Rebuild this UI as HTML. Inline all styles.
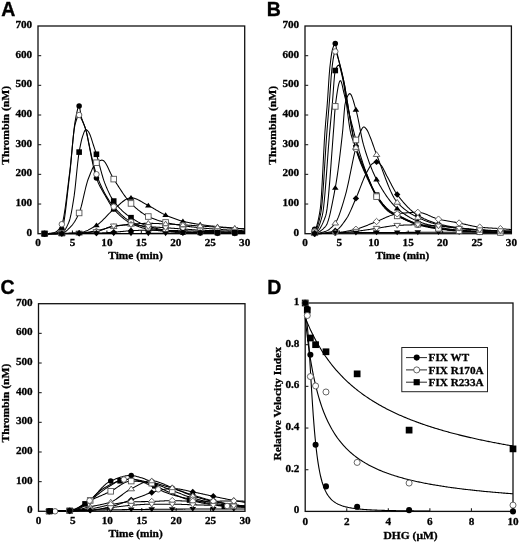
<!DOCTYPE html><html><head><meta charset="utf-8"><style>html,body{margin:0;padding:0;background:#fff;}svg{display:block;filter:blur(0.3px);}</style></head><body><svg width="520" height="542" viewBox="0 0 520 542">
<rect width="520" height="542" fill="#fff"/>
<rect x="38.0" y="26.0" width="206.7" height="207.7" fill="none" stroke="#111" stroke-width="1.3"/>
<text x="32.2" y="235.7" text-anchor="end" font-size="11.2" font-family="'Liberation Serif', serif" font-weight="bold" stroke="#000" stroke-width="0.3">0</text>
<line x1="38.0" y1="204.03" x2="41.2" y2="204.03" stroke="#222" stroke-width="1.1"/>
<text x="32.2" y="206.03" text-anchor="end" font-size="11.2" font-family="'Liberation Serif', serif" font-weight="bold" stroke="#000" stroke-width="0.3">100</text>
<line x1="38.0" y1="174.36" x2="41.2" y2="174.36" stroke="#222" stroke-width="1.1"/>
<text x="32.2" y="176.36" text-anchor="end" font-size="11.2" font-family="'Liberation Serif', serif" font-weight="bold" stroke="#000" stroke-width="0.3">200</text>
<line x1="38.0" y1="144.69" x2="41.2" y2="144.69" stroke="#222" stroke-width="1.1"/>
<text x="32.2" y="146.69" text-anchor="end" font-size="11.2" font-family="'Liberation Serif', serif" font-weight="bold" stroke="#000" stroke-width="0.3">300</text>
<line x1="38.0" y1="115.01" x2="41.2" y2="115.01" stroke="#222" stroke-width="1.1"/>
<text x="32.2" y="117.01" text-anchor="end" font-size="11.2" font-family="'Liberation Serif', serif" font-weight="bold" stroke="#000" stroke-width="0.3">400</text>
<line x1="38.0" y1="85.34" x2="41.2" y2="85.34" stroke="#222" stroke-width="1.1"/>
<text x="32.2" y="87.34" text-anchor="end" font-size="11.2" font-family="'Liberation Serif', serif" font-weight="bold" stroke="#000" stroke-width="0.3">500</text>
<line x1="38.0" y1="55.67" x2="41.2" y2="55.67" stroke="#222" stroke-width="1.1"/>
<text x="32.2" y="57.67" text-anchor="end" font-size="11.2" font-family="'Liberation Serif', serif" font-weight="bold" stroke="#000" stroke-width="0.3">600</text>
<text x="32.2" y="28" text-anchor="end" font-size="11.2" font-family="'Liberation Serif', serif" font-weight="bold" stroke="#000" stroke-width="0.3">700</text>
<text x="38" y="245.8" text-anchor="middle" font-size="11.2" font-family="'Liberation Serif', serif" font-weight="bold" stroke="#000" stroke-width="0.3">0</text>
<line x1="72.45" y1="233.7" x2="72.45" y2="230.5" stroke="#222" stroke-width="1.1"/>
<text x="72.45" y="245.8" text-anchor="middle" font-size="11.2" font-family="'Liberation Serif', serif" font-weight="bold" stroke="#000" stroke-width="0.3">5</text>
<line x1="106.9" y1="233.7" x2="106.9" y2="230.5" stroke="#222" stroke-width="1.1"/>
<text x="106.9" y="245.8" text-anchor="middle" font-size="11.2" font-family="'Liberation Serif', serif" font-weight="bold" stroke="#000" stroke-width="0.3">10</text>
<line x1="141.35" y1="233.7" x2="141.35" y2="230.5" stroke="#222" stroke-width="1.1"/>
<text x="141.35" y="245.8" text-anchor="middle" font-size="11.2" font-family="'Liberation Serif', serif" font-weight="bold" stroke="#000" stroke-width="0.3">15</text>
<line x1="175.8" y1="233.7" x2="175.8" y2="230.5" stroke="#222" stroke-width="1.1"/>
<text x="175.8" y="245.8" text-anchor="middle" font-size="11.2" font-family="'Liberation Serif', serif" font-weight="bold" stroke="#000" stroke-width="0.3">20</text>
<line x1="210.25" y1="233.7" x2="210.25" y2="230.5" stroke="#222" stroke-width="1.1"/>
<text x="210.25" y="245.8" text-anchor="middle" font-size="11.2" font-family="'Liberation Serif', serif" font-weight="bold" stroke="#000" stroke-width="0.3">25</text>
<text x="244.7" y="245.8" text-anchor="middle" font-size="11.2" font-family="'Liberation Serif', serif" font-weight="bold" stroke="#000" stroke-width="0.3">30</text>
<text x="135.5" y="258.9" text-anchor="middle" font-size="11.2" textLength="54.5" lengthAdjust="spacingAndGlyphs" font-family="'Liberation Serif', serif" font-weight="bold" stroke="#000" stroke-width="0.3">Time (min)</text>
<text transform="translate(9 125.3) rotate(-90)" text-anchor="middle" font-size="11.3" textLength="78.8" lengthAdjust="spacingAndGlyphs" font-family="'Liberation Serif', serif" font-weight="bold" stroke="#000" stroke-width="0.3">Thrombin (nM)</text>
<text x="1.2" y="15.6" font-size="19.5" font-family="'Liberation Sans', sans-serif" font-weight="bold" stroke="#000" stroke-width="0.35">A</text>
<rect x="305.0" y="26.0" width="206.4" height="207.7" fill="none" stroke="#111" stroke-width="1.3"/>
<text x="299.2" y="235.7" text-anchor="end" font-size="11.2" font-family="'Liberation Serif', serif" font-weight="bold" stroke="#000" stroke-width="0.3">0</text>
<line x1="305.0" y1="204.03" x2="308.2" y2="204.03" stroke="#222" stroke-width="1.1"/>
<text x="299.2" y="206.03" text-anchor="end" font-size="11.2" font-family="'Liberation Serif', serif" font-weight="bold" stroke="#000" stroke-width="0.3">100</text>
<line x1="305.0" y1="174.36" x2="308.2" y2="174.36" stroke="#222" stroke-width="1.1"/>
<text x="299.2" y="176.36" text-anchor="end" font-size="11.2" font-family="'Liberation Serif', serif" font-weight="bold" stroke="#000" stroke-width="0.3">200</text>
<line x1="305.0" y1="144.69" x2="308.2" y2="144.69" stroke="#222" stroke-width="1.1"/>
<text x="299.2" y="146.69" text-anchor="end" font-size="11.2" font-family="'Liberation Serif', serif" font-weight="bold" stroke="#000" stroke-width="0.3">300</text>
<line x1="305.0" y1="115.01" x2="308.2" y2="115.01" stroke="#222" stroke-width="1.1"/>
<text x="299.2" y="117.01" text-anchor="end" font-size="11.2" font-family="'Liberation Serif', serif" font-weight="bold" stroke="#000" stroke-width="0.3">400</text>
<line x1="305.0" y1="85.34" x2="308.2" y2="85.34" stroke="#222" stroke-width="1.1"/>
<text x="299.2" y="87.34" text-anchor="end" font-size="11.2" font-family="'Liberation Serif', serif" font-weight="bold" stroke="#000" stroke-width="0.3">500</text>
<line x1="305.0" y1="55.67" x2="308.2" y2="55.67" stroke="#222" stroke-width="1.1"/>
<text x="299.2" y="57.67" text-anchor="end" font-size="11.2" font-family="'Liberation Serif', serif" font-weight="bold" stroke="#000" stroke-width="0.3">600</text>
<text x="299.2" y="28" text-anchor="end" font-size="11.2" font-family="'Liberation Serif', serif" font-weight="bold" stroke="#000" stroke-width="0.3">700</text>
<text x="305" y="245.8" text-anchor="middle" font-size="11.2" font-family="'Liberation Serif', serif" font-weight="bold" stroke="#000" stroke-width="0.3">0</text>
<line x1="339.4" y1="233.7" x2="339.4" y2="230.5" stroke="#222" stroke-width="1.1"/>
<text x="339.4" y="245.8" text-anchor="middle" font-size="11.2" font-family="'Liberation Serif', serif" font-weight="bold" stroke="#000" stroke-width="0.3">5</text>
<line x1="373.8" y1="233.7" x2="373.8" y2="230.5" stroke="#222" stroke-width="1.1"/>
<text x="373.8" y="245.8" text-anchor="middle" font-size="11.2" font-family="'Liberation Serif', serif" font-weight="bold" stroke="#000" stroke-width="0.3">10</text>
<line x1="408.2" y1="233.7" x2="408.2" y2="230.5" stroke="#222" stroke-width="1.1"/>
<text x="408.2" y="245.8" text-anchor="middle" font-size="11.2" font-family="'Liberation Serif', serif" font-weight="bold" stroke="#000" stroke-width="0.3">15</text>
<line x1="442.6" y1="233.7" x2="442.6" y2="230.5" stroke="#222" stroke-width="1.1"/>
<text x="442.6" y="245.8" text-anchor="middle" font-size="11.2" font-family="'Liberation Serif', serif" font-weight="bold" stroke="#000" stroke-width="0.3">20</text>
<line x1="477" y1="233.7" x2="477" y2="230.5" stroke="#222" stroke-width="1.1"/>
<text x="477" y="245.8" text-anchor="middle" font-size="11.2" font-family="'Liberation Serif', serif" font-weight="bold" stroke="#000" stroke-width="0.3">25</text>
<text x="511.4" y="245.8" text-anchor="middle" font-size="11.2" font-family="'Liberation Serif', serif" font-weight="bold" stroke="#000" stroke-width="0.3">30</text>
<text x="402.3" y="259.2" text-anchor="middle" font-size="11.2" textLength="53.8" lengthAdjust="spacingAndGlyphs" font-family="'Liberation Serif', serif" font-weight="bold" stroke="#000" stroke-width="0.3">Time (min)</text>
<text transform="translate(275.8 125.3) rotate(-90)" text-anchor="middle" font-size="11.3" textLength="78.8" lengthAdjust="spacingAndGlyphs" font-family="'Liberation Serif', serif" font-weight="bold" stroke="#000" stroke-width="0.3">Thrombin (nM)</text>
<text x="266.8" y="15.8" font-size="19.5" font-family="'Liberation Sans', sans-serif" font-weight="bold" stroke="#000" stroke-width="0.35">B</text>
<rect x="38.5" y="303.7" width="206.5" height="207.6" fill="none" stroke="#111" stroke-width="1.3"/>
<text x="32.7" y="513.3" text-anchor="end" font-size="11.2" font-family="'Liberation Serif', serif" font-weight="bold" stroke="#000" stroke-width="0.3">0</text>
<line x1="38.5" y1="481.64" x2="41.7" y2="481.64" stroke="#222" stroke-width="1.1"/>
<text x="32.7" y="483.64" text-anchor="end" font-size="11.2" font-family="'Liberation Serif', serif" font-weight="bold" stroke="#000" stroke-width="0.3">100</text>
<line x1="38.5" y1="451.99" x2="41.7" y2="451.99" stroke="#222" stroke-width="1.1"/>
<text x="32.7" y="453.99" text-anchor="end" font-size="11.2" font-family="'Liberation Serif', serif" font-weight="bold" stroke="#000" stroke-width="0.3">200</text>
<line x1="38.5" y1="422.33" x2="41.7" y2="422.33" stroke="#222" stroke-width="1.1"/>
<text x="32.7" y="424.33" text-anchor="end" font-size="11.2" font-family="'Liberation Serif', serif" font-weight="bold" stroke="#000" stroke-width="0.3">300</text>
<line x1="38.5" y1="392.67" x2="41.7" y2="392.67" stroke="#222" stroke-width="1.1"/>
<text x="32.7" y="394.67" text-anchor="end" font-size="11.2" font-family="'Liberation Serif', serif" font-weight="bold" stroke="#000" stroke-width="0.3">400</text>
<line x1="38.5" y1="363.01" x2="41.7" y2="363.01" stroke="#222" stroke-width="1.1"/>
<text x="32.7" y="365.01" text-anchor="end" font-size="11.2" font-family="'Liberation Serif', serif" font-weight="bold" stroke="#000" stroke-width="0.3">500</text>
<line x1="38.5" y1="333.36" x2="41.7" y2="333.36" stroke="#222" stroke-width="1.1"/>
<text x="32.7" y="335.36" text-anchor="end" font-size="11.2" font-family="'Liberation Serif', serif" font-weight="bold" stroke="#000" stroke-width="0.3">600</text>
<text x="32.7" y="305.7" text-anchor="end" font-size="11.2" font-family="'Liberation Serif', serif" font-weight="bold" stroke="#000" stroke-width="0.3">700</text>
<text x="38.5" y="524.2" text-anchor="middle" font-size="11.2" font-family="'Liberation Serif', serif" font-weight="bold" stroke="#000" stroke-width="0.3">0</text>
<line x1="72.92" y1="511.3" x2="72.92" y2="508.1" stroke="#222" stroke-width="1.1"/>
<text x="72.92" y="524.2" text-anchor="middle" font-size="11.2" font-family="'Liberation Serif', serif" font-weight="bold" stroke="#000" stroke-width="0.3">5</text>
<line x1="107.33" y1="511.3" x2="107.33" y2="508.1" stroke="#222" stroke-width="1.1"/>
<text x="107.33" y="524.2" text-anchor="middle" font-size="11.2" font-family="'Liberation Serif', serif" font-weight="bold" stroke="#000" stroke-width="0.3">10</text>
<line x1="141.75" y1="511.3" x2="141.75" y2="508.1" stroke="#222" stroke-width="1.1"/>
<text x="141.75" y="524.2" text-anchor="middle" font-size="11.2" font-family="'Liberation Serif', serif" font-weight="bold" stroke="#000" stroke-width="0.3">15</text>
<line x1="176.17" y1="511.3" x2="176.17" y2="508.1" stroke="#222" stroke-width="1.1"/>
<text x="176.17" y="524.2" text-anchor="middle" font-size="11.2" font-family="'Liberation Serif', serif" font-weight="bold" stroke="#000" stroke-width="0.3">20</text>
<line x1="210.58" y1="511.3" x2="210.58" y2="508.1" stroke="#222" stroke-width="1.1"/>
<text x="210.58" y="524.2" text-anchor="middle" font-size="11.2" font-family="'Liberation Serif', serif" font-weight="bold" stroke="#000" stroke-width="0.3">25</text>
<text x="245" y="524.2" text-anchor="middle" font-size="11.2" font-family="'Liberation Serif', serif" font-weight="bold" stroke="#000" stroke-width="0.3">30</text>
<text x="135.6" y="536.6" text-anchor="middle" font-size="11.2" textLength="54.2" lengthAdjust="spacingAndGlyphs" font-family="'Liberation Serif', serif" font-weight="bold" stroke="#000" stroke-width="0.3">Time (min)</text>
<text transform="translate(9 403.1) rotate(-90)" text-anchor="middle" font-size="11.3" textLength="78.8" lengthAdjust="spacingAndGlyphs" font-family="'Liberation Serif', serif" font-weight="bold" stroke="#000" stroke-width="0.3">Thrombin (nM)</text>
<text x="0.5" y="293.9" font-size="19.5" font-family="'Liberation Sans', sans-serif" font-weight="bold" stroke="#000" stroke-width="0.35">C</text>
<rect x="305.2" y="303.0" width="207.8" height="208.4" fill="none" stroke="#111" stroke-width="1.3"/>
<text x="299.4" y="513.4" text-anchor="end" font-size="11.2" font-family="'Liberation Serif', serif" font-weight="bold" stroke="#000" stroke-width="0.3">0</text>
<line x1="305.2" y1="469.72" x2="308.4" y2="469.72" stroke="#222" stroke-width="1.1"/>
<text x="299.4" y="471.72" text-anchor="end" font-size="11.2" font-family="'Liberation Serif', serif" font-weight="bold" stroke="#000" stroke-width="0.3">0.2</text>
<line x1="305.2" y1="428.04" x2="308.4" y2="428.04" stroke="#222" stroke-width="1.1"/>
<text x="299.4" y="430.04" text-anchor="end" font-size="11.2" font-family="'Liberation Serif', serif" font-weight="bold" stroke="#000" stroke-width="0.3">0.4</text>
<line x1="305.2" y1="386.36" x2="308.4" y2="386.36" stroke="#222" stroke-width="1.1"/>
<text x="299.4" y="388.36" text-anchor="end" font-size="11.2" font-family="'Liberation Serif', serif" font-weight="bold" stroke="#000" stroke-width="0.3">0.6</text>
<line x1="305.2" y1="344.68" x2="308.4" y2="344.68" stroke="#222" stroke-width="1.1"/>
<text x="299.4" y="346.68" text-anchor="end" font-size="11.2" font-family="'Liberation Serif', serif" font-weight="bold" stroke="#000" stroke-width="0.3">0.8</text>
<text x="299.4" y="305" text-anchor="end" font-size="11.2" font-family="'Liberation Serif', serif" font-weight="bold" stroke="#000" stroke-width="0.3">1</text>
<text x="305.2" y="525.2" text-anchor="middle" font-size="11.2" font-family="'Liberation Serif', serif" font-weight="bold" stroke="#000" stroke-width="0.3">0</text>
<line x1="346.76" y1="511.4" x2="346.76" y2="508.2" stroke="#222" stroke-width="1.1"/>
<text x="346.76" y="525.2" text-anchor="middle" font-size="11.2" font-family="'Liberation Serif', serif" font-weight="bold" stroke="#000" stroke-width="0.3">2</text>
<line x1="388.32" y1="511.4" x2="388.32" y2="508.2" stroke="#222" stroke-width="1.1"/>
<text x="388.32" y="525.2" text-anchor="middle" font-size="11.2" font-family="'Liberation Serif', serif" font-weight="bold" stroke="#000" stroke-width="0.3">4</text>
<line x1="429.88" y1="511.4" x2="429.88" y2="508.2" stroke="#222" stroke-width="1.1"/>
<text x="429.88" y="525.2" text-anchor="middle" font-size="11.2" font-family="'Liberation Serif', serif" font-weight="bold" stroke="#000" stroke-width="0.3">6</text>
<line x1="471.44" y1="511.4" x2="471.44" y2="508.2" stroke="#222" stroke-width="1.1"/>
<text x="471.44" y="525.2" text-anchor="middle" font-size="11.2" font-family="'Liberation Serif', serif" font-weight="bold" stroke="#000" stroke-width="0.3">8</text>
<text x="513" y="525.2" text-anchor="middle" font-size="11.2" font-family="'Liberation Serif', serif" font-weight="bold" stroke="#000" stroke-width="0.3">10</text>
<text x="410.6" y="538.5" text-anchor="middle" font-size="11.2" textLength="54.2" lengthAdjust="spacingAndGlyphs" font-family="'Liberation Serif', serif" font-weight="bold" stroke="#000" stroke-width="0.3">DHG (μM)</text>
<text transform="translate(281 403.8) rotate(-90)" text-anchor="middle" font-size="11.3" textLength="113.6" lengthAdjust="spacingAndGlyphs" font-family="'Liberation Serif', serif" font-weight="bold" stroke="#000" stroke-width="0.3">Relative Velocity Index</text>
<text x="267.2" y="293.6" font-size="19.5" font-family="'Liberation Sans', sans-serif" font-weight="bold" stroke="#000" stroke-width="0.35">D</text>
<path d="M44.55 233.7L45.24 233.7L45.93 233.69L46.62 233.68L47.31 233.66L48 233.64L48.69 233.61L49.38 233.58L50.07 233.54L50.76 233.5L51.45 233.45L52.14 233.4L52.83 233.34L53.52 233.28L54.21 233.21L54.9 233.14L55.59 233.06L56.28 232.91L56.97 232.7L57.66 232.41L58.35 232.06L59.04 231.64L59.73 231.16L60.42 230.6L61.11 229.98L61.8 229.29L62.49 228.01L63.18 225.57L63.87 222.13L64.56 217.83L65.25 212.84L65.94 207.31L66.63 201.39L67.32 195.23L68.01 188.99L68.7 182.82L69.39 176.88L70.08 170.95L70.77 164.11L71.46 156.63L72.15 148.88L72.84 141.24L73.53 134.07L74.22 127.75L74.91 122.65L75.6 118.82L76.29 115.15L76.98 111.76L77.67 108.93L78.36 106.95L79.05 106.12L79.75 107.82L80.44 112.13L81.13 116.19L81.82 118.65L82.51 120.69L83.2 122.49L83.89 124.21L84.58 126L85.27 128L85.96 130.37L86.65 133.23L87.34 136.45L88.03 139.88L88.72 143.36L89.41 146.8L90.1 150.43L90.79 154.09L91.48 157.61L92.17 160.85L92.86 164.06L93.55 167.21L94.24 170.25L94.93 173.07L95.62 175.61L96.31 177.78L97 179.65L97.69 181.39L98.38 183.01L99.07 184.53L99.76 185.96L100.45 187.32L101.14 188.61L101.83 189.85L102.52 191.05L103.21 192.22L103.9 193.38L104.59 194.55L105.28 195.72L105.97 196.92L106.66 198.13L107.35 199.34L108.04 200.55L108.73 201.74L109.42 202.9L110.11 204.03L110.8 205.12L111.49 206.16L112.18 207.14L112.87 208.06L113.56 208.89L114.25 209.67L114.94 210.43L115.63 211.17L116.33 211.9L117.02 212.61L117.71 213.3L118.4 213.98L119.09 214.65L119.78 215.29L120.47 215.93L121.16 216.54L121.85 217.14L122.54 217.71L123.23 218.28L123.92 218.82L124.61 219.35L125.3 219.85L125.99 220.34L126.68 220.81L127.37 221.26L128.06 221.69L128.75 222.1L129.44 222.5L130.13 222.87L130.82 223.22L131.51 223.55L132.2 223.88L132.89 224.2L133.58 224.51L134.27 224.82L134.96 225.12L135.65 225.41L136.34 225.7L137.03 225.97L137.72 226.24L138.41 226.5L139.1 226.76L139.79 227L140.48 227.24L141.17 227.46L141.86 227.68L142.55 227.89L143.24 228.09L143.93 228.28L144.62 228.46L145.31 228.63L146 228.8L146.69 228.95L147.38 229.09L148.07 229.22L148.76 229.34L149.45 229.46L150.14 229.57L150.83 229.68L151.52 229.79L152.21 229.89L152.91 229.99L153.6 230.08L154.29 230.17L154.98 230.26L155.67 230.34L156.36 230.43L157.05 230.51L157.74 230.58L158.43 230.66L159.12 230.73L159.81 230.8L160.5 230.87L161.19 230.94L161.88 231L162.57 231.07L163.26 231.13L163.95 231.19L164.64 231.25L165.33 231.31L166.02 231.38L166.71 231.44L167.4 231.5L168.09 231.56L168.78 231.62L169.47 231.68L170.16 231.74L170.85 231.8L171.54 231.86L172.23 231.92L172.92 231.98L173.61 232.03L174.3 232.08L174.99 232.13L175.68 232.18L176.37 232.23L177.06 232.27L177.75 232.32L178.44 232.35L179.13 232.39L179.82 232.42L180.51 232.45L181.2 232.47L181.89 232.49L182.58 232.51L183.27 232.52L183.96 232.54L184.65 232.55L185.34 232.56L186.03 232.58L186.72 232.59L187.41 232.6L188.1 232.61L188.79 232.63L189.48 232.64L190.18 232.65L190.87 232.66L191.56 232.67L192.25 232.69L192.94 232.7L193.63 232.71L194.32 232.72L195.01 232.73L195.7 232.74L196.39 232.75L197.08 232.76L197.77 232.77L198.46 232.78L199.15 232.79L199.84 232.8L200.53 232.81L201.22 232.82L201.91 232.83L202.6 232.84L203.29 232.85L203.98 232.85L204.67 232.86L205.36 232.87L206.05 232.88L206.74 232.89L207.43 232.9L208.12 232.9L208.81 232.91L209.5 232.92L210.19 232.93L210.88 232.93L211.57 232.94L212.26 232.95L212.95 232.95L213.64 232.96L214.33 232.97L215.02 232.97L215.71 232.98L216.4 232.99L217.09 232.99L217.78 233L218.47 233L219.16 233.01L219.85 233.01L220.54 233.02L221.23 233.02L221.92 233.03L222.61 233.03L223.3 233.04L223.99 233.04L224.68 233.05L225.37 233.05L226.06 233.05L226.76 233.06L227.45 233.06L228.14 233.07L228.83 233.07L229.52 233.07L230.21 233.08L230.9 233.08L231.59 233.08L232.28 233.08L232.97 233.09L233.66 233.09L234.35 233.09L235.04 233.09L235.73 233.09L236.42 233.1L237.11 233.1L237.8 233.1L238.49 233.1L239.18 233.1L239.87 233.1L240.56 233.1L241.25 233.1L241.94 233.11L242.63 233.11L243.32 233.11L244.01 233.11L244.7 233.11" fill="none" stroke="#000" stroke-width="1.05"/>
<path d="M44.55 233.7L45.24 233.69L45.93 233.67L46.62 233.64L47.31 233.59L48 233.54L48.69 233.47L49.38 233.38L50.07 233.29L50.76 233.18L51.45 233.06L52.14 232.93L52.83 232.79L53.52 232.64L54.21 232.48L54.9 232.3L55.59 232.1L56.28 231.76L56.97 231.27L57.66 230.64L58.35 229.88L59.04 228.99L59.73 227.97L60.42 226.85L61.11 225.62L61.8 224.28L62.49 222.47L63.18 219.77L63.87 216.29L64.56 212.16L65.25 207.48L65.94 202.39L66.63 196.99L67.32 191.4L68.01 185.73L68.7 180.11L69.39 174.66L70.08 169.14L70.77 162.67L71.46 155.59L72.15 148.28L72.84 141.17L73.53 134.67L74.22 129.18L74.91 125.11L75.6 122.54L76.29 120.26L76.98 118.24L77.67 116.6L78.36 115.48L79.05 115.02L79.75 115.51L80.44 116.87L81.13 118.42L81.82 119.81L82.51 121.25L83.2 122.78L83.89 124.42L84.58 126.21L85.27 128.16L85.96 130.31L86.65 132.93L87.34 135.97L88.03 139.24L88.72 142.54L89.41 145.79L90.1 149.23L90.79 152.69L91.48 155.98L92.17 158.95L92.86 161.77L93.55 164.49L94.24 167.09L94.93 169.55L95.62 171.83L96.31 173.92L97 175.86L97.69 177.72L98.38 179.51L99.07 181.23L99.76 182.89L100.45 184.48L101.14 186.02L101.83 187.51L102.52 188.94L103.21 190.32L103.9 191.66L104.59 192.96L105.28 194.21L105.97 195.43L106.66 196.62L107.35 197.78L108.04 198.9L108.73 199.98L109.42 201.03L110.11 202.05L110.8 203.02L111.49 203.96L112.18 204.86L112.87 205.71L113.56 206.52L114.25 207.3L114.94 208.07L115.63 208.83L116.33 209.58L117.02 210.32L117.71 211.05L118.4 211.77L119.09 212.48L119.78 213.17L120.47 213.85L121.16 214.51L121.85 215.16L122.54 215.79L123.23 216.4L123.92 217L124.61 217.57L125.3 218.13L125.99 218.66L126.68 219.17L127.37 219.66L128.06 220.12L128.75 220.57L129.44 220.98L130.13 221.37L130.82 221.73L131.51 222.07L132.2 222.4L132.89 222.72L133.58 223.03L134.27 223.33L134.96 223.62L135.65 223.9L136.34 224.18L137.03 224.44L137.72 224.7L138.41 224.95L139.1 225.19L139.79 225.42L140.48 225.65L141.17 225.87L141.86 226.08L142.55 226.29L143.24 226.49L143.93 226.68L144.62 226.87L145.31 227.05L146 227.23L146.69 227.4L147.38 227.57L148.07 227.73L148.76 227.89L149.45 228.04L150.14 228.19L150.83 228.34L151.52 228.48L152.21 228.63L152.91 228.76L153.6 228.9L154.29 229.03L154.98 229.16L155.67 229.29L156.36 229.41L157.05 229.53L157.74 229.65L158.43 229.76L159.12 229.87L159.81 229.98L160.5 230.08L161.19 230.18L161.88 230.28L162.57 230.37L163.26 230.46L163.95 230.55L164.64 230.64L165.33 230.72L166.02 230.8L166.71 230.88L167.4 230.95L168.09 231.03L168.78 231.11L169.47 231.19L170.16 231.26L170.85 231.34L171.54 231.41L172.23 231.48L172.92 231.55L173.61 231.62L174.3 231.68L174.99 231.74L175.68 231.8L176.37 231.86L177.06 231.91L177.75 231.97L178.44 232.01L179.13 232.06L179.82 232.1L180.51 232.13L181.2 232.16L181.89 232.19L182.58 232.21L183.27 232.23L183.96 232.25L184.65 232.27L185.34 232.29L186.03 232.31L186.72 232.33L187.41 232.35L188.1 232.36L188.79 232.38L189.48 232.4L190.18 232.42L190.87 232.43L191.56 232.45L192.25 232.47L192.94 232.48L193.63 232.5L194.32 232.52L195.01 232.53L195.7 232.55L196.39 232.56L197.08 232.58L197.77 232.59L198.46 232.61L199.15 232.62L199.84 232.64L200.53 232.65L201.22 232.67L201.91 232.68L202.6 232.69L203.29 232.71L203.98 232.72L204.67 232.73L205.36 232.75L206.05 232.76L206.74 232.77L207.43 232.78L208.12 232.79L208.81 232.81L209.5 232.82L210.19 232.83L210.88 232.84L211.57 232.85L212.26 232.86L212.95 232.87L213.64 232.88L214.33 232.89L215.02 232.9L215.71 232.91L216.4 232.92L217.09 232.93L217.78 232.94L218.47 232.95L219.16 232.95L219.85 232.96L220.54 232.97L221.23 232.98L221.92 232.99L222.61 232.99L223.3 233L223.99 233.01L224.68 233.01L225.37 233.02L226.06 233.03L226.76 233.03L227.45 233.04L228.14 233.04L228.83 233.05L229.52 233.05L230.21 233.06L230.9 233.06L231.59 233.07L232.28 233.07L232.97 233.07L233.66 233.08L234.35 233.08L235.04 233.08L235.73 233.09L236.42 233.09L237.11 233.09L237.8 233.1L238.49 233.1L239.18 233.1L239.87 233.1L240.56 233.1L241.25 233.1L241.94 233.1L242.63 233.11L243.32 233.11L244.01 233.11L244.7 233.11" fill="none" stroke="#000" stroke-width="1.05"/>
<path d="M44.55 233.7L45.24 233.7L45.93 233.69L46.62 233.69L47.31 233.67L48 233.66L48.69 233.64L49.38 233.62L50.07 233.59L50.76 233.57L51.45 233.53L52.14 233.5L52.83 233.45L53.52 233.41L54.21 233.36L54.9 233.31L55.59 233.25L56.28 233.19L56.97 233.12L57.66 233.05L58.35 232.97L59.04 232.89L59.73 232.81L60.42 232.72L61.11 232.62L61.8 232.52L62.49 232.31L63.18 231.88L63.87 231.25L64.56 230.42L65.25 229.43L65.94 228.29L66.63 227.01L67.32 225.61L68.01 224.12L68.7 222.54L69.39 220.8L70.08 218.43L70.77 215.49L71.46 212.06L72.15 208.26L72.84 204.18L73.53 199.93L74.22 195.41L74.91 189.83L75.6 183.46L76.29 176.65L76.98 169.79L77.67 163.24L78.36 157.38L79.05 152.57L79.75 148.67L80.44 145.07L81.13 141.83L81.82 138.99L82.51 136.6L83.2 134.62L83.89 132.67L84.58 130.99L85.27 129.87L85.96 129.56L86.65 129.85L87.34 130.45L88.03 131.24L88.72 132.12L89.41 133.41L90.1 135.06L90.79 136.83L91.48 138.88L92.17 141.1L92.86 143.35L93.55 145.49L94.24 147.57L94.93 149.64L95.62 151.73L96.31 153.88L97 156.13L97.69 158.52L98.38 161.01L99.07 163.57L99.76 166.16L100.45 168.76L101.14 171.33L101.83 173.85L102.52 176.26L103.21 178.56L103.9 180.69L104.59 182.63L105.28 184.39L105.97 186.09L106.66 187.74L107.35 189.34L108.04 190.88L108.73 192.36L109.42 193.78L110.11 195.14L110.8 196.42L111.49 197.64L112.18 198.79L112.87 199.86L113.56 200.85L114.25 201.77L114.94 202.67L115.63 203.55L116.33 204.39L117.02 205.22L117.71 206.02L118.4 206.8L119.09 207.56L119.78 208.29L120.47 209L121.16 209.7L121.85 210.37L122.54 211.02L123.23 211.66L123.92 212.27L124.61 212.87L125.3 213.45L125.99 214.02L126.68 214.57L127.37 215.1L128.06 215.62L128.75 216.12L129.44 216.61L130.13 217.08L130.82 217.55L131.51 218L132.2 218.45L132.89 218.88L133.58 219.31L134.27 219.74L134.96 220.15L135.65 220.56L136.34 220.95L137.03 221.34L137.72 221.72L138.41 222.1L139.1 222.46L139.79 222.81L140.48 223.16L141.17 223.49L141.86 223.81L142.55 224.12L143.24 224.43L143.93 224.72L144.62 225L145.31 225.27L146 225.53L146.69 225.77L147.38 226.01L148.07 226.23L148.76 226.44L149.45 226.65L150.14 226.85L150.83 227.05L151.52 227.24L152.21 227.43L152.91 227.61L153.6 227.79L154.29 227.97L154.98 228.14L155.67 228.3L156.36 228.46L157.05 228.62L157.74 228.77L158.43 228.91L159.12 229.05L159.81 229.19L160.5 229.32L161.19 229.45L161.88 229.57L162.57 229.69L163.26 229.8L163.95 229.91L164.64 230.02L165.33 230.12L166.02 230.22L166.71 230.31L167.4 230.41L168.09 230.51L168.78 230.6L169.47 230.7L170.16 230.79L170.85 230.88L171.54 230.97L172.23 231.05L172.92 231.14L173.61 231.22L174.3 231.3L174.99 231.37L175.68 231.44L176.37 231.51L177.06 231.57L177.75 231.63L178.44 231.69L179.13 231.74L179.82 231.79L180.51 231.83L181.2 231.86L181.89 231.89L182.58 231.92L183.27 231.94L183.96 231.96L184.65 231.98L185.34 232L186.03 232.02L186.72 232.03L187.41 232.05L188.1 232.07L188.79 232.09L189.48 232.11L190.18 232.13L190.87 232.14L191.56 232.16L192.25 232.18L192.94 232.19L193.63 232.21L194.32 232.23L195.01 232.24L195.7 232.26L196.39 232.28L197.08 232.29L197.77 232.31L198.46 232.32L199.15 232.34L199.84 232.35L200.53 232.36L201.22 232.38L201.91 232.39L202.6 232.41L203.29 232.42L203.98 232.43L204.67 232.45L205.36 232.46L206.05 232.47L206.74 232.48L207.43 232.49L208.12 232.51L208.81 232.52L209.5 232.53L210.19 232.54L210.88 232.55L211.57 232.56L212.26 232.57L212.95 232.58L213.64 232.59L214.33 232.6L215.02 232.61L215.71 232.62L216.4 232.63L217.09 232.64L217.78 232.65L218.47 232.66L219.16 232.66L219.85 232.67L220.54 232.68L221.23 232.69L221.92 232.69L222.61 232.7L223.3 232.71L223.99 232.71L224.68 232.72L225.37 232.73L226.06 232.73L226.76 232.74L227.45 232.74L228.14 232.75L228.83 232.75L229.52 232.76L230.21 232.76L230.9 232.77L231.59 232.77L232.28 232.78L232.97 232.78L233.66 232.78L234.35 232.79L235.04 232.79L235.73 232.79L236.42 232.79L237.11 232.8L237.8 232.8L238.49 232.8L239.18 232.8L239.87 232.8L240.56 232.81L241.25 232.81L241.94 232.81L242.63 232.81L243.32 232.81L244.01 232.81L244.7 232.81" fill="none" stroke="#000" stroke-width="1.05"/>
<path d="M44.55 233.7L45.24 233.7L45.93 233.7L46.62 233.69L47.31 233.69L48 233.68L48.69 233.67L49.38 233.66L50.07 233.64L50.76 233.63L51.45 233.61L52.14 233.59L52.83 233.57L53.52 233.55L54.21 233.52L54.9 233.5L55.59 233.47L56.28 233.44L56.97 233.4L57.66 233.37L58.35 233.33L59.04 233.29L59.73 233.25L60.42 233.2L61.11 233.16L61.8 233.11L62.49 233.01L63.18 232.82L63.87 232.53L64.56 232.16L65.25 231.72L65.94 231.22L66.63 230.65L67.32 230.04L68.01 229.4L68.7 228.72L69.39 228.02L70.08 227.31L70.77 226.59L71.46 225.87L72.15 225.08L72.84 224.21L73.53 223.27L74.22 222.26L74.91 221.17L75.6 220.01L76.29 218.77L76.98 217.47L77.67 216.09L78.36 214.63L79.05 213.11L79.75 211.38L80.44 209.29L81.13 206.89L81.82 204.25L82.51 201.42L83.2 198.48L83.89 195.47L84.58 192.45L85.27 189.5L85.96 186.68L86.65 184.03L87.34 181.63L88.03 179.53L88.72 177.72L89.41 175.95L90.1 174.2L90.79 172.49L91.48 170.84L92.17 169.28L92.86 167.83L93.55 166.5L94.24 165.31L94.93 164.29L95.62 163.45L96.31 162.82L97 162.32L97.69 161.85L98.38 161.4L99.07 161.01L99.76 160.67L100.45 160.4L101.14 160.21L101.83 160.12L102.52 160.17L103.21 160.47L103.9 161L104.59 161.74L105.28 162.67L105.97 163.75L106.66 164.97L107.35 166.29L108.04 167.7L108.73 169.16L109.42 170.66L110.11 172.16L110.8 173.64L111.49 175.07L112.18 176.44L112.87 177.71L113.56 178.86L114.25 179.92L114.94 180.98L115.63 182.04L116.33 183.12L117.02 184.19L117.71 185.27L118.4 186.35L119.09 187.42L119.78 188.49L120.47 189.55L121.16 190.6L121.85 191.64L122.54 192.67L123.23 193.69L123.92 194.68L124.61 195.66L125.3 196.61L125.99 197.54L126.68 198.45L127.37 199.33L128.06 200.18L128.75 201L129.44 201.78L130.13 202.53L130.82 203.24L131.51 203.92L132.2 204.59L132.89 205.25L133.58 205.89L134.27 206.53L134.96 207.16L135.65 207.77L136.34 208.37L137.03 208.96L137.72 209.54L138.41 210.1L139.1 210.65L139.79 211.19L140.48 211.71L141.17 212.22L141.86 212.71L142.55 213.19L143.24 213.65L143.93 214.1L144.62 214.53L145.31 214.94L146 215.33L146.69 215.71L147.38 216.07L148.07 216.41L148.76 216.74L149.45 217.05L150.14 217.36L150.83 217.66L151.52 217.95L152.21 218.23L152.91 218.51L153.6 218.78L154.29 219.04L154.98 219.29L155.67 219.54L156.36 219.78L157.05 220.02L157.74 220.24L158.43 220.47L159.12 220.68L159.81 220.89L160.5 221.1L161.19 221.3L161.88 221.49L162.57 221.68L163.26 221.86L163.95 222.04L164.64 222.22L165.33 222.39L166.02 222.56L166.71 222.72L167.4 222.88L168.09 223.04L168.78 223.19L169.47 223.34L170.16 223.49L170.85 223.63L171.54 223.77L172.23 223.91L172.92 224.05L173.61 224.18L174.3 224.31L174.99 224.43L175.68 224.56L176.37 224.68L177.06 224.8L177.75 224.91L178.44 225.03L179.13 225.14L179.82 225.25L180.51 225.36L181.2 225.47L181.89 225.57L182.58 225.67L183.27 225.77L183.96 225.87L184.65 225.97L185.34 226.07L186.03 226.16L186.72 226.25L187.41 226.34L188.1 226.43L188.79 226.52L189.48 226.61L190.18 226.69L190.87 226.78L191.56 226.86L192.25 226.94L192.94 227.02L193.63 227.1L194.32 227.17L195.01 227.25L195.7 227.33L196.39 227.4L197.08 227.47L197.77 227.55L198.46 227.62L199.15 227.69L199.84 227.76L200.53 227.83L201.22 227.9L201.91 227.96L202.6 228.03L203.29 228.1L203.98 228.16L204.67 228.23L205.36 228.29L206.05 228.36L206.74 228.42L207.43 228.48L208.12 228.54L208.81 228.6L209.5 228.66L210.19 228.72L210.88 228.78L211.57 228.83L212.26 228.89L212.95 228.94L213.64 229L214.33 229.05L215.02 229.1L215.71 229.15L216.4 229.2L217.09 229.25L217.78 229.29L218.47 229.34L219.16 229.38L219.85 229.43L220.54 229.48L221.23 229.52L221.92 229.56L222.61 229.61L223.3 229.65L223.99 229.7L224.68 229.74L225.37 229.78L226.06 229.82L226.76 229.87L227.45 229.91L228.14 229.95L228.83 229.99L229.52 230.03L230.21 230.07L230.9 230.11L231.59 230.14L232.28 230.18L232.97 230.22L233.66 230.25L234.35 230.29L235.04 230.32L235.73 230.36L236.42 230.39L237.11 230.42L237.8 230.46L238.49 230.49L239.18 230.52L239.87 230.55L240.56 230.58L241.25 230.6L241.94 230.63L242.63 230.66L243.32 230.68L244.01 230.71L244.7 230.73" fill="none" stroke="#000" stroke-width="1.05"/>
<path d="M44.55 233.7L45.24 233.7L45.93 233.7L46.62 233.7L47.31 233.69L48 233.69L48.69 233.69L49.38 233.68L50.07 233.68L50.76 233.67L51.45 233.67L52.14 233.66L52.83 233.65L53.52 233.64L54.21 233.64L54.9 233.63L55.59 233.62L56.28 233.6L56.97 233.59L57.66 233.58L58.35 233.57L59.04 233.55L59.73 233.54L60.42 233.52L61.11 233.51L61.8 233.49L62.49 233.47L63.18 233.45L63.87 233.43L64.56 233.41L65.25 233.39L65.94 233.37L66.63 233.35L67.32 233.33L68.01 233.3L68.7 233.28L69.39 233.25L70.08 233.23L70.77 233.2L71.46 233.17L72.15 233.14L72.84 233.11L73.53 233.08L74.22 233.05L74.91 233.02L75.6 232.99L76.29 232.96L76.98 232.92L77.67 232.89L78.36 232.85L79.05 232.81L79.75 232.76L80.44 232.68L81.13 232.57L81.82 232.43L82.51 232.26L83.2 232.07L83.89 231.85L84.58 231.61L85.27 231.35L85.96 231.06L86.65 230.76L87.34 230.44L88.03 230.11L88.72 229.76L89.41 229.4L90.1 229.03L90.79 228.65L91.48 228.26L92.17 227.86L92.86 227.46L93.55 227.05L94.24 226.65L94.93 226.24L95.62 225.83L96.31 225.42L97 225L97.69 224.53L98.38 224.03L99.07 223.49L99.76 222.91L100.45 222.31L101.14 221.68L101.83 221.03L102.52 220.36L103.21 219.67L103.9 218.97L104.59 218.26L105.28 217.54L105.97 216.81L106.66 216.09L107.35 215.37L108.04 214.65L108.73 213.94L109.42 213.25L110.11 212.57L110.8 211.9L111.49 211.26L112.18 210.64L112.87 210.05L113.56 209.49L114.25 208.95L114.94 208.38L115.63 207.8L116.33 207.2L117.02 206.6L117.71 205.98L118.4 205.36L119.09 204.74L119.78 204.12L120.47 203.51L121.16 202.92L121.85 202.33L122.54 201.77L123.23 201.23L123.92 200.71L124.61 200.23L125.3 199.77L125.99 199.36L126.68 198.98L127.37 198.65L128.06 198.37L128.75 198.14L129.44 197.97L130.13 197.85L130.82 197.8L131.51 197.81L132.2 197.86L132.89 197.96L133.58 198.1L134.27 198.27L134.96 198.48L135.65 198.72L136.34 198.99L137.03 199.29L137.72 199.61L138.41 199.95L139.1 200.31L139.79 200.68L140.48 201.07L141.17 201.47L141.86 201.87L142.55 202.28L143.24 202.7L143.93 203.11L144.62 203.52L145.31 203.92L146 204.32L146.69 204.7L147.38 205.07L148.07 205.43L148.76 205.77L149.45 206.13L150.14 206.5L150.83 206.87L151.52 207.26L152.21 207.65L152.91 208.05L153.6 208.45L154.29 208.86L154.98 209.27L155.67 209.68L156.36 210.09L157.05 210.5L157.74 210.91L158.43 211.31L159.12 211.71L159.81 212.11L160.5 212.5L161.19 212.88L161.88 213.25L162.57 213.62L163.26 213.97L163.95 214.31L164.64 214.63L165.33 214.95L166.02 215.25L166.71 215.55L167.4 215.84L168.09 216.14L168.78 216.43L169.47 216.71L170.16 217L170.85 217.28L171.54 217.55L172.23 217.82L172.92 218.09L173.61 218.35L174.3 218.61L174.99 218.86L175.68 219.11L176.37 219.35L177.06 219.58L177.75 219.81L178.44 220.03L179.13 220.25L179.82 220.46L180.51 220.66L181.2 220.85L181.89 221.03L182.58 221.21L183.27 221.38L183.96 221.55L184.65 221.71L185.34 221.87L186.03 222.02L186.72 222.17L187.41 222.32L188.1 222.46L188.79 222.6L189.48 222.74L190.18 222.88L190.87 223.01L191.56 223.13L192.25 223.26L192.94 223.38L193.63 223.5L194.32 223.62L195.01 223.74L195.7 223.85L196.39 223.96L197.08 224.07L197.77 224.18L198.46 224.28L199.15 224.39L199.84 224.49L200.53 224.59L201.22 224.69L201.91 224.79L202.6 224.88L203.29 224.98L203.98 225.07L204.67 225.16L205.36 225.25L206.05 225.34L206.74 225.42L207.43 225.51L208.12 225.59L208.81 225.67L209.5 225.76L210.19 225.84L210.88 225.91L211.57 225.99L212.26 226.07L212.95 226.14L213.64 226.22L214.33 226.29L215.02 226.36L215.71 226.43L216.4 226.5L217.09 226.57L217.78 226.64L218.47 226.71L219.16 226.78L219.85 226.84L220.54 226.9L221.23 226.97L221.92 227.03L222.61 227.09L223.3 227.15L223.99 227.2L224.68 227.26L225.37 227.32L226.06 227.38L226.76 227.43L227.45 227.49L228.14 227.55L228.83 227.6L229.52 227.66L230.21 227.72L230.9 227.77L231.59 227.83L232.28 227.89L232.97 227.94L233.66 228L234.35 228.06L235.04 228.12L235.73 228.18L236.42 228.24L237.11 228.3L237.8 228.36L238.49 228.42L239.18 228.48L239.87 228.54L240.56 228.6L241.25 228.66L241.94 228.71L242.63 228.77L243.32 228.83L244.01 228.89L244.7 228.95" fill="none" stroke="#000" stroke-width="1.05"/>
<path d="M44.55 233.7L45.24 233.7L45.93 233.7L46.62 233.7L47.31 233.7L48 233.69L48.69 233.69L49.38 233.69L50.07 233.68L50.76 233.68L51.45 233.68L52.14 233.67L52.83 233.66L53.52 233.66L54.21 233.65L54.9 233.64L55.59 233.64L56.28 233.63L56.97 233.62L57.66 233.61L58.35 233.6L59.04 233.59L59.73 233.58L60.42 233.57L61.11 233.56L61.8 233.55L62.49 233.54L63.18 233.52L63.87 233.51L64.56 233.5L65.25 233.48L65.94 233.47L66.63 233.45L67.32 233.44L68.01 233.42L68.7 233.41L69.39 233.39L70.08 233.37L70.77 233.35L71.46 233.34L72.15 233.32L72.84 233.3L73.53 233.28L74.22 233.26L74.91 233.24L75.6 233.22L76.29 233.2L76.98 233.18L77.67 233.15L78.36 233.13L79.05 233.11L79.75 233.08L80.44 233.05L81.13 233L81.82 232.95L82.51 232.89L83.2 232.82L83.89 232.75L84.58 232.67L85.27 232.58L85.96 232.49L86.65 232.39L87.34 232.29L88.03 232.18L88.72 232.07L89.41 231.96L90.1 231.84L90.79 231.72L91.48 231.6L92.17 231.48L92.86 231.36L93.55 231.23L94.24 231.11L94.93 230.99L95.62 230.86L96.31 230.74L97 230.62L97.69 230.48L98.38 230.34L99.07 230.19L99.76 230.03L100.45 229.86L101.14 229.69L101.83 229.51L102.52 229.33L103.21 229.15L103.9 228.96L104.59 228.78L105.28 228.59L105.97 228.4L106.66 228.22L107.35 228.03L108.04 227.85L108.73 227.67L109.42 227.5L110.11 227.33L110.8 227.17L111.49 227.02L112.18 226.87L112.87 226.73L113.56 226.61L114.25 226.49L114.94 226.37L115.63 226.25L116.33 226.13L117.02 226.01L117.71 225.9L118.4 225.79L119.09 225.68L119.78 225.57L120.47 225.46L121.16 225.36L121.85 225.25L122.54 225.15L123.23 225.06L123.92 224.96L124.61 224.87L125.3 224.78L125.99 224.7L126.68 224.62L127.37 224.54L128.06 224.47L128.75 224.4L129.44 224.34L130.13 224.28L130.82 224.22L131.51 224.17L132.2 224.12L132.89 224.06L133.58 224.01L134.27 223.96L134.96 223.91L135.65 223.86L136.34 223.81L137.03 223.76L137.72 223.72L138.41 223.67L139.1 223.63L139.79 223.59L140.48 223.55L141.17 223.51L141.86 223.48L142.55 223.45L143.24 223.42L143.93 223.39L144.62 223.37L145.31 223.35L146 223.34L146.69 223.33L147.38 223.32L148.07 223.32L148.76 223.32L149.45 223.32L150.14 223.33L150.83 223.34L151.52 223.35L152.21 223.37L152.91 223.38L153.6 223.4L154.29 223.43L154.98 223.45L155.67 223.48L156.36 223.5L157.05 223.53L157.74 223.56L158.43 223.59L159.12 223.62L159.81 223.65L160.5 223.68L161.19 223.72L161.88 223.75L162.57 223.78L163.26 223.81L163.95 223.84L164.64 223.87L165.33 223.9L166.02 223.93L166.71 223.96L167.4 223.99L168.09 224.02L168.78 224.05L169.47 224.09L170.16 224.12L170.85 224.15L171.54 224.19L172.23 224.22L172.92 224.26L173.61 224.29L174.3 224.33L174.99 224.36L175.68 224.4L176.37 224.44L177.06 224.48L177.75 224.51L178.44 224.55L179.13 224.59L179.82 224.63L180.51 224.67L181.2 224.71L181.89 224.75L182.58 224.79L183.27 224.83L183.96 224.88L184.65 224.92L185.34 224.96L186.03 225.01L186.72 225.05L187.41 225.1L188.1 225.15L188.79 225.19L189.48 225.24L190.18 225.29L190.87 225.34L191.56 225.39L192.25 225.44L192.94 225.49L193.63 225.54L194.32 225.59L195.01 225.64L195.7 225.69L196.39 225.74L197.08 225.79L197.77 225.84L198.46 225.88L199.15 225.93L199.84 225.98L200.53 226.03L201.22 226.08L201.91 226.12L202.6 226.17L203.29 226.22L203.98 226.27L204.67 226.31L205.36 226.36L206.05 226.41L206.74 226.46L207.43 226.5L208.12 226.55L208.81 226.6L209.5 226.65L210.19 226.69L210.88 226.74L211.57 226.79L212.26 226.84L212.95 226.88L213.64 226.93L214.33 226.98L215.02 227.03L215.71 227.07L216.4 227.12L217.09 227.17L217.78 227.22L218.47 227.26L219.16 227.31L219.85 227.36L220.54 227.41L221.23 227.46L221.92 227.51L222.61 227.56L223.3 227.61L223.99 227.66L224.68 227.7L225.37 227.75L226.06 227.8L226.76 227.85L227.45 227.9L228.14 227.95L228.83 227.99L229.52 228.04L230.21 228.09L230.9 228.14L231.59 228.18L232.28 228.23L232.97 228.27L233.66 228.31L234.35 228.36L235.04 228.4L235.73 228.44L236.42 228.48L237.11 228.53L237.8 228.57L238.49 228.61L239.18 228.65L239.87 228.69L240.56 228.73L241.25 228.76L241.94 228.8L242.63 228.84L243.32 228.88L244.01 228.92L244.7 228.95" fill="none" stroke="#000" stroke-width="1.05"/>
<path d="M44.55 233.7L45.24 233.7L45.93 233.7L46.62 233.7L47.31 233.7L48 233.69L48.69 233.69L49.38 233.69L50.07 233.68L50.76 233.68L51.45 233.67L52.14 233.67L52.83 233.66L53.52 233.65L54.21 233.65L54.9 233.64L55.59 233.63L56.28 233.62L56.97 233.61L57.66 233.6L58.35 233.59L59.04 233.58L59.73 233.57L60.42 233.56L61.11 233.55L61.8 233.54L62.49 233.53L63.18 233.51L63.87 233.5L64.56 233.48L65.25 233.47L65.94 233.46L66.63 233.44L67.32 233.43L68.01 233.41L68.7 233.39L69.39 233.38L70.08 233.36L70.77 233.34L71.46 233.32L72.15 233.31L72.84 233.29L73.53 233.27L74.22 233.25L74.91 233.23L75.6 233.21L76.29 233.19L76.98 233.17L77.67 233.15L78.36 233.13L79.05 233.11L79.75 233.09L80.44 233.06L81.13 233.03L81.82 233L82.51 232.96L83.2 232.92L83.89 232.88L84.58 232.84L85.27 232.79L85.96 232.74L86.65 232.68L87.34 232.63L88.03 232.57L88.72 232.5L89.41 232.44L90.1 232.37L90.79 232.3L91.48 232.22L92.17 232.15L92.86 232.07L93.55 231.98L94.24 231.9L94.93 231.81L95.62 231.72L96.31 231.63L97 231.52L97.69 231.38L98.38 231.22L99.07 231.03L99.76 230.82L100.45 230.59L101.14 230.34L101.83 230.08L102.52 229.81L103.21 229.53L103.9 229.24L104.59 228.94L105.28 228.65L105.97 228.36L106.66 228.07L107.35 227.79L108.04 227.52L108.73 227.26L109.42 227.02L110.11 226.79L110.8 226.58L111.49 226.4L112.18 226.24L112.87 226.11L113.56 226L114.25 225.93L114.94 225.85L115.63 225.77L116.33 225.7L117.02 225.63L117.71 225.56L118.4 225.49L119.09 225.42L119.78 225.36L120.47 225.3L121.16 225.24L121.85 225.19L122.54 225.13L123.23 225.09L123.92 225.04L124.61 225L125.3 224.96L125.99 224.92L126.68 224.89L127.37 224.87L128.06 224.84L128.75 224.83L129.44 224.81L130.13 224.8L130.82 224.8L131.51 224.8L132.2 224.82L132.89 224.84L133.58 224.88L134.27 224.92L134.96 224.98L135.65 225.04L136.34 225.11L137.03 225.19L137.72 225.27L138.41 225.35L139.1 225.44L139.79 225.53L140.48 225.63L141.17 225.72L141.86 225.82L142.55 225.91L143.24 226.01L143.93 226.1L144.62 226.19L145.31 226.28L146 226.36L146.69 226.43L147.38 226.5L148.07 226.56L148.76 226.62L149.45 226.68L150.14 226.73L150.83 226.78L151.52 226.83L152.21 226.89L152.91 226.93L153.6 226.98L154.29 227.03L154.98 227.08L155.67 227.12L156.36 227.17L157.05 227.21L157.74 227.26L158.43 227.3L159.12 227.35L159.81 227.39L160.5 227.44L161.19 227.48L161.88 227.53L162.57 227.57L163.26 227.62L163.95 227.66L164.64 227.71L165.33 227.76L166.02 227.8L166.71 227.85L167.4 227.9L168.09 227.95L168.78 227.99L169.47 228.04L170.16 228.09L170.85 228.14L171.54 228.18L172.23 228.23L172.92 228.28L173.61 228.33L174.3 228.37L174.99 228.42L175.68 228.47L176.37 228.52L177.06 228.56L177.75 228.61L178.44 228.66L179.13 228.71L179.82 228.75L180.51 228.8L181.2 228.85L181.89 228.9L182.58 228.95L183.27 228.99L183.96 229.04L184.65 229.09L185.34 229.14L186.03 229.2L186.72 229.25L187.41 229.3L188.1 229.35L188.79 229.41L189.48 229.46L190.18 229.51L190.87 229.56L191.56 229.61L192.25 229.67L192.94 229.72L193.63 229.76L194.32 229.81L195.01 229.86L195.7 229.9L196.39 229.95L197.08 229.99L197.77 230.03L198.46 230.07L199.15 230.1L199.84 230.14L200.53 230.17L201.22 230.2L201.91 230.23L202.6 230.25L203.29 230.28L203.98 230.31L204.67 230.33L205.36 230.36L206.05 230.38L206.74 230.4L207.43 230.43L208.12 230.45L208.81 230.47L209.5 230.49L210.19 230.51L210.88 230.53L211.57 230.55L212.26 230.58L212.95 230.6L213.64 230.62L214.33 230.64L215.02 230.66L215.71 230.68L216.4 230.71L217.09 230.73L217.78 230.76L218.47 230.78L219.16 230.8L219.85 230.83L220.54 230.85L221.23 230.88L221.92 230.9L222.61 230.93L223.3 230.95L223.99 230.97L224.68 231L225.37 231.02L226.06 231.05L226.76 231.07L227.45 231.1L228.14 231.12L228.83 231.14L229.52 231.17L230.21 231.19L230.9 231.21L231.59 231.24L232.28 231.26L232.97 231.28L233.66 231.3L234.35 231.33L235.04 231.35L235.73 231.37L236.42 231.39L237.11 231.41L237.8 231.43L238.49 231.45L239.18 231.47L239.87 231.49L240.56 231.51L241.25 231.53L241.94 231.55L242.63 231.57L243.32 231.59L244.01 231.6L244.7 231.62" fill="none" stroke="#000" stroke-width="1.05"/>
<path d="M44.55 233.7L45.24 233.7L45.93 233.7L46.62 233.7L47.31 233.7L48 233.7L48.69 233.7L49.38 233.69L50.07 233.69L50.76 233.69L51.45 233.69L52.14 233.69L52.83 233.68L53.52 233.68L54.21 233.68L54.9 233.67L55.59 233.67L56.28 233.67L56.97 233.66L57.66 233.66L58.35 233.65L59.04 233.65L59.73 233.64L60.42 233.64L61.11 233.63L61.8 233.63L62.49 233.62L63.18 233.61L63.87 233.61L64.56 233.6L65.25 233.6L65.94 233.59L66.63 233.58L67.32 233.57L68.01 233.57L68.7 233.56L69.39 233.55L70.08 233.54L70.77 233.53L71.46 233.53L72.15 233.52L72.84 233.51L73.53 233.5L74.22 233.49L74.91 233.48L75.6 233.47L76.29 233.46L76.98 233.45L77.67 233.44L78.36 233.43L79.05 233.42L79.75 233.41L80.44 233.4L81.13 233.39L81.82 233.38L82.51 233.37L83.2 233.36L83.89 233.34L84.58 233.33L85.27 233.32L85.96 233.31L86.65 233.3L87.34 233.28L88.03 233.27L88.72 233.26L89.41 233.24L90.1 233.23L90.79 233.22L91.48 233.21L92.17 233.19L92.86 233.18L93.55 233.16L94.24 233.15L94.93 233.14L95.62 233.12L96.31 233.11L97 233.09L97.69 233.07L98.38 233.05L99.07 233.03L99.76 233.01L100.45 232.98L101.14 232.95L101.83 232.92L102.52 232.89L103.21 232.85L103.9 232.82L104.59 232.78L105.28 232.74L105.97 232.7L106.66 232.66L107.35 232.62L108.04 232.58L108.73 232.54L109.42 232.49L110.11 232.45L110.8 232.4L111.49 232.36L112.18 232.32L112.87 232.27L113.56 232.23L114.25 232.18L114.94 232.13L115.63 232.08L116.33 232.02L117.02 231.96L117.71 231.9L118.4 231.84L119.09 231.77L119.78 231.7L120.47 231.63L121.16 231.56L121.85 231.49L122.54 231.43L123.23 231.36L123.92 231.29L124.61 231.22L125.3 231.16L125.99 231.09L126.68 231.03L127.37 230.98L128.06 230.92L128.75 230.87L129.44 230.82L130.13 230.78L130.82 230.74L131.51 230.71L132.2 230.67L132.89 230.64L133.58 230.61L134.27 230.57L134.96 230.54L135.65 230.51L136.34 230.47L137.03 230.44L137.72 230.41L138.41 230.38L139.1 230.35L139.79 230.32L140.48 230.3L141.17 230.27L141.86 230.25L142.55 230.23L143.24 230.21L143.93 230.19L144.62 230.18L145.31 230.16L146 230.15L146.69 230.15L147.38 230.14L148.07 230.14L148.76 230.14L149.45 230.14L150.14 230.15L150.83 230.15L151.52 230.16L152.21 230.17L152.91 230.18L153.6 230.19L154.29 230.2L154.98 230.21L155.67 230.23L156.36 230.24L157.05 230.25L157.74 230.27L158.43 230.29L159.12 230.3L159.81 230.32L160.5 230.33L161.19 230.35L161.88 230.36L162.57 230.38L163.26 230.39L163.95 230.41L164.64 230.42L165.33 230.43L166.02 230.45L166.71 230.46L167.4 230.47L168.09 230.48L168.78 230.49L169.47 230.5L170.16 230.51L170.85 230.52L171.54 230.53L172.23 230.54L172.92 230.55L173.61 230.56L174.3 230.58L174.99 230.59L175.68 230.6L176.37 230.61L177.06 230.62L177.75 230.63L178.44 230.65L179.13 230.66L179.82 230.67L180.51 230.69L181.2 230.7L181.89 230.71L182.58 230.73L183.27 230.75L183.96 230.77L184.65 230.79L185.34 230.81L186.03 230.83L186.72 230.85L187.41 230.88L188.1 230.9L188.79 230.93L189.48 230.96L190.18 230.98L190.87 231.01L191.56 231.04L192.25 231.07L192.94 231.09L193.63 231.12L194.32 231.15L195.01 231.17L195.7 231.2L196.39 231.22L197.08 231.25L197.77 231.27L198.46 231.29L199.15 231.31L199.84 231.32L200.53 231.34L201.22 231.35L201.91 231.37L202.6 231.38L203.29 231.39L203.98 231.41L204.67 231.42L205.36 231.43L206.05 231.44L206.74 231.45L207.43 231.46L208.12 231.47L208.81 231.48L209.5 231.49L210.19 231.5L210.88 231.51L211.57 231.52L212.26 231.53L212.95 231.54L213.64 231.55L214.33 231.57L215.02 231.58L215.71 231.59L216.4 231.61L217.09 231.62L217.78 231.64L218.47 231.66L219.16 231.68L219.85 231.71L220.54 231.73L221.23 231.76L221.92 231.79L222.61 231.82L223.3 231.85L223.99 231.89L224.68 231.92L225.37 231.95L226.06 231.98L226.76 232.01L227.45 232.04L228.14 232.07L228.83 232.1L229.52 232.12L230.21 232.15L230.9 232.17L231.59 232.18L232.28 232.2L232.97 232.21L233.66 232.21L234.35 232.22L235.04 232.22L235.73 232.22L236.42 232.22L237.11 232.22L237.8 232.22L238.49 232.22L239.18 232.22L239.87 232.22L240.56 232.22L241.25 232.22L241.94 232.22L242.63 232.22L243.32 232.22L244.01 232.22L244.7 232.22" fill="none" stroke="#000" stroke-width="1.05"/>
<path d="M44.55 233.7L45.24 233.7L45.93 233.7L46.62 233.69L47.31 233.69L48 233.69L48.69 233.69L49.38 233.69L50.07 233.68L50.76 233.68L51.45 233.68L52.14 233.68L52.83 233.68L53.52 233.67L54.21 233.67L54.9 233.67L55.59 233.67L56.28 233.67L56.97 233.66L57.66 233.66L58.35 233.66L59.04 233.66L59.73 233.65L60.42 233.65L61.11 233.65L61.8 233.65L62.49 233.65L63.18 233.64L63.87 233.64L64.56 233.64L65.25 233.64L65.94 233.64L66.63 233.63L67.32 233.63L68.01 233.63L68.7 233.63L69.39 233.63L70.08 233.62L70.77 233.62L71.46 233.62L72.15 233.62L72.84 233.62L73.53 233.61L74.22 233.61L74.91 233.61L75.6 233.61L76.29 233.61L76.98 233.6L77.67 233.6L78.36 233.6L79.05 233.6L79.75 233.6L80.44 233.59L81.13 233.59L81.82 233.59L82.51 233.59L83.2 233.59L83.89 233.58L84.58 233.58L85.27 233.58L85.96 233.58L86.65 233.58L87.34 233.57L88.03 233.57L88.72 233.57L89.41 233.57L90.1 233.56L90.79 233.56L91.48 233.56L92.17 233.56L92.86 233.56L93.55 233.55L94.24 233.55L94.93 233.55L95.62 233.55L96.31 233.55L97 233.54L97.69 233.54L98.38 233.54L99.07 233.54L99.76 233.54L100.45 233.53L101.14 233.53L101.83 233.53L102.52 233.53L103.21 233.53L103.9 233.52L104.59 233.52L105.28 233.52L105.97 233.52L106.66 233.52L107.35 233.51L108.04 233.51L108.73 233.51L109.42 233.51L110.11 233.51L110.8 233.5L111.49 233.5L112.18 233.5L112.87 233.5L113.56 233.5L114.25 233.49L114.94 233.49L115.63 233.49L116.33 233.49L117.02 233.49L117.71 233.48L118.4 233.48L119.09 233.48L119.78 233.48L120.47 233.47L121.16 233.47L121.85 233.47L122.54 233.47L123.23 233.47L123.92 233.46L124.61 233.46L125.3 233.46L125.99 233.46L126.68 233.46L127.37 233.45L128.06 233.45L128.75 233.45L129.44 233.45L130.13 233.45L130.82 233.44L131.51 233.44L132.2 233.44L132.89 233.44L133.58 233.44L134.27 233.43L134.96 233.43L135.65 233.43L136.34 233.43L137.03 233.43L137.72 233.42L138.41 233.42L139.1 233.42L139.79 233.42L140.48 233.42L141.17 233.41L141.86 233.41L142.55 233.41L143.24 233.41L143.93 233.41L144.62 233.4L145.31 233.4L146 233.4L146.69 233.4L147.38 233.4L148.07 233.39L148.76 233.39L149.45 233.39L150.14 233.39L150.83 233.38L151.52 233.38L152.21 233.38L152.91 233.38L153.6 233.38L154.29 233.37L154.98 233.37L155.67 233.37L156.36 233.37L157.05 233.37L157.74 233.36L158.43 233.36L159.12 233.36L159.81 233.36L160.5 233.36L161.19 233.35L161.88 233.35L162.57 233.35L163.26 233.35L163.95 233.35L164.64 233.34L165.33 233.34L166.02 233.34L166.71 233.34L167.4 233.34L168.09 233.33L168.78 233.33L169.47 233.33L170.16 233.33L170.85 233.33L171.54 233.32L172.23 233.32L172.92 233.32L173.61 233.32L174.3 233.32L174.99 233.31L175.68 233.31L176.37 233.31L177.06 233.31L177.75 233.31L178.44 233.3L179.13 233.3L179.82 233.3L180.51 233.3L181.2 233.29L181.89 233.29L182.58 233.29L183.27 233.29L183.96 233.29L184.65 233.28L185.34 233.28L186.03 233.28L186.72 233.28L187.41 233.28L188.1 233.27L188.79 233.27L189.48 233.27L190.18 233.27L190.87 233.27L191.56 233.26L192.25 233.26L192.94 233.26L193.63 233.26L194.32 233.26L195.01 233.25L195.7 233.25L196.39 233.25L197.08 233.25L197.77 233.25L198.46 233.24L199.15 233.24L199.84 233.24L200.53 233.24L201.22 233.24L201.91 233.23L202.6 233.23L203.29 233.23L203.98 233.23L204.67 233.23L205.36 233.22L206.05 233.22L206.74 233.22L207.43 233.22L208.12 233.22L208.81 233.21L209.5 233.21L210.19 233.21L210.88 233.21L211.57 233.2L212.26 233.2L212.95 233.2L213.64 233.2L214.33 233.2L215.02 233.19L215.71 233.19L216.4 233.19L217.09 233.19L217.78 233.19L218.47 233.18L219.16 233.18L219.85 233.18L220.54 233.18L221.23 233.18L221.92 233.17L222.61 233.17L223.3 233.17L223.99 233.17L224.68 233.17L225.37 233.16L226.06 233.16L226.76 233.16L227.45 233.16L228.14 233.16L228.83 233.15L229.52 233.15L230.21 233.15L230.9 233.15L231.59 233.15L232.28 233.14L232.97 233.14L233.66 233.14L234.35 233.14L235.04 233.14L235.73 233.13L236.42 233.13L237.11 233.13L237.8 233.13L238.49 233.12L239.18 233.12L239.87 233.12L240.56 233.12L241.25 233.12L241.94 233.11L242.63 233.11L243.32 233.11L244.01 233.11L244.7 233.11" fill="none" stroke="#000" stroke-width="1.05"/>
<circle cx="61.84" cy="229.25" r="2.75" fill="#000" />
<circle cx="79.13" cy="106.11" r="2.75" fill="#000" />
<circle cx="96.43" cy="178.11" r="2.75" fill="#000" />
<circle cx="113.72" cy="209.07" r="2.75" fill="#000" />
<circle cx="131.01" cy="223.31" r="2.75" fill="#000" />
<circle cx="148.31" cy="229.26" r="2.75" fill="#000" />
<circle cx="165.6" cy="231.34" r="2.75" fill="#000" />
<rect x="59.04" y="229.71" width="5.6" height="5.6" fill="#000" />
<rect x="76.33" y="149.3" width="5.6" height="5.6" fill="#000" />
<rect x="93.63" y="151.46" width="5.6" height="5.6" fill="#000" />
<rect x="110.92" y="198.26" width="5.6" height="5.6" fill="#000" />
<rect x="128.21" y="214.88" width="5.6" height="5.6" fill="#000" />
<rect x="145.51" y="223.5" width="5.6" height="5.6" fill="#000" />
<rect x="162.8" y="227.36" width="5.6" height="5.6" fill="#000" />
<rect x="180.1" y="229.13" width="5.6" height="5.6" fill="#000" />
<rect x="197.39" y="229.56" width="5.6" height="5.6" fill="#000" />
<path d="M96.43 222.55L99.73 227.33L93.13 227.33Z" fill="#000" />
<path d="M113.72 206.56L117.02 211.35L110.42 211.35Z" fill="#000" />
<path d="M131.01 194.99L134.31 199.78L127.71 199.78Z" fill="#000" />
<path d="M148.31 202.74L151.61 207.53L145.01 207.53Z" fill="#000" />
<path d="M165.6 212.26L168.9 217.05L162.3 217.05Z" fill="#000" />
<path d="M182.9 218.48L186.2 223.27L179.6 223.27Z" fill="#000" />
<path d="M200.19 221.74L203.49 226.52L196.89 226.52Z" fill="#000" />
<path d="M217.48 223.81L220.78 228.59L214.18 228.59Z" fill="#000" />
<path d="M234.78 225.29L238.08 230.08L231.48 230.08Z" fill="#000" />
<path d="M113.72 229.02L116.92 232.22L113.72 235.42L110.52 232.22Z" fill="#000" />
<path d="M131.01 227.53L134.21 230.73L131.01 233.93L127.81 230.73Z" fill="#000" />
<path d="M148.31 226.94L151.51 230.14L148.31 233.34L145.11 230.14Z" fill="#000" />
<path d="M165.6 227.24L168.8 230.44L165.6 233.64L162.4 230.44Z" fill="#000" />
<path d="M182.9 227.54L186.1 230.74L182.9 233.94L179.7 230.74Z" fill="#000" />
<path d="M200.19 228.13L203.39 231.33L200.19 234.53L196.99 231.33Z" fill="#000" />
<path d="M217.48 228.43L220.68 231.63L217.48 234.83L214.28 231.63Z" fill="#000" />
<path d="M234.78 229.02L237.98 232.22L234.78 235.42L231.58 232.22Z" fill="#000" />
<circle cx="61.84" cy="224.21" r="2.75" fill="white" stroke="#555" stroke-width="0.9"/>
<circle cx="79.13" cy="115.01" r="2.75" fill="white" stroke="#555" stroke-width="0.9"/>
<circle cx="96.43" cy="174.26" r="2.75" fill="white" stroke="#555" stroke-width="0.9"/>
<circle cx="113.72" cy="206.7" r="2.75" fill="white" stroke="#555" stroke-width="0.9"/>
<circle cx="131.01" cy="221.83" r="2.75" fill="white" stroke="#555" stroke-width="0.9"/>
<circle cx="148.31" cy="227.78" r="2.75" fill="white" stroke="#555" stroke-width="0.9"/>
<circle cx="165.6" cy="230.75" r="2.75" fill="white" stroke="#555" stroke-width="0.9"/>
<circle cx="182.9" cy="232.22" r="2.75" fill="white" stroke="#555" stroke-width="0.9"/>
<rect x="76.33" y="210.13" width="5.6" height="5.6" fill="white" stroke="#555" stroke-width="0.9"/>
<rect x="93.63" y="159.93" width="5.6" height="5.6" fill="white" stroke="#555" stroke-width="0.9"/>
<rect x="110.92" y="176.3" width="5.6" height="5.6" fill="white" stroke="#555" stroke-width="0.9"/>
<rect x="128.21" y="200.64" width="5.6" height="5.6" fill="white" stroke="#555" stroke-width="0.9"/>
<rect x="145.51" y="213.72" width="5.6" height="5.6" fill="white" stroke="#555" stroke-width="0.9"/>
<rect x="162.8" y="219.66" width="5.6" height="5.6" fill="white" stroke="#555" stroke-width="0.9"/>
<rect x="180.1" y="222.92" width="5.6" height="5.6" fill="white" stroke="#555" stroke-width="0.9"/>
<rect x="197.39" y="224.99" width="5.6" height="5.6" fill="white" stroke="#555" stroke-width="0.9"/>
<rect x="214.68" y="226.47" width="5.6" height="5.6" fill="white" stroke="#555" stroke-width="0.9"/>
<rect x="231.98" y="227.51" width="5.6" height="5.6" fill="white" stroke="#555" stroke-width="0.9"/>
<path d="M96.43 227.92L99.73 232.7L93.13 232.7Z" fill="white" stroke="#555" stroke-width="0.9"/>
<path d="M113.72 223.77L117.02 228.56L110.42 228.56Z" fill="white" stroke="#555" stroke-width="0.9"/>
<path d="M131.01 221.4L134.31 226.19L127.71 226.19Z" fill="white" stroke="#555" stroke-width="0.9"/>
<path d="M148.31 220.51L151.61 225.3L145.01 225.3Z" fill="white" stroke="#555" stroke-width="0.9"/>
<path d="M165.6 221.11L168.9 225.89L162.3 225.89Z" fill="white" stroke="#555" stroke-width="0.9"/>
<path d="M182.9 222.01L186.2 226.79L179.6 226.79Z" fill="white" stroke="#555" stroke-width="0.9"/>
<path d="M200.19 223.2L203.49 227.98L196.89 227.98Z" fill="white" stroke="#555" stroke-width="0.9"/>
<path d="M217.48 224.39L220.78 229.18L214.18 229.18Z" fill="white" stroke="#555" stroke-width="0.9"/>
<path d="M234.78 225.58L238.08 230.36L231.48 230.36Z" fill="white" stroke="#555" stroke-width="0.9"/>
<path d="M96.43 234.42L99.73 229.63L93.13 229.63Z" fill="white" stroke="#555" stroke-width="0.9"/>
<path d="M113.72 228.79L117.02 224.01L110.42 224.01Z" fill="white" stroke="#555" stroke-width="0.9"/>
<path d="M131.01 227.6L134.31 222.82L127.71 222.82Z" fill="white" stroke="#555" stroke-width="0.9"/>
<path d="M148.31 229.39L151.61 224.6L145.01 224.6Z" fill="white" stroke="#555" stroke-width="0.9"/>
<path d="M165.6 230.58L168.9 225.8L162.3 225.8Z" fill="white" stroke="#555" stroke-width="0.9"/>
<path d="M182.9 231.77L186.2 226.99L179.6 226.99Z" fill="white" stroke="#555" stroke-width="0.9"/>
<path d="M200.19 232.96L203.49 228.17L196.89 228.17Z" fill="white" stroke="#555" stroke-width="0.9"/>
<path d="M217.48 233.55L220.78 228.76L214.18 228.76Z" fill="white" stroke="#555" stroke-width="0.9"/>
<path d="M234.78 234.14L238.08 229.36L231.48 229.36Z" fill="white" stroke="#555" stroke-width="0.9"/>
<circle cx="44.55" cy="233.7" r="2.75" fill="white" stroke="#555" stroke-width="0.9"/>
<circle cx="200.19" cy="232.65" r="2.75" fill="white" stroke="#555" stroke-width="0.9"/>
<circle cx="217.48" cy="232.93" r="2.75" fill="white" stroke="#555" stroke-width="0.9"/>
<circle cx="234.78" cy="233.08" r="2.75" fill="white" stroke="#555" stroke-width="0.9"/>
<rect x="41.75" y="230.9" width="5.6" height="5.6" fill="white" stroke="#555" stroke-width="0.9"/>
<rect x="59.04" y="230.31" width="5.6" height="5.6" fill="white" stroke="#555" stroke-width="0.9"/>
<path d="M44.55 230.89L47.85 235.68L41.25 235.68Z" fill="white" stroke="#555" stroke-width="0.9"/>
<path d="M61.84 230.74L65.14 235.53L58.54 235.53Z" fill="white" stroke="#555" stroke-width="0.9"/>
<path d="M79.13 230.3L82.43 235.09L75.83 235.09Z" fill="white" stroke="#555" stroke-width="0.9"/>
<path d="M44.55 236.5L47.85 231.72L41.25 231.72Z" fill="white" stroke="#555" stroke-width="0.9"/>
<path d="M61.84 236.34L65.14 231.56L58.54 231.56Z" fill="white" stroke="#555" stroke-width="0.9"/>
<path d="M79.13 235.91L82.43 231.13L75.83 231.13Z" fill="white" stroke="#555" stroke-width="0.9"/>
<circle cx="44.55" cy="233.7" r="2.75" fill="#000" />
<circle cx="182.9" cy="232.52" r="2.75" fill="#000" />
<circle cx="200.19" cy="232.8" r="2.75" fill="#000" />
<circle cx="217.48" cy="233" r="2.75" fill="#000" />
<circle cx="234.78" cy="233.09" r="2.75" fill="#000" />
<rect x="41.75" y="230.9" width="5.6" height="5.6" fill="#000" />
<rect x="214.68" y="229.84" width="5.6" height="5.6" fill="#000" />
<rect x="231.98" y="229.99" width="5.6" height="5.6" fill="#000" />
<path d="M44.55 230.89L47.85 235.68L41.25 235.68Z" fill="#000" />
<path d="M61.84 230.68L65.14 235.47L58.54 235.47Z" fill="#000" />
<path d="M79.13 230L82.43 234.79L75.83 234.79Z" fill="#000" />
<path d="M44.55 230.5L47.75 233.7L44.55 236.9L41.35 233.7Z" fill="#000" />
<path d="M61.84 230.43L65.04 233.63L61.84 236.83L58.64 233.63Z" fill="#000" />
<path d="M79.13 230.22L82.33 233.42L79.13 236.62L75.93 233.42Z" fill="#000" />
<path d="M96.43 229.91L99.63 233.11L96.43 236.31L93.23 233.11Z" fill="#000" />
<path d="M44.55 236.5L47.85 231.72L41.25 231.72Z" fill="#000" />
<path d="M61.84 236.45L65.14 231.67L58.54 231.67Z" fill="#000" />
<path d="M79.13 236.4L82.43 231.62L75.83 231.62Z" fill="#000" />
<path d="M96.43 236.35L99.73 231.57L93.13 231.57Z" fill="#000" />
<path d="M113.72 236.3L117.02 231.51L110.42 231.51Z" fill="#000" />
<path d="M131.01 236.25L134.31 231.46L127.71 231.46Z" fill="#000" />
<path d="M148.31 236.2L151.61 231.41L145.01 231.41Z" fill="#000" />
<path d="M165.6 236.15L168.9 231.36L162.3 231.36Z" fill="#000" />
<path d="M182.9 236.09L186.2 231.31L179.6 231.31Z" fill="#000" />
<path d="M200.19 236.04L203.49 231.26L196.89 231.26Z" fill="#000" />
<path d="M217.48 235.99L220.78 231.21L214.18 231.21Z" fill="#000" />
<path d="M234.78 235.94L238.08 231.16L231.48 231.16Z" fill="#000" />
<path d="M314.63 229.25L315.32 228.86L316.01 227.74L316.7 225.97L317.38 223.62L318.07 220.77L318.76 217.49L319.45 213.86L320.14 209.96L320.82 203.86L321.51 194.29L322.2 182.31L322.89 168.98L323.58 155.35L324.26 142.49L324.95 131.45L325.64 122.71L326.33 114.97L327.02 107.14L327.7 98.03L328.39 87.36L329.08 76.82L329.77 68.26L330.46 62.19L331.14 56.85L331.83 52.45L332.52 49.24L333.21 47.12L333.9 45.3L334.58 44L335.27 43.51L335.96 45.55L336.65 49.96L337.34 54.19L338.02 57.35L338.71 60.31L339.4 63.13L340.09 65.86L340.78 68.55L341.46 71.26L342.15 74.03L342.84 76.93L343.53 80L344.22 83.29L344.9 86.94L345.59 91.18L346.28 95.59L346.97 99.72L347.66 103.82L348.34 108L349.03 112.21L349.72 116.42L350.41 120.6L351.1 124.7L351.78 128.69L352.47 132.53L353.16 136.19L353.85 139.62L354.54 142.8L355.22 145.69L355.91 148.25L356.6 150.55L357.29 152.7L357.98 154.73L358.66 156.64L359.35 158.44L360.04 160.16L360.73 161.81L361.42 163.4L362.1 164.95L362.79 166.47L363.48 167.98L364.17 169.49L364.86 171.02L365.54 172.58L366.23 174.17L366.92 175.76L367.61 177.37L368.3 178.97L368.98 180.56L369.67 182.13L370.36 183.69L371.05 185.22L371.74 186.71L372.42 188.16L373.11 189.57L373.8 190.93L374.49 192.23L375.18 193.47L375.86 194.63L376.55 195.72L377.24 196.76L377.93 197.78L378.62 198.78L379.3 199.77L379.99 200.73L380.68 201.66L381.37 202.57L382.06 203.46L382.74 204.32L383.43 205.15L384.12 205.95L384.81 206.72L385.5 207.46L386.18 208.17L386.87 208.84L387.56 209.47L388.25 210.07L388.94 210.63L389.62 211.15L390.31 211.63L391 212.08L391.69 212.5L392.38 212.89L393.06 213.27L393.75 213.62L394.44 213.97L395.13 214.31L395.82 214.64L396.5 214.97L397.19 215.3L397.88 215.64L398.57 215.98L399.26 216.32L399.94 216.67L400.63 217.01L401.32 217.35L402.01 217.69L402.7 218.03L403.38 218.36L404.07 218.7L404.76 219.03L405.45 219.36L406.14 219.68L406.82 220L407.51 220.32L408.2 220.63L408.89 220.93L409.58 221.23L410.26 221.52L410.95 221.81L411.64 222.09L412.33 222.36L413.02 222.62L413.7 222.88L414.39 223.13L415.08 223.36L415.77 223.59L416.46 223.8L417.14 224.01L417.83 224.21L418.52 224.39L419.21 224.57L419.9 224.75L420.58 224.93L421.27 225.1L421.96 225.27L422.65 225.43L423.34 225.59L424.02 225.74L424.71 225.9L425.4 226.05L426.09 226.19L426.78 226.34L427.46 226.48L428.15 226.61L428.84 226.75L429.53 226.88L430.22 227.01L430.9 227.13L431.59 227.25L432.28 227.37L432.97 227.49L433.66 227.61L434.34 227.72L435.03 227.83L435.72 227.94L436.41 228.05L437.1 228.15L437.78 228.26L438.47 228.36L439.16 228.46L439.85 228.56L440.54 228.66L441.22 228.76L441.91 228.86L442.6 228.96L443.29 229.05L443.98 229.15L444.66 229.24L445.35 229.33L446.04 229.43L446.73 229.52L447.42 229.61L448.1 229.69L448.79 229.78L449.48 229.86L450.17 229.94L450.86 230.02L451.54 230.09L452.23 230.17L452.92 230.24L453.61 230.31L454.3 230.37L454.98 230.43L455.67 230.49L456.36 230.55L457.05 230.6L457.74 230.65L458.42 230.69L459.11 230.73L459.8 230.77L460.49 230.81L461.18 230.85L461.86 230.89L462.55 230.93L463.24 230.96L463.93 231L464.62 231.04L465.3 231.08L465.99 231.11L466.68 231.15L467.37 231.19L468.06 231.22L468.74 231.26L469.43 231.29L470.12 231.33L470.81 231.36L471.5 231.4L472.18 231.43L472.87 231.46L473.56 231.5L474.25 231.53L474.94 231.56L475.62 231.59L476.31 231.63L477 231.66L477.69 231.69L478.38 231.72L479.06 231.75L479.75 231.78L480.44 231.81L481.13 231.83L481.82 231.86L482.5 231.89L483.19 231.92L483.88 231.94L484.57 231.97L485.26 232L485.94 232.02L486.63 232.05L487.32 232.07L488.01 232.09L488.7 232.12L489.38 232.14L490.07 232.16L490.76 232.18L491.45 232.2L492.14 232.22L492.82 232.24L493.51 232.26L494.2 232.28L494.89 232.3L495.58 232.31L496.26 232.33L496.95 232.35L497.64 232.36L498.33 232.37L499.02 232.39L499.7 232.4L500.39 232.41L501.08 232.43L501.77 232.44L502.46 232.45L503.14 232.46L503.83 232.47L504.52 232.47L505.21 232.48L505.9 232.49L506.58 232.49L507.27 232.5L507.96 232.5L508.65 232.51L509.34 232.51L510.02 232.51L510.71 232.51L511.4 232.51" fill="none" stroke="#000" stroke-width="1.05"/>
<path d="M314.63 231.33L315.32 231.03L316.01 230.16L316.7 228.78L317.38 226.95L318.07 224.72L318.76 222.15L319.45 219.29L320.14 216.2L320.82 212.93L321.51 208.33L322.2 201.52L322.89 192.96L323.58 183.1L324.26 172.4L324.95 161.33L325.64 150.34L326.33 139.88L327.02 130.43L327.7 121.95L328.39 113.73L329.08 105.44L329.77 96.47L330.46 86.72L331.14 77.33L331.83 69.43L332.52 63.66L333.21 58.79L333.9 55.17L334.58 52.97L335.27 51.46L335.96 51.52L336.65 53.36L337.34 55.67L338.02 57.82L338.71 60.11L339.4 62.54L340.09 65.11L340.78 67.81L341.46 70.65L342.15 73.62L342.84 76.72L343.53 79.96L344.22 83.32L344.9 86.91L345.59 91.14L346.28 95.58L346.97 99.72L347.66 103.85L348.34 108.05L349.03 112.29L349.72 116.53L350.41 120.74L351.1 124.87L351.78 128.9L352.47 132.79L353.16 136.5L353.85 139.99L354.54 143.24L355.22 146.2L355.91 148.84L356.6 151.24L357.29 153.5L357.98 155.64L358.66 157.67L359.35 159.6L360.04 161.44L360.73 163.21L361.42 164.91L362.1 166.55L362.79 168.16L363.48 169.73L364.17 171.28L364.86 172.82L365.54 174.36L366.23 175.9L366.92 177.42L367.61 178.92L368.3 180.39L368.98 181.85L369.67 183.28L370.36 184.68L371.05 186.05L371.74 187.39L372.42 188.7L373.11 189.97L373.8 191.2L374.49 192.4L375.18 193.55L375.86 194.66L376.55 195.72L377.24 196.76L377.93 197.79L378.62 198.8L379.3 199.81L379.99 200.8L380.68 201.77L381.37 202.73L382.06 203.66L382.74 204.56L383.43 205.44L384.12 206.29L384.81 207.11L385.5 207.89L386.18 208.64L386.87 209.35L387.56 210.01L388.25 210.64L388.94 211.21L389.62 211.74L390.31 212.23L391 212.68L391.69 213.1L392.38 213.5L393.06 213.87L393.75 214.22L394.44 214.57L395.13 214.9L395.82 215.23L396.5 215.56L397.19 215.9L397.88 216.24L398.57 216.58L399.26 216.92L399.94 217.26L400.63 217.6L401.32 217.94L402.01 218.28L402.7 218.62L403.38 218.96L404.07 219.29L404.76 219.62L405.45 219.95L406.14 220.27L406.82 220.59L407.51 220.91L408.2 221.22L408.89 221.53L409.58 221.82L410.26 222.12L410.95 222.4L411.64 222.68L412.33 222.95L413.02 223.22L413.7 223.47L414.39 223.72L415.08 223.96L415.77 224.18L416.46 224.4L417.14 224.6L417.83 224.8L418.52 224.99L419.21 225.17L419.9 225.35L420.58 225.53L421.27 225.7L421.96 225.87L422.65 226.03L423.34 226.2L424.02 226.35L424.71 226.51L425.4 226.66L426.09 226.81L426.78 226.96L427.46 227.1L428.15 227.24L428.84 227.37L429.53 227.51L430.22 227.64L430.9 227.76L431.59 227.88L432.28 228.01L432.97 228.12L433.66 228.24L434.34 228.35L435.03 228.46L435.72 228.56L436.41 228.66L437.1 228.76L437.78 228.86L438.47 228.95L439.16 229.04L439.85 229.14L440.54 229.23L441.22 229.32L441.91 229.4L442.6 229.49L443.29 229.58L443.98 229.66L444.66 229.75L445.35 229.83L446.04 229.91L446.73 229.99L447.42 230.06L448.1 230.14L448.79 230.21L449.48 230.28L450.17 230.35L450.86 230.42L451.54 230.49L452.23 230.55L452.92 230.61L453.61 230.67L454.3 230.72L454.98 230.77L455.67 230.82L456.36 230.87L457.05 230.92L457.74 230.96L458.42 230.99L459.11 231.03L459.8 231.06L460.49 231.1L461.18 231.13L461.86 231.16L462.55 231.19L463.24 231.22L463.93 231.26L464.62 231.29L465.3 231.32L465.99 231.35L466.68 231.38L467.37 231.41L468.06 231.44L468.74 231.47L469.43 231.5L470.12 231.53L470.81 231.56L471.5 231.59L472.18 231.62L472.87 231.64L473.56 231.67L474.25 231.7L474.94 231.73L475.62 231.75L476.31 231.78L477 231.8L477.69 231.83L478.38 231.86L479.06 231.88L479.75 231.9L480.44 231.93L481.13 231.95L481.82 231.98L482.5 232L483.19 232.02L483.88 232.04L484.57 232.06L485.26 232.09L485.94 232.11L486.63 232.13L487.32 232.15L488.01 232.17L488.7 232.19L489.38 232.2L490.07 232.22L490.76 232.24L491.45 232.26L492.14 232.27L492.82 232.29L493.51 232.3L494.2 232.32L494.89 232.33L495.58 232.35L496.26 232.36L496.95 232.38L497.64 232.39L498.33 232.4L499.02 232.41L499.7 232.42L500.39 232.43L501.08 232.44L501.77 232.45L502.46 232.46L503.14 232.47L503.83 232.47L504.52 232.48L505.21 232.49L505.9 232.49L506.58 232.5L507.27 232.5L507.96 232.5L508.65 232.51L509.34 232.51L510.02 232.51L510.71 232.51L511.4 232.51" fill="none" stroke="#000" stroke-width="1.05"/>
<path d="M314.63 232.22L315.32 232.04L316.01 231.53L316.7 230.71L317.38 229.61L318.07 228.24L318.76 226.64L319.45 224.82L320.14 222.82L320.82 220.64L321.51 218.33L322.2 215.9L322.89 212.51L323.58 207.47L324.26 201.06L324.95 193.52L325.64 185.11L326.33 176.1L327.02 166.75L327.7 157.31L328.39 148.04L329.08 139.21L329.77 131.07L330.46 123.61L331.14 116.3L331.83 108.96L332.52 101.36L333.21 92.22L333.9 82.73L334.58 74.84L335.27 70.51L335.96 68.73L336.65 67.25L337.34 66.13L338.02 65.42L338.71 65.17L339.4 65.8L340.09 67.51L340.78 70.02L341.46 73.03L342.15 76.25L342.84 79.41L343.53 82.84L344.22 86.99L344.9 91.7L345.59 96.82L346.28 102.2L346.97 107.7L347.66 113.16L348.34 118.43L349.03 123.36L349.72 127.8L350.41 131.59L351.1 134.6L351.78 136.98L352.47 139.07L353.16 140.93L353.85 142.65L354.54 144.29L355.22 145.93L355.91 147.65L356.6 149.43L357.29 151.2L357.98 152.96L358.66 154.71L359.35 156.44L360.04 158.17L360.73 159.87L361.42 161.57L362.1 163.24L362.79 164.91L363.48 166.55L364.17 168.18L364.86 169.8L365.54 171.39L366.23 172.99L366.92 174.61L367.61 176.24L368.3 177.87L368.98 179.5L369.67 181.13L370.36 182.73L371.05 184.31L371.74 185.86L372.42 187.36L373.11 188.82L373.8 190.23L374.49 191.56L375.18 192.83L375.86 194.02L376.55 195.13L377.24 196.18L377.93 197.2L378.62 198.21L379.3 199.2L379.99 200.16L380.68 201.1L381.37 202.01L382.06 202.89L382.74 203.75L383.43 204.58L384.12 205.38L384.81 206.15L385.5 206.88L386.18 207.58L386.87 208.25L387.56 208.88L388.25 209.48L388.94 210.04L389.62 210.56L390.31 211.04L391 211.48L391.69 211.9L392.38 212.3L393.06 212.67L393.75 213.02L394.44 213.37L395.13 213.7L395.82 214.04L396.5 214.37L397.19 214.71L397.88 215.06L398.57 215.4L399.26 215.75L399.94 216.1L400.63 216.45L401.32 216.8L402.01 217.14L402.7 217.49L403.38 217.84L404.07 218.18L404.76 218.52L405.45 218.86L406.14 219.19L406.82 219.52L407.51 219.85L408.2 220.17L408.89 220.49L409.58 220.8L410.26 221.1L410.95 221.4L411.64 221.69L412.33 221.97L413.02 222.25L413.7 222.51L414.39 222.77L415.08 223.02L415.77 223.26L416.46 223.49L417.14 223.7L417.83 223.91L418.52 224.11L419.21 224.3L419.9 224.49L420.58 224.68L421.27 224.86L421.96 225.04L422.65 225.22L423.34 225.39L424.02 225.56L424.71 225.72L425.4 225.88L426.09 226.04L426.78 226.2L427.46 226.35L428.15 226.5L428.84 226.64L429.53 226.78L430.22 226.92L430.9 227.06L431.59 227.19L432.28 227.32L432.97 227.45L433.66 227.57L434.34 227.69L435.03 227.81L435.72 227.93L436.41 228.04L437.1 228.15L437.78 228.25L438.47 228.36L439.16 228.46L439.85 228.56L440.54 228.67L441.22 228.77L441.91 228.87L442.6 228.96L443.29 229.06L443.98 229.16L444.66 229.25L445.35 229.35L446.04 229.44L446.73 229.53L447.42 229.62L448.1 229.7L448.79 229.79L449.48 229.87L450.17 229.95L450.86 230.03L451.54 230.1L452.23 230.17L452.92 230.24L453.61 230.31L454.3 230.37L454.98 230.43L455.67 230.49L456.36 230.55L457.05 230.6L457.74 230.65L458.42 230.69L459.11 230.73L459.8 230.77L460.49 230.81L461.18 230.85L461.86 230.89L462.55 230.93L463.24 230.96L463.93 231L464.62 231.04L465.3 231.08L465.99 231.11L466.68 231.15L467.37 231.19L468.06 231.22L468.74 231.26L469.43 231.29L470.12 231.33L470.81 231.36L471.5 231.4L472.18 231.43L472.87 231.46L473.56 231.5L474.25 231.53L474.94 231.56L475.62 231.59L476.31 231.63L477 231.66L477.69 231.69L478.38 231.72L479.06 231.75L479.75 231.78L480.44 231.81L481.13 231.83L481.82 231.86L482.5 231.89L483.19 231.92L483.88 231.94L484.57 231.97L485.26 232L485.94 232.02L486.63 232.05L487.32 232.07L488.01 232.09L488.7 232.12L489.38 232.14L490.07 232.16L490.76 232.18L491.45 232.2L492.14 232.22L492.82 232.24L493.51 232.26L494.2 232.28L494.89 232.3L495.58 232.31L496.26 232.33L496.95 232.35L497.64 232.36L498.33 232.37L499.02 232.39L499.7 232.4L500.39 232.41L501.08 232.43L501.77 232.44L502.46 232.45L503.14 232.46L503.83 232.47L504.52 232.47L505.21 232.48L505.9 232.49L506.58 232.49L507.27 232.5L507.96 232.5L508.65 232.51L509.34 232.51L510.02 232.51L510.71 232.51L511.4 232.51" fill="none" stroke="#000" stroke-width="1.05"/>
<path d="M314.63 232.81L315.32 232.73L316.01 232.5L316.7 232.13L317.38 231.61L318.07 230.96L318.76 230.17L319.45 229.25L320.14 228.21L320.82 227.05L321.51 225.77L322.2 224.38L322.89 222.88L323.58 221.28L324.26 219.58L324.95 217.78L325.64 215.9L326.33 213.15L327.02 208.91L327.7 203.35L328.39 196.68L329.08 189.08L329.77 180.75L330.46 171.88L331.14 162.66L331.83 153.28L332.52 143.94L333.21 134.83L333.9 125.74L334.58 114.89L335.27 106.41L335.96 101.01L336.65 95.94L337.34 91.36L338.02 87.4L338.71 84.22L339.4 81.95L340.09 80.75L340.78 80.81L341.46 82.32L342.15 84.9L342.84 88.06L343.53 91.34L344.22 94.24L344.9 96.83L345.59 99.44L346.28 102.08L346.97 104.75L347.66 107.43L348.34 110.13L349.03 112.85L349.72 115.57L350.41 118.3L351.1 121.04L351.78 123.77L352.47 126.49L353.16 129.21L353.85 131.91L354.54 134.6L355.22 137.32L355.91 139.94L356.6 142.4L357.29 144.83L357.98 147.22L358.66 149.58L359.35 151.9L360.04 154.18L360.73 156.43L361.42 158.62L362.1 160.78L362.79 162.88L363.48 164.94L364.17 166.95L364.86 168.9L365.54 170.8L366.23 172.66L366.92 174.53L367.61 176.38L368.3 178.21L368.98 180.02L369.67 181.79L370.36 183.53L371.05 185.23L371.74 186.89L372.42 188.48L373.11 190.02L373.8 191.49L374.49 192.9L375.18 194.22L375.86 195.46L376.55 196.61L377.24 197.71L377.93 198.78L378.62 199.83L379.3 200.86L379.99 201.87L380.68 202.85L381.37 203.8L382.06 204.71L382.74 205.6L383.43 206.45L384.12 207.27L384.81 208.05L385.5 208.8L386.18 209.5L386.87 210.16L387.56 210.77L388.25 211.34L388.94 211.86L389.62 212.34L390.31 212.76L391 213.16L391.69 213.52L392.38 213.85L393.06 214.17L393.75 214.46L394.44 214.75L395.13 215.03L395.82 215.32L396.5 215.6L397.19 215.9L397.88 216.2L398.57 216.51L399.26 216.81L399.94 217.12L400.63 217.43L401.32 217.74L402.01 218.05L402.7 218.37L403.38 218.68L404.07 218.98L404.76 219.29L405.45 219.6L406.14 219.9L406.82 220.2L407.51 220.49L408.2 220.78L408.89 221.07L409.58 221.35L410.26 221.63L410.95 221.9L411.64 222.17L412.33 222.43L413.02 222.68L413.7 222.92L414.39 223.16L415.08 223.39L415.77 223.61L416.46 223.82L417.14 224.02L417.83 224.21L418.52 224.39L419.21 224.57L419.9 224.74L420.58 224.92L421.27 225.08L421.96 225.25L422.65 225.41L423.34 225.57L424.02 225.73L424.71 225.88L425.4 226.03L426.09 226.17L426.78 226.32L427.46 226.46L428.15 226.6L428.84 226.73L429.53 226.86L430.22 226.99L430.9 227.12L431.59 227.24L432.28 227.37L432.97 227.49L433.66 227.6L434.34 227.72L435.03 227.83L435.72 227.94L436.41 228.05L437.1 228.15L437.78 228.26L438.47 228.36L439.16 228.46L439.85 228.56L440.54 228.66L441.22 228.76L441.91 228.86L442.6 228.96L443.29 229.05L443.98 229.15L444.66 229.24L445.35 229.33L446.04 229.43L446.73 229.52L447.42 229.61L448.1 229.69L448.79 229.78L449.48 229.86L450.17 229.94L450.86 230.02L451.54 230.09L452.23 230.17L452.92 230.24L453.61 230.31L454.3 230.37L454.98 230.43L455.67 230.49L456.36 230.55L457.05 230.6L457.74 230.65L458.42 230.69L459.11 230.73L459.8 230.77L460.49 230.81L461.18 230.85L461.86 230.89L462.55 230.93L463.24 230.96L463.93 231L464.62 231.04L465.3 231.08L465.99 231.11L466.68 231.15L467.37 231.19L468.06 231.22L468.74 231.26L469.43 231.29L470.12 231.33L470.81 231.36L471.5 231.4L472.18 231.43L472.87 231.46L473.56 231.5L474.25 231.53L474.94 231.56L475.62 231.59L476.31 231.63L477 231.66L477.69 231.69L478.38 231.72L479.06 231.75L479.75 231.78L480.44 231.81L481.13 231.83L481.82 231.86L482.5 231.89L483.19 231.92L483.88 231.94L484.57 231.97L485.26 232L485.94 232.02L486.63 232.05L487.32 232.07L488.01 232.09L488.7 232.12L489.38 232.14L490.07 232.16L490.76 232.18L491.45 232.2L492.14 232.22L492.82 232.24L493.51 232.26L494.2 232.28L494.89 232.3L495.58 232.31L496.26 232.33L496.95 232.35L497.64 232.36L498.33 232.37L499.02 232.39L499.7 232.4L500.39 232.41L501.08 232.43L501.77 232.44L502.46 232.45L503.14 232.46L503.83 232.47L504.52 232.47L505.21 232.48L505.9 232.49L506.58 232.49L507.27 232.5L507.96 232.5L508.65 232.51L509.34 232.51L510.02 232.51L510.71 232.51L511.4 232.51" fill="none" stroke="#000" stroke-width="1.05"/>
<path d="M314.63 233.11L315.32 233.07L316.01 232.98L316.7 232.82L317.38 232.6L318.07 232.33L318.76 232L319.45 231.62L320.14 231.2L320.82 230.72L321.51 230.2L322.2 229.64L322.89 229.04L323.58 228.4L324.26 227.73L324.95 227.02L325.64 226.28L326.33 225.32L327.02 223.94L327.7 222.19L328.39 220.09L329.08 217.69L329.77 215.01L330.46 212.09L331.14 208.96L331.83 205.66L332.52 202.22L333.21 198.67L333.9 195.04L334.58 191.38L335.27 187.71L335.96 183.85L336.65 179.63L337.34 175.08L338.02 170.21L338.71 165.05L339.4 159.64L340.09 153.99L340.78 148.15L341.46 142.12L342.15 135.95L342.84 129.27L343.53 120.65L344.22 111.83L344.9 105.06L345.59 101.89L346.28 99.57L346.97 97.57L347.66 95.93L348.34 94.7L349.03 93.92L349.72 93.65L350.41 93.98L351.1 94.89L351.78 96.3L352.47 98.1L353.16 100.2L353.85 102.5L354.54 104.91L355.22 107.34L355.91 109.67L356.6 112.16L357.29 115.05L357.98 118.24L358.66 121.66L359.35 125.22L360.04 128.83L360.73 132.4L361.42 135.86L362.1 139.12L362.79 142.09L363.48 144.69L364.17 147.03L364.86 149.32L365.54 151.55L366.23 153.72L366.92 155.83L367.61 157.89L368.3 159.88L368.98 161.82L369.67 163.7L370.36 165.52L371.05 167.28L371.74 168.99L372.42 170.64L373.11 172.24L373.8 173.78L374.49 175.27L375.18 176.7L375.86 178.08L376.55 179.4L377.24 180.69L377.93 181.96L378.62 183.21L379.3 184.44L379.99 185.65L380.68 186.84L381.37 188.01L382.06 189.15L382.74 190.28L383.43 191.39L384.12 192.47L384.81 193.53L385.5 194.57L386.18 195.59L386.87 196.58L387.56 197.55L388.25 198.5L388.94 199.42L389.62 200.32L390.31 201.19L391 202.04L391.69 202.86L392.38 203.66L393.06 204.43L393.75 205.17L394.44 205.89L395.13 206.58L395.82 207.24L396.5 207.87L397.19 208.48L397.88 209.06L398.57 209.64L399.26 210.2L399.94 210.75L400.63 211.29L401.32 211.82L402.01 212.33L402.7 212.84L403.38 213.33L404.07 213.81L404.76 214.29L405.45 214.75L406.14 215.2L406.82 215.63L407.51 216.06L408.2 216.48L408.89 216.89L409.58 217.28L410.26 217.67L410.95 218.04L411.64 218.41L412.33 218.76L413.02 219.11L413.7 219.44L414.39 219.77L415.08 220.08L415.77 220.38L416.46 220.68L417.14 220.96L417.83 221.24L418.52 221.51L419.21 221.77L419.9 222.02L420.58 222.28L421.27 222.52L421.96 222.77L422.65 223L423.34 223.23L424.02 223.46L424.71 223.68L425.4 223.9L426.09 224.11L426.78 224.32L427.46 224.52L428.15 224.72L428.84 224.92L429.53 225.11L430.22 225.29L430.9 225.47L431.59 225.65L432.28 225.82L432.97 225.99L433.66 226.15L434.34 226.31L435.03 226.46L435.72 226.61L436.41 226.76L437.1 226.9L437.78 227.04L438.47 227.17L439.16 227.3L439.85 227.43L440.54 227.56L441.22 227.69L441.91 227.82L442.6 227.94L443.29 228.07L443.98 228.19L444.66 228.31L445.35 228.42L446.04 228.54L446.73 228.65L447.42 228.76L448.1 228.87L448.79 228.98L449.48 229.08L450.17 229.18L450.86 229.27L451.54 229.37L452.23 229.46L452.92 229.54L453.61 229.62L454.3 229.7L454.98 229.78L455.67 229.85L456.36 229.92L457.05 229.98L457.74 230.04L458.42 230.09L459.11 230.14L459.8 230.19L460.49 230.23L461.18 230.28L461.86 230.32L462.55 230.37L463.24 230.41L463.93 230.46L464.62 230.5L465.3 230.55L465.99 230.59L466.68 230.63L467.37 230.68L468.06 230.72L468.74 230.76L469.43 230.8L470.12 230.84L470.81 230.88L471.5 230.92L472.18 230.96L472.87 231L473.56 231.04L474.25 231.08L474.94 231.12L475.62 231.15L476.31 231.19L477 231.23L477.69 231.26L478.38 231.3L479.06 231.33L479.75 231.37L480.44 231.4L481.13 231.43L481.82 231.47L482.5 231.5L483.19 231.53L483.88 231.56L484.57 231.59L485.26 231.62L485.94 231.65L486.63 231.68L487.32 231.71L488.01 231.73L488.7 231.76L489.38 231.79L490.07 231.81L490.76 231.84L491.45 231.86L492.14 231.88L492.82 231.9L493.51 231.93L494.2 231.95L494.89 231.97L495.58 231.99L496.26 232.01L496.95 232.02L497.64 232.04L498.33 232.06L499.02 232.07L499.7 232.09L500.39 232.1L501.08 232.12L501.77 232.13L502.46 232.14L503.14 232.15L503.83 232.16L504.52 232.17L505.21 232.18L505.9 232.19L506.58 232.19L507.27 232.2L507.96 232.2L508.65 232.21L509.34 232.21L510.02 232.21L510.71 232.22L511.4 232.22" fill="none" stroke="#000" stroke-width="1.05"/>
<path d="M314.63 233.4L315.32 233.39L316.01 233.36L316.7 233.31L317.38 233.24L318.07 233.15L318.76 233.05L319.45 232.93L320.14 232.8L320.82 232.65L321.51 232.49L322.2 232.32L322.89 232.14L323.58 231.95L324.26 231.75L324.95 231.54L325.64 231.33L326.33 231.08L327.02 230.77L327.7 230.4L328.39 229.97L329.08 229.49L329.77 228.96L330.46 228.37L331.14 227.73L331.83 227.05L332.52 226.33L333.21 225.56L333.9 224.75L334.58 223.9L335.27 223.02L335.96 222.01L336.65 220.82L337.34 219.44L338.02 217.89L338.71 216.2L339.4 214.38L340.09 212.44L340.78 210.4L341.46 208.27L342.15 206.07L342.84 203.82L343.53 201.54L344.22 199.22L344.9 196.91L345.59 194.47L346.28 191.82L346.97 188.97L347.66 185.96L348.34 182.81L349.03 179.56L349.72 176.22L350.41 172.84L351.1 169.43L351.78 166.04L352.47 162.67L353.16 159.37L353.85 156.16L354.54 153.07L355.22 150.12L355.91 147.36L356.6 144.63L357.29 141.87L357.98 139.2L358.66 136.72L359.35 134.55L360.04 132.82L360.73 131.31L361.42 129.83L362.1 128.53L362.79 127.52L363.48 126.96L364.17 126.94L364.86 127.35L365.54 128.05L366.23 128.92L366.92 129.85L367.61 130.97L368.3 132.42L368.98 134.08L369.67 135.83L370.36 137.56L371.05 139.3L371.74 141.13L372.42 143.02L373.11 144.96L373.8 146.92L374.49 148.88L375.18 150.81L375.86 152.68L376.55 154.48L377.24 156.24L377.93 158.04L378.62 159.86L379.3 161.7L379.99 163.56L380.68 165.43L381.37 167.31L382.06 169.19L382.74 171.06L383.43 172.94L384.12 174.8L384.81 176.65L385.5 178.47L386.18 180.28L386.87 182.05L387.56 183.79L388.25 185.5L388.94 187.16L389.62 188.78L390.31 190.35L391 191.86L391.69 193.31L392.38 194.7L393.06 196.02L393.75 197.26L394.44 198.43L395.13 199.52L395.82 200.52L396.5 201.43L397.19 202.25L397.88 203L398.57 203.73L399.26 204.44L399.94 205.13L400.63 205.8L401.32 206.45L402.01 207.07L402.7 207.68L403.38 208.27L404.07 208.84L404.76 209.39L405.45 209.93L406.14 210.45L406.82 210.95L407.51 211.44L408.2 211.92L408.89 212.38L409.58 212.83L410.26 213.26L410.95 213.69L411.64 214.1L412.33 214.5L413.02 214.89L413.7 215.27L414.39 215.64L415.08 216L415.77 216.36L416.46 216.71L417.14 217.05L417.83 217.38L418.52 217.71L419.21 218.03L419.9 218.35L420.58 218.66L421.27 218.97L421.96 219.27L422.65 219.57L423.34 219.86L424.02 220.14L424.71 220.42L425.4 220.7L426.09 220.96L426.78 221.23L427.46 221.48L428.15 221.73L428.84 221.98L429.53 222.22L430.22 222.45L430.9 222.68L431.59 222.9L432.28 223.12L432.97 223.33L433.66 223.53L434.34 223.73L435.03 223.92L435.72 224.11L436.41 224.29L437.1 224.47L437.78 224.64L438.47 224.8L439.16 224.96L439.85 225.11L440.54 225.27L441.22 225.42L441.91 225.56L442.6 225.71L443.29 225.85L443.98 225.99L444.66 226.13L445.35 226.26L446.04 226.39L446.73 226.52L447.42 226.64L448.1 226.76L448.79 226.88L449.48 227L450.17 227.11L450.86 227.23L451.54 227.33L452.23 227.44L452.92 227.54L453.61 227.65L454.3 227.74L454.98 227.84L455.67 227.93L456.36 228.02L457.05 228.11L457.74 228.2L458.42 228.28L459.11 228.36L459.8 228.44L460.49 228.52L461.18 228.59L461.86 228.67L462.55 228.74L463.24 228.81L463.93 228.88L464.62 228.95L465.3 229.02L465.99 229.09L466.68 229.16L467.37 229.22L468.06 229.28L468.74 229.35L469.43 229.41L470.12 229.47L470.81 229.52L471.5 229.58L472.18 229.64L472.87 229.69L473.56 229.74L474.25 229.79L474.94 229.84L475.62 229.89L476.31 229.93L477 229.98L477.69 230.02L478.38 230.06L479.06 230.1L479.75 230.14L480.44 230.18L481.13 230.21L481.82 230.25L482.5 230.29L483.19 230.32L483.88 230.36L484.57 230.39L485.26 230.43L485.94 230.47L486.63 230.5L487.32 230.54L488.01 230.57L488.7 230.6L489.38 230.64L490.07 230.67L490.76 230.7L491.45 230.73L492.14 230.77L492.82 230.8L493.51 230.83L494.2 230.86L494.89 230.89L495.58 230.91L496.26 230.94L496.95 230.97L497.64 230.99L498.33 231.02L499.02 231.05L499.7 231.07L500.39 231.09L501.08 231.11L501.77 231.14L502.46 231.16L503.14 231.18L503.83 231.19L504.52 231.21L505.21 231.23L505.9 231.24L506.58 231.26L507.27 231.27L507.96 231.28L508.65 231.29L509.34 231.3L510.02 231.31L510.71 231.32L511.4 231.33" fill="none" stroke="#000" stroke-width="1.05"/>
<path d="M314.63 233.7L315.32 233.7L316.01 233.69L316.7 233.67L317.38 233.64L318.07 233.61L318.76 233.57L319.45 233.53L320.14 233.48L320.82 233.42L321.51 233.35L322.2 233.28L322.89 233.2L323.58 233.12L324.26 233.02L324.95 232.93L325.64 232.82L326.33 232.71L327.02 232.59L327.7 232.47L328.39 232.34L329.08 232.21L329.77 232.07L330.46 231.92L331.14 231.77L331.83 231.61L332.52 231.45L333.21 231.28L333.9 231.1L334.58 230.92L335.27 230.73L335.96 230.49L336.65 230.15L337.34 229.72L338.02 229.2L338.71 228.6L339.4 227.93L340.09 227.19L340.78 226.4L341.46 225.56L342.15 224.68L342.84 223.76L343.53 222.81L344.22 221.84L344.9 220.85L345.59 219.86L346.28 218.86L346.97 217.81L347.66 216.65L348.34 215.39L349.03 214.05L349.72 212.62L350.41 211.14L351.1 209.6L351.78 208.03L352.47 206.42L353.16 204.8L353.85 203.18L354.54 201.56L355.22 199.96L355.91 198.39L356.6 196.81L357.29 195.16L357.98 193.46L358.66 191.71L359.35 189.94L360.04 188.15L360.73 186.36L361.42 184.58L362.1 182.81L362.79 181.08L363.48 179.38L364.17 177.75L364.86 176.18L365.54 174.68L366.23 173.28L366.92 171.98L367.61 170.72L368.3 169.46L368.98 168.21L369.67 167.04L370.36 165.96L371.05 165.01L371.74 164.24L372.42 163.68L373.11 163.23L373.8 162.81L374.49 162.45L375.18 162.16L375.86 161.96L376.55 161.9L377.24 162.02L377.93 162.36L378.62 162.87L379.3 163.49L379.99 164.17L380.68 164.86L381.37 165.65L382.06 166.64L382.74 167.78L383.43 169.04L384.12 170.4L384.81 171.81L385.5 173.24L386.18 174.66L386.87 176.03L387.56 177.32L388.25 178.58L388.94 179.87L389.62 181.19L390.31 182.51L391 183.85L391.69 185.18L392.38 186.49L393.06 187.78L393.75 189.04L394.44 190.26L395.13 191.43L395.82 192.54L396.5 193.57L397.19 194.53L397.88 195.45L398.57 196.35L399.26 197.23L399.94 198.11L400.63 198.97L401.32 199.83L402.01 200.66L402.7 201.49L403.38 202.3L404.07 203.09L404.76 203.87L405.45 204.64L406.14 205.39L406.82 206.12L407.51 206.84L408.2 207.54L408.89 208.22L409.58 208.88L410.26 209.53L410.95 210.15L411.64 210.76L412.33 211.35L413.02 211.92L413.7 212.47L414.39 212.99L415.08 213.5L415.77 213.98L416.46 214.45L417.14 214.89L417.83 215.3L418.52 215.71L419.21 216.1L419.9 216.48L420.58 216.86L421.27 217.23L421.96 217.59L422.65 217.94L423.34 218.28L424.02 218.62L424.71 218.94L425.4 219.26L426.09 219.57L426.78 219.88L427.46 220.17L428.15 220.46L428.84 220.74L429.53 221.02L430.22 221.28L430.9 221.54L431.59 221.79L432.28 222.03L432.97 222.27L433.66 222.5L434.34 222.72L435.03 222.94L435.72 223.14L436.41 223.35L437.1 223.54L437.78 223.73L438.47 223.91L439.16 224.08L439.85 224.26L440.54 224.42L441.22 224.59L441.91 224.75L442.6 224.91L443.29 225.06L443.98 225.21L444.66 225.35L445.35 225.5L446.04 225.64L446.73 225.77L447.42 225.91L448.1 226.04L448.79 226.17L449.48 226.29L450.17 226.41L450.86 226.53L451.54 226.65L452.23 226.76L452.92 226.87L453.61 226.98L454.3 227.09L454.98 227.19L455.67 227.29L456.36 227.39L457.05 227.49L457.74 227.58L458.42 227.67L459.11 227.77L459.8 227.85L460.49 227.94L461.18 228.03L461.86 228.11L462.55 228.2L463.24 228.28L463.93 228.36L464.62 228.44L465.3 228.52L465.99 228.59L466.68 228.67L467.37 228.74L468.06 228.81L468.74 228.88L469.43 228.95L470.12 229.02L470.81 229.09L471.5 229.15L472.18 229.22L472.87 229.28L473.56 229.34L474.25 229.4L474.94 229.46L475.62 229.52L476.31 229.58L477 229.63L477.69 229.69L478.38 229.74L479.06 229.79L479.75 229.84L480.44 229.89L481.13 229.94L481.82 229.99L482.5 230.04L483.19 230.09L483.88 230.14L484.57 230.18L485.26 230.23L485.94 230.28L486.63 230.32L487.32 230.36L488.01 230.41L488.7 230.45L489.38 230.49L490.07 230.53L490.76 230.57L491.45 230.61L492.14 230.65L492.82 230.69L493.51 230.73L494.2 230.76L494.89 230.8L495.58 230.83L496.26 230.86L496.95 230.89L497.64 230.92L498.33 230.95L499.02 230.98L499.7 231L500.39 231.03L501.08 231.05L501.77 231.08L502.46 231.1L503.14 231.12L503.83 231.14L504.52 231.16L505.21 231.18L505.9 231.2L506.58 231.22L507.27 231.24L507.96 231.26L508.65 231.27L509.34 231.29L510.02 231.3L510.71 231.31L511.4 231.33" fill="none" stroke="#000" stroke-width="1.05"/>
<path d="M314.63 233.7L315.32 233.7L316.01 233.69L316.7 233.69L317.38 233.68L318.07 233.67L318.76 233.65L319.45 233.64L320.14 233.62L320.82 233.6L321.51 233.57L322.2 233.55L322.89 233.52L323.58 233.49L324.26 233.46L324.95 233.43L325.64 233.4L326.33 233.36L327.02 233.33L327.7 233.29L328.39 233.25L329.08 233.21L329.77 233.17L330.46 233.13L331.14 233.08L331.83 233.04L332.52 233L333.21 232.95L333.9 232.9L334.58 232.86L335.27 232.81L335.96 232.76L336.65 232.7L337.34 232.64L338.02 232.57L338.71 232.49L339.4 232.41L340.09 232.33L340.78 232.24L341.46 232.14L342.15 232.04L342.84 231.93L343.53 231.82L344.22 231.7L344.9 231.58L345.59 231.46L346.28 231.33L346.97 231.2L347.66 231.07L348.34 230.93L349.03 230.79L349.72 230.64L350.41 230.5L351.1 230.35L351.78 230.2L352.47 230.04L353.16 229.89L353.85 229.73L354.54 229.57L355.22 229.41L355.91 229.25L356.6 229.08L357.29 228.9L357.98 228.71L358.66 228.51L359.35 228.29L360.04 228.07L360.73 227.84L361.42 227.6L362.1 227.35L362.79 227.1L363.48 226.84L364.17 226.57L364.86 226.3L365.54 226.03L366.23 225.75L366.92 225.46L367.61 225.18L368.3 224.89L368.98 224.61L369.67 224.32L370.36 224.03L371.05 223.74L371.74 223.45L372.42 223.17L373.11 222.89L373.8 222.61L374.49 222.33L375.18 222.06L375.86 221.79L376.55 221.53L377.24 221.27L377.93 221L378.62 220.72L379.3 220.43L379.99 220.13L380.68 219.82L381.37 219.52L382.06 219.2L382.74 218.89L383.43 218.58L384.12 218.26L384.81 217.95L385.5 217.64L386.18 217.33L386.87 217.02L387.56 216.73L388.25 216.44L388.94 216.15L389.62 215.88L390.31 215.62L391 215.37L391.69 215.13L392.38 214.9L393.06 214.69L393.75 214.5L394.44 214.33L395.13 214.17L395.82 214.03L396.5 213.91L397.19 213.82L397.88 213.74L398.57 213.66L399.26 213.58L399.94 213.5L400.63 213.42L401.32 213.35L402.01 213.27L402.7 213.2L403.38 213.13L404.07 213.07L404.76 213L405.45 212.94L406.14 212.88L406.82 212.82L407.51 212.77L408.2 212.72L408.89 212.67L409.58 212.62L410.26 212.58L410.95 212.54L411.64 212.5L412.33 212.47L413.02 212.44L413.7 212.41L414.39 212.39L415.08 212.37L415.77 212.36L416.46 212.35L417.14 212.34L417.83 212.34L418.52 212.35L419.21 212.4L419.9 212.48L420.58 212.59L421.27 212.73L421.96 212.89L422.65 213.07L423.34 213.28L424.02 213.5L424.71 213.74L425.4 214L426.09 214.27L426.78 214.55L427.46 214.84L428.15 215.13L428.84 215.44L429.53 215.74L430.22 216.05L430.9 216.36L431.59 216.66L432.28 216.96L432.97 217.26L433.66 217.54L434.34 217.82L435.03 218.09L435.72 218.34L436.41 218.57L437.1 218.79L437.78 218.99L438.47 219.16L439.16 219.32L439.85 219.48L440.54 219.63L441.22 219.78L441.91 219.92L442.6 220.07L443.29 220.2L443.98 220.34L444.66 220.47L445.35 220.59L446.04 220.72L446.73 220.84L447.42 220.97L448.1 221.09L448.79 221.21L449.48 221.32L450.17 221.44L450.86 221.56L451.54 221.67L452.23 221.79L452.92 221.91L453.61 222.03L454.3 222.14L454.98 222.26L455.67 222.38L456.36 222.51L457.05 222.63L457.74 222.76L458.42 222.89L459.11 223.02L459.8 223.15L460.49 223.29L461.18 223.44L461.86 223.59L462.55 223.74L463.24 223.89L463.93 224.05L464.62 224.21L465.3 224.37L465.99 224.53L466.68 224.69L467.37 224.85L468.06 225.01L468.74 225.16L469.43 225.32L470.12 225.48L470.81 225.63L471.5 225.78L472.18 225.93L472.87 226.07L473.56 226.21L474.25 226.34L474.94 226.47L475.62 226.59L476.31 226.7L477 226.81L477.69 226.91L478.38 227.01L479.06 227.09L479.75 227.17L480.44 227.24L481.13 227.31L481.82 227.38L482.5 227.44L483.19 227.5L483.88 227.56L484.57 227.61L485.26 227.66L485.94 227.71L486.63 227.76L487.32 227.81L488.01 227.86L488.7 227.9L489.38 227.95L490.07 227.99L490.76 228.03L491.45 228.07L492.14 228.12L492.82 228.16L493.51 228.2L494.2 228.24L494.89 228.28L495.58 228.33L496.26 228.37L496.95 228.41L497.64 228.46L498.33 228.51L499.02 228.55L499.7 228.6L500.39 228.66L501.08 228.71L501.77 228.76L502.46 228.82L503.14 228.87L503.83 228.92L504.52 228.98L505.21 229.04L505.9 229.09L506.58 229.15L507.27 229.2L507.96 229.26L508.65 229.32L509.34 229.37L510.02 229.43L510.71 229.49L511.4 229.55" fill="none" stroke="#000" stroke-width="1.05"/>
<path d="M314.63 233.7L315.32 233.7L316.01 233.7L316.7 233.69L317.38 233.68L318.07 233.68L318.76 233.67L319.45 233.66L320.14 233.64L320.82 233.63L321.51 233.61L322.2 233.59L322.89 233.58L323.58 233.56L324.26 233.54L324.95 233.51L325.64 233.49L326.33 233.47L327.02 233.44L327.7 233.42L328.39 233.39L329.08 233.37L329.77 233.34L330.46 233.31L331.14 233.28L331.83 233.25L332.52 233.22L333.21 233.2L333.9 233.17L334.58 233.14L335.27 233.11L335.96 233.08L336.65 233.04L337.34 233L338.02 232.97L338.71 232.92L339.4 232.88L340.09 232.83L340.78 232.78L341.46 232.73L342.15 232.68L342.84 232.62L343.53 232.57L344.22 232.51L344.9 232.45L345.59 232.38L346.28 232.32L346.97 232.25L347.66 232.19L348.34 232.12L349.03 232.05L349.72 231.98L350.41 231.91L351.1 231.84L351.78 231.77L352.47 231.7L353.16 231.62L353.85 231.55L354.54 231.47L355.22 231.4L355.91 231.33L356.6 231.25L357.29 231.17L357.98 231.09L358.66 231L359.35 230.92L360.04 230.83L360.73 230.74L361.42 230.64L362.1 230.55L362.79 230.45L363.48 230.35L364.17 230.25L364.86 230.14L365.54 230.04L366.23 229.94L366.92 229.83L367.61 229.72L368.3 229.62L368.98 229.51L369.67 229.4L370.36 229.3L371.05 229.19L371.74 229.08L372.42 228.98L373.11 228.87L373.8 228.77L374.49 228.66L375.18 228.56L375.86 228.46L376.55 228.36L377.24 228.26L377.93 228.15L378.62 228.04L379.3 227.93L379.99 227.82L380.68 227.7L381.37 227.58L382.06 227.46L382.74 227.34L383.43 227.22L384.12 227.1L384.81 226.98L385.5 226.86L386.18 226.74L386.87 226.63L387.56 226.51L388.25 226.4L388.94 226.29L389.62 226.19L390.31 226.09L391 225.99L391.69 225.9L392.38 225.81L393.06 225.73L393.75 225.66L394.44 225.59L395.13 225.53L395.82 225.47L396.5 225.43L397.19 225.39L397.88 225.36L398.57 225.33L399.26 225.3L399.94 225.26L400.63 225.23L401.32 225.2L402.01 225.17L402.7 225.15L403.38 225.12L404.07 225.09L404.76 225.07L405.45 225.04L406.14 225.02L406.82 224.99L407.51 224.97L408.2 224.95L408.89 224.93L409.58 224.91L410.26 224.9L410.95 224.88L411.64 224.86L412.33 224.85L413.02 224.84L413.7 224.83L414.39 224.82L415.08 224.81L415.77 224.81L416.46 224.8L417.14 224.8L417.83 224.8L418.52 224.8L419.21 224.81L419.9 224.82L420.58 224.83L421.27 224.85L421.96 224.87L422.65 224.9L423.34 224.92L424.02 224.96L424.71 224.99L425.4 225.03L426.09 225.06L426.78 225.11L427.46 225.15L428.15 225.19L428.84 225.24L429.53 225.29L430.22 225.34L430.9 225.39L431.59 225.44L432.28 225.5L432.97 225.55L433.66 225.6L434.34 225.66L435.03 225.71L435.72 225.77L436.41 225.82L437.1 225.88L437.78 225.93L438.47 225.99L439.16 226.04L439.85 226.1L440.54 226.16L441.22 226.23L441.91 226.3L442.6 226.38L443.29 226.45L443.98 226.53L444.66 226.62L445.35 226.7L446.04 226.79L446.73 226.87L447.42 226.96L448.1 227.05L448.79 227.14L449.48 227.23L450.17 227.32L450.86 227.41L451.54 227.5L452.23 227.59L452.92 227.68L453.61 227.76L454.3 227.85L454.98 227.93L455.67 228.01L456.36 228.09L457.05 228.16L457.74 228.23L458.42 228.3L459.11 228.36L459.8 228.42L460.49 228.48L461.18 228.54L461.86 228.6L462.55 228.65L463.24 228.71L463.93 228.77L464.62 228.82L465.3 228.88L465.99 228.93L466.68 228.99L467.37 229.04L468.06 229.09L468.74 229.14L469.43 229.19L470.12 229.24L470.81 229.29L471.5 229.34L472.18 229.38L472.87 229.43L473.56 229.47L474.25 229.52L474.94 229.56L475.62 229.6L476.31 229.65L477 229.69L477.69 229.73L478.38 229.77L479.06 229.81L479.75 229.84L480.44 229.88L481.13 229.92L481.82 229.95L482.5 229.99L483.19 230.02L483.88 230.06L484.57 230.09L485.26 230.12L485.94 230.16L486.63 230.19L487.32 230.22L488.01 230.25L488.7 230.28L489.38 230.31L490.07 230.34L490.76 230.37L491.45 230.4L492.14 230.43L492.82 230.46L493.51 230.49L494.2 230.51L494.89 230.54L495.58 230.56L496.26 230.59L496.95 230.62L497.64 230.64L498.33 230.66L499.02 230.69L499.7 230.71L500.39 230.73L501.08 230.75L501.77 230.78L502.46 230.8L503.14 230.82L503.83 230.84L504.52 230.86L505.21 230.88L505.9 230.9L506.58 230.91L507.27 230.93L507.96 230.95L508.65 230.97L509.34 230.98L510.02 231L510.71 231.01L511.4 231.03" fill="none" stroke="#000" stroke-width="1.05"/>
<path d="M314.63 233.7L315.32 233.67L316.01 233.63L316.7 233.6L317.38 233.56L318.07 233.52L318.76 233.49L319.45 233.45L320.14 233.41L320.82 233.37L321.51 233.34L322.2 233.3L322.89 233.26L323.58 233.23L324.26 233.19L324.95 233.15L325.64 233.12L326.33 233.09L327.02 233.05L327.7 233.02L328.39 232.99L329.08 232.97L329.77 232.94L330.46 232.91L331.14 232.89L331.83 232.87L332.52 232.85L333.21 232.84L333.9 232.83L334.58 232.82L335.27 232.81L335.96 232.8L336.65 232.8L337.34 232.79L338.02 232.79L338.71 232.78L339.4 232.78L340.09 232.77L340.78 232.77L341.46 232.76L342.15 232.76L342.84 232.75L343.53 232.75L344.22 232.74L344.9 232.74L345.59 232.73L346.28 232.73L346.97 232.72L347.66 232.72L348.34 232.71L349.03 232.71L349.72 232.7L350.41 232.7L351.1 232.69L351.78 232.69L352.47 232.68L353.16 232.68L353.85 232.67L354.54 232.67L355.22 232.66L355.91 232.66L356.6 232.65L357.29 232.65L357.98 232.64L358.66 232.64L359.35 232.63L360.04 232.63L360.73 232.63L361.42 232.62L362.1 232.62L362.79 232.61L363.48 232.61L364.17 232.6L364.86 232.6L365.54 232.6L366.23 232.59L366.92 232.59L367.61 232.58L368.3 232.58L368.98 232.58L369.67 232.57L370.36 232.57L371.05 232.56L371.74 232.56L372.42 232.56L373.11 232.55L373.8 232.55L374.49 232.54L375.18 232.54L375.86 232.54L376.55 232.53L377.24 232.53L377.93 232.52L378.62 232.52L379.3 232.52L379.99 232.51L380.68 232.51L381.37 232.51L382.06 232.5L382.74 232.5L383.43 232.5L384.12 232.49L384.81 232.49L385.5 232.49L386.18 232.48L386.87 232.48L387.56 232.48L388.25 232.47L388.94 232.47L389.62 232.47L390.31 232.46L391 232.46L391.69 232.46L392.38 232.45L393.06 232.45L393.75 232.45L394.44 232.44L395.13 232.44L395.82 232.44L396.5 232.43L397.19 232.43L397.88 232.43L398.57 232.43L399.26 232.42L399.94 232.42L400.63 232.42L401.32 232.41L402.01 232.41L402.7 232.41L403.38 232.41L404.07 232.4L404.76 232.4L405.45 232.4L406.14 232.39L406.82 232.39L407.51 232.39L408.2 232.39L408.89 232.38L409.58 232.38L410.26 232.38L410.95 232.38L411.64 232.37L412.33 232.37L413.02 232.37L413.7 232.37L414.39 232.36L415.08 232.36L415.77 232.36L416.46 232.36L417.14 232.36L417.83 232.35L418.52 232.35L419.21 232.35L419.9 232.35L420.58 232.34L421.27 232.34L421.96 232.34L422.65 232.34L423.34 232.34L424.02 232.33L424.71 232.33L425.4 232.33L426.09 232.33L426.78 232.33L427.46 232.32L428.15 232.32L428.84 232.32L429.53 232.32L430.22 232.32L430.9 232.31L431.59 232.31L432.28 232.31L432.97 232.31L433.66 232.31L434.34 232.3L435.03 232.3L435.72 232.3L436.41 232.3L437.1 232.3L437.78 232.3L438.47 232.29L439.16 232.29L439.85 232.29L440.54 232.29L441.22 232.29L441.91 232.29L442.6 232.29L443.29 232.28L443.98 232.28L444.66 232.28L445.35 232.28L446.04 232.28L446.73 232.28L447.42 232.28L448.1 232.27L448.79 232.27L449.48 232.27L450.17 232.27L450.86 232.27L451.54 232.27L452.23 232.27L452.92 232.26L453.61 232.26L454.3 232.26L454.98 232.26L455.67 232.26L456.36 232.26L457.05 232.26L457.74 232.26L458.42 232.26L459.11 232.25L459.8 232.25L460.49 232.25L461.18 232.25L461.86 232.25L462.55 232.25L463.24 232.25L463.93 232.25L464.62 232.25L465.3 232.25L465.99 232.24L466.68 232.24L467.37 232.24L468.06 232.24L468.74 232.24L469.43 232.24L470.12 232.24L470.81 232.24L471.5 232.24L472.18 232.24L472.87 232.24L473.56 232.24L474.25 232.23L474.94 232.23L475.62 232.23L476.31 232.23L477 232.23L477.69 232.23L478.38 232.23L479.06 232.23L479.75 232.23L480.44 232.23L481.13 232.23L481.82 232.23L482.5 232.23L483.19 232.23L483.88 232.23L484.57 232.23L485.26 232.23L485.94 232.22L486.63 232.22L487.32 232.22L488.01 232.22L488.7 232.22L489.38 232.22L490.07 232.22L490.76 232.22L491.45 232.22L492.14 232.22L492.82 232.22L493.51 232.22L494.2 232.22L494.89 232.22L495.58 232.22L496.26 232.22L496.95 232.22L497.64 232.22L498.33 232.22L499.02 232.22L499.7 232.22L500.39 232.22L501.08 232.22L501.77 232.22L502.46 232.22L503.14 232.22L503.83 232.22L504.52 232.22L505.21 232.22L505.9 232.22L506.58 232.22L507.27 232.22L507.96 232.22L508.65 232.22L509.34 232.22L510.02 232.22L510.71 232.22L511.4 232.22" fill="none" stroke="#000" stroke-width="1.05"/>
<circle cx="314.63" cy="229.25" r="2.75" fill="#000" />
<circle cx="335.27" cy="43.51" r="2.75" fill="#000" />
<circle cx="355.91" cy="148.25" r="2.75" fill="#000" />
<circle cx="376.55" cy="195.72" r="2.75" fill="#000" />
<circle cx="397.19" cy="215.3" r="2.75" fill="#000" />
<circle cx="417.83" cy="224.21" r="2.75" fill="#000" />
<circle cx="438.47" cy="228.36" r="2.75" fill="#000" />
<circle cx="459.11" cy="230.73" r="2.75" fill="#000" />
<circle cx="479.75" cy="231.78" r="2.75" fill="#000" />
<circle cx="500.39" cy="232.41" r="2.75" fill="#000" />
<rect x="311.83" y="229.42" width="5.6" height="5.6" fill="#000" />
<rect x="332.47" y="67.71" width="5.6" height="5.6" fill="#000" />
<rect x="353.11" y="144.85" width="5.6" height="5.6" fill="#000" />
<rect x="373.75" y="192.33" width="5.6" height="5.6" fill="#000" />
<rect x="394.39" y="211.91" width="5.6" height="5.6" fill="#000" />
<rect x="415.03" y="221.11" width="5.6" height="5.6" fill="#000" />
<rect x="435.67" y="225.56" width="5.6" height="5.6" fill="#000" />
<rect x="456.31" y="227.93" width="5.6" height="5.6" fill="#000" />
<rect x="476.95" y="228.98" width="5.6" height="5.6" fill="#000" />
<rect x="497.59" y="229.61" width="5.6" height="5.6" fill="#000" />
<path d="M335.27 184.9L338.57 189.69L331.97 189.69Z" fill="#000" />
<path d="M355.91 106.87L359.21 111.65L352.61 111.65Z" fill="#000" />
<path d="M376.55 176.6L379.85 181.38L373.25 181.38Z" fill="#000" />
<path d="M397.19 205.67L400.49 210.46L393.89 210.46Z" fill="#000" />
<path d="M417.83 218.43L421.13 223.22L414.53 223.22Z" fill="#000" />
<path d="M438.47 224.37L441.77 229.15L435.17 229.15Z" fill="#000" />
<path d="M459.11 227.33L462.41 232.12L455.81 232.12Z" fill="#000" />
<path d="M479.75 228.56L483.05 233.35L476.45 233.35Z" fill="#000" />
<path d="M500.39 229.3L503.69 234.08L497.09 234.08Z" fill="#000" />
<path d="M335.27 227.53L338.47 230.73L335.27 233.93L332.07 230.73Z" fill="#000" />
<path d="M355.91 195.19L359.11 198.39L355.91 201.59L352.71 198.39Z" fill="#000" />
<path d="M376.55 158.7L379.75 161.9L376.55 165.1L373.35 161.9Z" fill="#000" />
<path d="M397.19 191.33L400.39 194.53L397.19 197.73L393.99 194.53Z" fill="#000" />
<path d="M417.83 212.1L421.03 215.3L417.83 218.5L414.63 215.3Z" fill="#000" />
<path d="M438.47 220.71L441.67 223.91L438.47 227.11L435.27 223.91Z" fill="#000" />
<path d="M459.11 224.57L462.31 227.77L459.11 230.97L455.91 227.77Z" fill="#000" />
<path d="M479.75 226.64L482.95 229.84L479.75 233.04L476.55 229.84Z" fill="#000" />
<path d="M500.39 227.83L503.59 231.03L500.39 234.23L497.19 231.03Z" fill="#000" />
<path d="M397.19 235.24L400.49 230.45L393.89 230.45Z" fill="#000" />
<path d="M417.83 235.16L421.13 230.37L414.53 230.37Z" fill="#000" />
<path d="M438.47 235.1L441.77 230.31L435.17 230.31Z" fill="#000" />
<path d="M459.11 235.06L462.41 230.27L455.81 230.27Z" fill="#000" />
<path d="M479.75 235.03L483.05 230.25L476.45 230.25Z" fill="#000" />
<path d="M500.39 235.02L503.69 230.24L497.09 230.24Z" fill="#000" />
<circle cx="314.63" cy="231.33" r="2.75" fill="white" stroke="#555" stroke-width="0.9"/>
<circle cx="335.27" cy="51.46" r="2.75" fill="white" stroke="#555" stroke-width="0.9"/>
<circle cx="355.91" cy="148.84" r="2.75" fill="white" stroke="#555" stroke-width="0.9"/>
<circle cx="376.55" cy="195.72" r="2.75" fill="white" stroke="#555" stroke-width="0.9"/>
<circle cx="397.19" cy="215.9" r="2.75" fill="white" stroke="#555" stroke-width="0.9"/>
<circle cx="417.83" cy="224.8" r="2.75" fill="white" stroke="#555" stroke-width="0.9"/>
<circle cx="438.47" cy="228.95" r="2.75" fill="white" stroke="#555" stroke-width="0.9"/>
<circle cx="459.11" cy="231.03" r="2.75" fill="white" stroke="#555" stroke-width="0.9"/>
<circle cx="479.75" cy="231.9" r="2.75" fill="white" stroke="#555" stroke-width="0.9"/>
<circle cx="500.39" cy="232.43" r="2.75" fill="white" stroke="#555" stroke-width="0.9"/>
<rect x="332.47" y="103.61" width="5.6" height="5.6" fill="white" stroke="#555" stroke-width="0.9"/>
<rect x="353.11" y="137.14" width="5.6" height="5.6" fill="white" stroke="#555" stroke-width="0.9"/>
<rect x="373.75" y="193.81" width="5.6" height="5.6" fill="white" stroke="#555" stroke-width="0.9"/>
<rect x="394.39" y="213.1" width="5.6" height="5.6" fill="white" stroke="#555" stroke-width="0.9"/>
<rect x="415.03" y="221.41" width="5.6" height="5.6" fill="white" stroke="#555" stroke-width="0.9"/>
<rect x="435.67" y="225.56" width="5.6" height="5.6" fill="white" stroke="#555" stroke-width="0.9"/>
<rect x="456.31" y="227.93" width="5.6" height="5.6" fill="white" stroke="#555" stroke-width="0.9"/>
<rect x="476.95" y="228.98" width="5.6" height="5.6" fill="white" stroke="#555" stroke-width="0.9"/>
<rect x="497.59" y="229.61" width="5.6" height="5.6" fill="white" stroke="#555" stroke-width="0.9"/>
<path d="M335.27 220.21L338.57 225L331.97 225Z" fill="white" stroke="#555" stroke-width="0.9"/>
<path d="M355.91 144.55L359.21 149.34L352.61 149.34Z" fill="white" stroke="#555" stroke-width="0.9"/>
<path d="M376.55 151.67L379.85 156.46L373.25 156.46Z" fill="white" stroke="#555" stroke-width="0.9"/>
<path d="M397.19 199.44L400.49 204.23L393.89 204.23Z" fill="white" stroke="#555" stroke-width="0.9"/>
<path d="M417.83 214.58L421.13 219.36L414.53 219.36Z" fill="white" stroke="#555" stroke-width="0.9"/>
<path d="M438.47 221.99L441.77 226.78L435.17 226.78Z" fill="white" stroke="#555" stroke-width="0.9"/>
<path d="M459.11 225.55L462.41 230.34L455.81 230.34Z" fill="white" stroke="#555" stroke-width="0.9"/>
<path d="M479.75 227.33L483.05 232.12L476.45 232.12Z" fill="white" stroke="#555" stroke-width="0.9"/>
<path d="M500.39 228.29L503.69 233.07L497.09 233.07Z" fill="white" stroke="#555" stroke-width="0.9"/>
<path d="M355.91 226.05L359.11 229.25L355.91 232.45L352.71 229.25Z" fill="white" stroke="#555" stroke-width="0.9"/>
<path d="M376.55 218.33L379.75 221.53L376.55 224.73L373.35 221.53Z" fill="white" stroke="#555" stroke-width="0.9"/>
<path d="M397.19 210.62L400.39 213.82L397.19 217.02L393.99 213.82Z" fill="white" stroke="#555" stroke-width="0.9"/>
<path d="M417.83 209.14L421.03 212.34L417.83 215.54L414.63 212.34Z" fill="white" stroke="#555" stroke-width="0.9"/>
<path d="M438.47 215.96L441.67 219.16L438.47 222.36L435.27 219.16Z" fill="white" stroke="#555" stroke-width="0.9"/>
<path d="M459.11 219.82L462.31 223.02L459.11 226.22L455.91 223.02Z" fill="white" stroke="#555" stroke-width="0.9"/>
<path d="M479.75 223.97L482.95 227.17L479.75 230.37L476.55 227.17Z" fill="white" stroke="#555" stroke-width="0.9"/>
<path d="M500.39 225.46L503.59 228.66L500.39 231.86L497.19 228.66Z" fill="white" stroke="#555" stroke-width="0.9"/>
<path d="M355.91 234.13L359.21 229.35L352.61 229.35Z" fill="white" stroke="#555" stroke-width="0.9"/>
<path d="M376.55 231.16L379.85 226.38L373.25 226.38Z" fill="white" stroke="#555" stroke-width="0.9"/>
<path d="M397.19 228.2L400.49 223.41L393.89 223.41Z" fill="white" stroke="#555" stroke-width="0.9"/>
<path d="M417.83 227.6L421.13 222.82L414.53 222.82Z" fill="white" stroke="#555" stroke-width="0.9"/>
<path d="M438.47 228.79L441.77 224.01L435.17 224.01Z" fill="white" stroke="#555" stroke-width="0.9"/>
<path d="M459.11 231.16L462.41 226.38L455.81 226.38Z" fill="white" stroke="#555" stroke-width="0.9"/>
<path d="M479.75 232.65L483.05 227.86L476.45 227.86Z" fill="white" stroke="#555" stroke-width="0.9"/>
<path d="M500.39 233.54L503.69 228.75L497.09 228.75Z" fill="white" stroke="#555" stroke-width="0.9"/>
<rect x="311.83" y="230.01" width="5.6" height="5.6" fill="white" stroke="#555" stroke-width="0.9"/>
<path d="M314.63 230.6L317.93 235.38L311.33 235.38Z" fill="white" stroke="#555" stroke-width="0.9"/>
<path d="M314.63 230.5L317.83 233.7L314.63 236.9L311.43 233.7Z" fill="white" stroke="#555" stroke-width="0.9"/>
<path d="M335.27 229.61L338.47 232.81L335.27 236.01L332.07 232.81Z" fill="white" stroke="#555" stroke-width="0.9"/>
<path d="M314.63 236.5L317.93 231.72L311.33 231.72Z" fill="white" stroke="#555" stroke-width="0.9"/>
<path d="M335.27 235.91L338.57 231.13L331.97 231.13Z" fill="white" stroke="#555" stroke-width="0.9"/>
<path d="M314.63 230.3L317.93 235.09L311.33 235.09Z" fill="#000" />
<path d="M314.63 230.5L317.83 233.7L314.63 236.9L311.43 233.7Z" fill="#000" />
<path d="M314.63 236.5L317.93 231.72L311.33 231.72Z" fill="#000" />
<path d="M335.27 235.61L338.57 230.83L331.97 230.83Z" fill="#000" />
<path d="M355.91 235.46L359.21 230.68L352.61 230.68Z" fill="#000" />
<path d="M376.55 235.34L379.85 230.55L373.25 230.55Z" fill="#000" />
<path d="M49.17 511.3L49.86 511.3L50.55 511.3L51.24 511.29L51.93 511.29L52.62 511.28L53.31 511.27L54 511.26L54.69 511.25L55.38 511.24L56.06 511.23L56.75 511.21L57.44 511.2L58.13 511.18L58.82 511.16L59.51 511.14L60.2 511.12L60.89 511.1L61.58 511.07L62.27 511.05L62.96 511.02L63.65 510.99L64.34 510.96L65.03 510.93L65.72 510.9L66.41 510.87L67.1 510.83L67.79 510.8L68.48 510.76L69.17 510.72L69.86 510.68L70.55 510.62L71.23 510.54L71.92 510.45L72.61 510.33L73.3 510.2L73.99 510.06L74.68 509.9L75.37 509.72L76.06 509.53L76.75 509.33L77.44 509.12L78.13 508.9L78.82 508.67L79.51 508.44L80.2 508.18L80.89 507.86L81.58 507.48L82.27 507.04L82.96 506.56L83.65 506.03L84.34 505.47L85.03 504.88L85.72 504.27L86.4 503.65L87.09 503.02L87.78 502.39L88.47 501.76L89.16 501.15L89.85 500.56L90.54 499.96L91.23 499.33L91.92 498.67L92.61 497.99L93.3 497.28L93.99 496.56L94.68 495.82L95.37 495.07L96.06 494.3L96.75 493.53L97.44 492.76L98.13 491.99L98.82 491.21L99.51 490.44L100.2 489.68L100.89 488.93L101.57 488.19L102.26 487.47L102.95 486.77L103.64 486.09L104.33 485.43L105.02 484.81L105.71 484.21L106.4 483.65L107.09 483.13L107.78 482.64L108.47 482.2L109.16 481.8L109.85 481.45L110.54 481.15L111.23 480.84L111.92 480.54L112.61 480.24L113.3 479.95L113.99 479.66L114.68 479.37L115.37 479.09L116.06 478.81L116.74 478.54L117.43 478.28L118.12 478.03L118.81 477.78L119.5 477.54L120.19 477.31L120.88 477.09L121.57 476.88L122.26 476.69L122.95 476.5L123.64 476.33L124.33 476.17L125.02 476.02L125.71 475.89L126.4 475.77L127.09 475.67L127.78 475.58L128.47 475.52L129.16 475.46L129.85 475.43L130.54 475.42L131.23 475.42L131.91 475.47L132.6 475.54L133.29 475.64L133.98 475.77L134.67 475.91L135.36 476.08L136.05 476.25L136.74 476.44L137.43 476.64L138.12 476.84L138.81 477.05L139.5 477.25L140.19 477.44L140.88 477.63L141.57 477.85L142.26 478.07L142.95 478.32L143.64 478.57L144.33 478.84L145.02 479.11L145.71 479.39L146.4 479.68L147.08 479.96L147.77 480.25L148.46 480.53L149.15 480.81L149.84 481.08L150.53 481.34L151.22 481.59L151.91 481.82L152.6 482.06L153.29 482.29L153.98 482.52L154.67 482.75L155.36 482.97L156.05 483.2L156.74 483.42L157.43 483.64L158.12 483.85L158.81 484.07L159.5 484.28L160.19 484.5L160.88 484.71L161.57 484.92L162.25 485.13L162.94 485.34L163.63 485.55L164.32 485.76L165.01 485.98L165.7 486.19L166.39 486.4L167.08 486.61L167.77 486.82L168.46 487.04L169.15 487.25L169.84 487.47L170.53 487.69L171.22 487.9L171.91 488.13L172.6 488.35L173.29 488.57L173.98 488.8L174.67 489.03L175.36 489.26L176.05 489.49L176.74 489.72L177.42 489.95L178.11 490.18L178.8 490.41L179.49 490.65L180.18 490.88L180.87 491.11L181.56 491.35L182.25 491.58L182.94 491.81L183.63 492.05L184.32 492.28L185.01 492.51L185.7 492.74L186.39 492.97L187.08 493.2L187.77 493.42L188.46 493.65L189.15 493.87L189.84 494.09L190.53 494.31L191.22 494.53L191.91 494.75L192.59 494.96L193.28 495.17L193.97 495.39L194.66 495.6L195.35 495.81L196.04 496.03L196.73 496.24L197.42 496.46L198.11 496.67L198.8 496.88L199.49 497.1L200.18 497.31L200.87 497.52L201.56 497.73L202.25 497.94L202.94 498.14L203.63 498.35L204.32 498.55L205.01 498.75L205.7 498.95L206.39 499.14L207.08 499.33L207.76 499.52L208.45 499.71L209.14 499.89L209.83 500.07L210.52 500.25L211.21 500.42L211.9 500.59L212.59 500.75L213.28 500.91L213.97 501.06L214.66 501.22L215.35 501.37L216.04 501.52L216.73 501.67L217.42 501.82L218.11 501.97L218.8 502.11L219.49 502.26L220.18 502.4L220.87 502.54L221.56 502.68L222.25 502.81L222.93 502.95L223.62 503.08L224.31 503.21L225 503.34L225.69 503.47L226.38 503.59L227.07 503.71L227.76 503.83L228.45 503.94L229.14 504.06L229.83 504.17L230.52 504.28L231.21 504.38L231.9 504.48L232.59 504.58L233.28 504.68L233.97 504.77L234.66 504.86L235.35 504.95L236.04 505.04L236.73 505.12L237.42 505.21L238.1 505.29L238.79 505.36L239.48 505.44L240.17 505.51L240.86 505.58L241.55 505.65L242.24 505.72L242.93 505.78L243.62 505.85L244.31 505.91L245 505.96" fill="none" stroke="#000" stroke-width="1.05"/>
<path d="M50.2 511L50.89 511L51.58 511L52.27 511L52.95 510.99L53.64 510.98L54.33 510.97L55.02 510.96L55.71 510.95L56.4 510.94L57.09 510.92L57.77 510.91L58.46 510.89L59.15 510.87L59.84 510.85L60.53 510.83L61.21 510.8L61.9 510.78L62.59 510.75L63.28 510.72L63.97 510.69L64.66 510.66L65.34 510.63L66.03 510.6L66.72 510.56L67.41 510.53L68.1 510.49L68.79 510.45L69.47 510.41L70.16 510.35L70.85 510.26L71.54 510.14L72.23 509.98L72.92 509.8L73.61 509.59L74.29 509.36L74.98 509.1L75.67 508.83L76.36 508.53L77.05 508.21L77.73 507.88L78.42 507.54L79.11 507.19L79.8 506.82L80.49 506.44L81.18 506.06L81.87 505.68L82.55 505.29L83.24 504.9L83.93 504.51L84.62 504.12L85.31 503.73L86 503.31L86.68 502.84L87.37 502.35L88.06 501.81L88.75 501.25L89.44 500.67L90.12 500.06L90.81 499.43L91.5 498.78L92.19 498.12L92.88 497.46L93.57 496.78L94.25 496.11L94.94 495.43L95.63 494.76L96.32 494.1L97.01 493.45L97.7 492.81L98.38 492.2L99.07 491.6L99.76 491.03L100.45 490.48L101.14 489.97L101.83 489.5L102.52 489.06L103.2 488.64L103.89 488.22L104.58 487.81L105.27 487.39L105.96 486.98L106.64 486.58L107.33 486.18L108.02 485.79L108.71 485.4L109.4 485.02L110.09 484.65L110.78 484.29L111.46 483.94L112.15 483.6L112.84 483.27L113.53 482.95L114.22 482.65L114.91 482.36L115.59 482.09L116.28 481.84L116.97 481.6L117.66 481.38L118.35 481.17L119.03 480.99L119.72 480.83L120.41 480.68L121.1 480.54L121.79 480.4L122.48 480.26L123.17 480.13L123.85 480L124.54 479.88L125.23 479.76L125.92 479.66L126.61 479.56L127.3 479.48L127.98 479.41L128.67 479.35L129.36 479.31L130.05 479.28L130.74 479.27L131.43 479.28L132.11 479.31L132.8 479.35L133.49 479.41L134.18 479.47L134.87 479.56L135.56 479.65L136.24 479.75L136.93 479.86L137.62 479.97L138.31 480.09L139 480.21L139.69 480.33L140.37 480.46L141.06 480.59L141.75 480.75L142.44 480.92L143.13 481.11L143.81 481.33L144.5 481.55L145.19 481.79L145.88 482.04L146.57 482.31L147.26 482.58L147.94 482.86L148.63 483.15L149.32 483.44L150.01 483.74L150.7 484.04L151.39 484.34L152.08 484.63L152.76 484.93L153.45 485.22L154.14 485.51L154.83 485.79L155.52 486.08L156.2 486.36L156.89 486.66L157.58 486.96L158.27 487.26L158.96 487.57L159.65 487.88L160.33 488.2L161.02 488.51L161.71 488.83L162.4 489.15L163.09 489.48L163.78 489.8L164.47 490.12L165.15 490.44L165.84 490.77L166.53 491.08L167.22 491.4L167.91 491.71L168.59 492.02L169.28 492.33L169.97 492.63L170.66 492.93L171.35 493.22L172.04 493.51L172.72 493.79L173.41 494.07L174.1 494.36L174.79 494.64L175.48 494.93L176.17 495.21L176.85 495.49L177.54 495.78L178.23 496.06L178.92 496.34L179.61 496.61L180.3 496.88L180.99 497.15L181.67 497.42L182.36 497.67L183.05 497.93L183.74 498.18L184.43 498.42L185.11 498.66L185.8 498.89L186.49 499.11L187.18 499.33L187.87 499.54L188.56 499.73L189.25 499.93L189.93 500.12L190.62 500.3L191.31 500.48L192 500.66L192.69 500.84L193.38 501.01L194.06 501.18L194.75 501.35L195.44 501.52L196.13 501.68L196.82 501.84L197.5 501.99L198.19 502.15L198.88 502.3L199.57 502.44L200.26 502.59L200.95 502.73L201.64 502.87L202.32 503L203.01 503.14L203.7 503.27L204.39 503.4L205.08 503.52L205.76 503.65L206.45 503.77L207.14 503.89L207.83 504L208.52 504.12L209.21 504.24L209.9 504.35L210.58 504.47L211.27 504.59L211.96 504.7L212.65 504.81L213.34 504.92L214.03 505.03L214.71 505.14L215.4 505.24L216.09 505.34L216.78 505.44L217.47 505.54L218.16 505.63L218.84 505.72L219.53 505.8L220.22 505.88L220.91 505.96L221.6 506.03L222.28 506.09L222.97 506.15L223.66 506.21L224.35 506.26L225.04 506.3L225.73 506.35L226.41 506.39L227.1 506.44L227.79 506.48L228.48 506.53L229.17 506.57L229.86 506.61L230.55 506.65L231.23 506.69L231.92 506.73L232.61 506.77L233.3 506.81L233.99 506.84L234.68 506.88L235.36 506.91L236.05 506.94L236.74 506.97L237.43 506.99L238.12 507.02L238.8 507.04L239.49 507.06L240.18 507.08L240.87 507.1L241.56 507.11L242.25 507.13L242.94 507.14L243.62 507.14L244.31 507.15L245 507.15" fill="none" stroke="#000" stroke-width="1.05"/>
<path d="M49.17 511.3L49.86 511.3L50.55 511.3L51.24 511.29L51.93 511.29L52.62 511.28L53.31 511.27L54 511.26L54.69 511.25L55.38 511.24L56.06 511.23L56.75 511.21L57.44 511.2L58.13 511.18L58.82 511.16L59.51 511.14L60.2 511.12L60.89 511.09L61.58 511.07L62.27 511.04L62.96 511.02L63.65 510.99L64.34 510.96L65.03 510.93L65.72 510.9L66.41 510.87L67.1 510.83L67.79 510.8L68.48 510.76L69.17 510.72L69.86 510.68L70.55 510.6L71.23 510.48L71.92 510.32L72.61 510.13L73.3 509.9L73.99 509.65L74.68 509.36L75.37 509.06L76.06 508.72L76.75 508.37L77.44 508L78.13 507.61L78.82 507.21L79.51 506.79L80.2 506.36L80.89 505.93L81.58 505.49L82.27 505.05L82.96 504.6L83.65 504.16L84.34 503.72L85.03 503.29L85.72 502.86L86.4 502.44L87.09 502.04L87.78 501.65L88.47 501.28L89.16 500.92L89.85 500.59L90.54 500.27L91.23 499.95L91.92 499.63L92.61 499.32L93.3 499.01L93.99 498.71L94.68 498.4L95.37 498.1L96.06 497.8L96.75 497.5L97.44 497.2L98.13 496.9L98.82 496.6L99.51 496.3L100.2 496L100.89 495.71L101.57 495.41L102.26 495.11L102.95 494.81L103.64 494.51L104.33 494.21L105.02 493.9L105.71 493.6L106.4 493.29L107.09 492.98L107.78 492.66L108.47 492.35L109.16 492.03L109.85 491.71L110.54 491.38L111.23 491.03L111.92 490.66L112.61 490.27L113.3 489.86L113.99 489.43L114.68 488.99L115.37 488.54L116.06 488.08L116.74 487.62L117.43 487.15L118.12 486.68L118.81 486.21L119.5 485.74L120.19 485.29L120.88 484.84L121.57 484.4L122.26 483.98L122.95 483.58L123.64 483.2L124.33 482.84L125.02 482.5L125.71 482.2L126.4 481.92L127.09 481.68L127.78 481.47L128.47 481.3L129.16 481.17L129.85 481.09L130.54 481.05L131.23 481.05L131.91 481.06L132.6 481.07L133.29 481.09L133.98 481.12L134.67 481.15L135.36 481.19L136.05 481.23L136.74 481.28L137.43 481.33L138.12 481.39L138.81 481.45L139.5 481.52L140.19 481.59L140.88 481.66L141.57 481.74L142.26 481.82L142.95 481.91L143.64 481.99L144.33 482.08L145.02 482.18L145.71 482.27L146.4 482.37L147.08 482.47L147.77 482.57L148.46 482.67L149.15 482.78L149.84 482.89L150.53 482.99L151.22 483.1L151.91 483.21L152.6 483.34L153.29 483.49L153.98 483.66L154.67 483.84L155.36 484.03L156.05 484.24L156.74 484.45L157.43 484.68L158.12 484.92L158.81 485.17L159.5 485.43L160.19 485.7L160.88 485.97L161.57 486.25L162.25 486.54L162.94 486.82L163.63 487.11L164.32 487.41L165.01 487.7L165.7 487.99L166.39 488.29L167.08 488.58L167.77 488.87L168.46 489.15L169.15 489.43L169.84 489.71L170.53 489.98L171.22 490.24L171.91 490.49L172.6 490.74L173.29 490.99L173.98 491.25L174.67 491.5L175.36 491.76L176.05 492.02L176.74 492.28L177.42 492.55L178.11 492.81L178.8 493.07L179.49 493.33L180.18 493.6L180.87 493.86L181.56 494.12L182.25 494.38L182.94 494.64L183.63 494.9L184.32 495.15L185.01 495.41L185.7 495.65L186.39 495.9L187.08 496.14L187.77 496.38L188.46 496.62L189.15 496.85L189.84 497.08L190.53 497.3L191.22 497.51L191.91 497.72L192.59 497.93L193.28 498.13L193.97 498.33L194.66 498.52L195.35 498.72L196.04 498.91L196.73 499.1L197.42 499.29L198.11 499.48L198.8 499.67L199.49 499.85L200.18 500.03L200.87 500.21L201.56 500.39L202.25 500.57L202.94 500.74L203.63 500.91L204.32 501.08L205.01 501.24L205.7 501.41L206.39 501.56L207.08 501.72L207.76 501.87L208.45 502.03L209.14 502.17L209.83 502.32L210.52 502.46L211.21 502.59L211.9 502.73L212.59 502.86L213.28 502.99L213.97 503.11L214.66 503.23L215.35 503.35L216.04 503.47L216.73 503.59L217.42 503.71L218.11 503.82L218.8 503.94L219.49 504.05L220.18 504.16L220.87 504.27L221.56 504.37L222.25 504.48L222.93 504.58L223.62 504.68L224.31 504.78L225 504.88L225.69 504.97L226.38 505.07L227.07 505.16L227.76 505.25L228.45 505.33L229.14 505.42L229.83 505.5L230.52 505.59L231.21 505.66L231.9 505.74L232.59 505.82L233.28 505.89L233.97 505.96L234.66 506.03L235.35 506.1L236.04 506.16L236.73 506.22L237.42 506.29L238.1 506.35L238.79 506.41L239.48 506.46L240.17 506.52L240.86 506.57L241.55 506.62L242.24 506.67L242.93 506.72L243.62 506.77L244.31 506.81L245 506.85" fill="none" stroke="#000" stroke-width="1.05"/>
<path d="M49.17 511.3L49.86 511.3L50.55 511.3L51.24 511.3L51.93 511.29L52.62 511.29L53.31 511.29L54 511.28L54.69 511.28L55.38 511.27L56.06 511.26L56.75 511.26L57.44 511.25L58.13 511.24L58.82 511.23L59.51 511.22L60.2 511.21L60.89 511.2L61.58 511.18L62.27 511.17L62.96 511.16L63.65 511.14L64.34 511.13L65.03 511.11L65.72 511.1L66.41 511.08L67.1 511.07L67.79 511.05L68.48 511.03L69.17 511.01L69.86 510.99L70.55 510.96L71.23 510.91L71.92 510.84L72.61 510.76L73.3 510.67L73.99 510.57L74.68 510.46L75.37 510.34L76.06 510.21L76.75 510.07L77.44 509.92L78.13 509.76L78.82 509.6L79.51 509.44L80.2 509.27L80.89 509.09L81.58 508.91L82.27 508.73L82.96 508.55L83.65 508.37L84.34 508.19L85.03 508.01L85.72 507.83L86.4 507.65L87.09 507.48L87.78 507.31L88.47 507.15L89.16 506.99L89.85 506.84L90.54 506.69L91.23 506.55L91.92 506.4L92.61 506.27L93.3 506.13L93.99 505.99L94.68 505.86L95.37 505.73L96.06 505.59L96.75 505.46L97.44 505.33L98.13 505.19L98.82 505.06L99.51 504.92L100.2 504.78L100.89 504.63L101.57 504.49L102.26 504.33L102.95 504.18L103.64 504.02L104.33 503.86L105.02 503.68L105.71 503.51L106.4 503.33L107.09 503.14L107.78 502.94L108.47 502.73L109.16 502.52L109.85 502.3L110.54 502.07L111.23 501.81L111.92 501.52L112.61 501.2L113.3 500.86L113.99 500.48L114.68 500.08L115.37 499.66L116.06 499.22L116.74 498.76L117.43 498.28L118.12 497.8L118.81 497.3L119.5 496.79L120.19 496.27L120.88 495.75L121.57 495.23L122.26 494.71L122.95 494.18L123.64 493.66L124.33 493.15L125.02 492.65L125.71 492.15L126.4 491.67L127.09 491.2L127.78 490.75L128.47 490.32L129.16 489.91L129.85 489.52L130.54 489.16L131.23 488.81L131.91 488.46L132.6 488.1L133.29 487.73L133.98 487.36L134.67 486.99L135.36 486.61L136.05 486.24L136.74 485.86L137.43 485.49L138.12 485.12L138.81 484.76L139.5 484.4L140.19 484.05L140.88 483.72L141.57 483.39L142.26 483.07L142.95 482.77L143.64 482.48L144.33 482.22L145.02 481.96L145.71 481.73L146.4 481.52L147.08 481.33L147.77 481.17L148.46 481.03L149.15 480.92L149.84 480.83L150.53 480.78L151.22 480.75L151.91 480.76L152.6 480.8L153.29 480.86L153.98 480.95L154.67 481.06L155.36 481.19L156.05 481.34L156.74 481.52L157.43 481.71L158.12 481.92L158.81 482.14L159.5 482.38L160.19 482.63L160.88 482.9L161.57 483.17L162.25 483.45L162.94 483.74L163.63 484.03L164.32 484.33L165.01 484.63L165.7 484.94L166.39 485.24L167.08 485.55L167.77 485.85L168.46 486.14L169.15 486.44L169.84 486.72L170.53 487L171.22 487.27L171.91 487.53L172.6 487.78L173.29 488.04L173.98 488.3L174.67 488.58L175.36 488.85L176.05 489.13L176.74 489.42L177.42 489.7L178.11 490L178.8 490.29L179.49 490.59L180.18 490.88L180.87 491.18L181.56 491.48L182.25 491.78L182.94 492.07L183.63 492.37L184.32 492.66L185.01 492.95L185.7 493.24L186.39 493.53L187.08 493.81L187.77 494.08L188.46 494.36L189.15 494.62L189.84 494.88L190.53 495.13L191.22 495.38L191.91 495.62L192.59 495.85L193.28 496.07L193.97 496.29L194.66 496.51L195.35 496.73L196.04 496.95L196.73 497.17L197.42 497.38L198.11 497.59L198.8 497.8L199.49 498L200.18 498.21L200.87 498.41L201.56 498.61L202.25 498.8L202.94 499L203.63 499.19L204.32 499.38L205.01 499.56L205.7 499.74L206.39 499.92L207.08 500.09L207.76 500.27L208.45 500.43L209.14 500.6L209.83 500.76L210.52 500.92L211.21 501.07L211.9 501.22L212.59 501.36L213.28 501.5L213.97 501.64L214.66 501.77L215.35 501.91L216.04 502.04L216.73 502.16L217.42 502.29L218.11 502.41L218.8 502.53L219.49 502.65L220.18 502.77L220.87 502.89L221.56 503L222.25 503.11L222.93 503.22L223.62 503.33L224.31 503.44L225 503.54L225.69 503.65L226.38 503.75L227.07 503.85L227.76 503.95L228.45 504.04L229.14 504.14L229.83 504.23L230.52 504.33L231.21 504.42L231.9 504.51L232.59 504.6L233.28 504.69L233.97 504.77L234.66 504.86L235.35 504.94L236.04 505.03L236.73 505.11L237.42 505.19L238.1 505.26L238.79 505.34L239.48 505.42L240.17 505.49L240.86 505.56L241.55 505.63L242.24 505.7L242.93 505.77L243.62 505.83L244.31 505.9L245 505.96" fill="none" stroke="#000" stroke-width="1.05"/>
<path d="M49.17 511.3L49.86 511.3L50.55 511.3L51.24 511.3L51.93 511.3L52.62 511.29L53.31 511.29L54 511.29L54.69 511.28L55.38 511.28L56.06 511.27L56.75 511.27L57.44 511.26L58.13 511.25L58.82 511.25L59.51 511.24L60.2 511.23L60.89 511.22L61.58 511.21L62.27 511.2L62.96 511.19L63.65 511.18L64.34 511.17L65.03 511.16L65.72 511.15L66.41 511.13L67.1 511.12L67.79 511.11L68.48 511.09L69.17 511.08L69.86 511.06L70.55 511.05L71.23 511.03L71.92 511.01L72.61 511L73.3 510.98L73.99 510.96L74.68 510.94L75.37 510.92L76.06 510.9L76.75 510.88L77.44 510.86L78.13 510.84L78.82 510.82L79.51 510.8L80.2 510.77L80.89 510.75L81.58 510.73L82.27 510.7L82.96 510.68L83.65 510.65L84.34 510.63L85.03 510.6L85.72 510.58L86.4 510.55L87.09 510.52L87.78 510.49L88.47 510.47L89.16 510.44L89.85 510.41L90.54 510.37L91.23 510.33L91.92 510.27L92.61 510.21L93.3 510.14L93.99 510.06L94.68 509.97L95.37 509.88L96.06 509.78L96.75 509.67L97.44 509.56L98.13 509.44L98.82 509.32L99.51 509.19L100.2 509.05L100.89 508.91L101.57 508.77L102.26 508.63L102.95 508.48L103.64 508.33L104.33 508.17L105.02 508.02L105.71 507.86L106.4 507.7L107.09 507.54L107.78 507.38L108.47 507.22L109.16 507.06L109.85 506.91L110.54 506.75L111.23 506.58L111.92 506.4L112.61 506.22L113.3 506.03L113.99 505.83L114.68 505.62L115.37 505.41L116.06 505.19L116.74 504.97L117.43 504.74L118.12 504.51L118.81 504.27L119.5 504.03L120.19 503.79L120.88 503.55L121.57 503.3L122.26 503.05L122.95 502.8L123.64 502.55L124.33 502.3L125.02 502.05L125.71 501.8L126.4 501.55L127.09 501.3L127.78 501.05L128.47 500.81L129.16 500.57L129.85 500.33L130.54 500.1L131.23 499.87L131.91 499.64L132.6 499.41L133.29 499.18L133.98 498.95L134.67 498.72L135.36 498.49L136.05 498.26L136.74 498.03L137.43 497.79L138.12 497.56L138.81 497.32L139.5 497.08L140.19 496.83L140.88 496.58L141.57 496.32L142.26 496.06L142.95 495.78L143.64 495.5L144.33 495.21L145.02 494.93L145.71 494.64L146.4 494.36L147.08 494.09L147.77 493.82L148.46 493.56L149.15 493.31L149.84 493.08L150.53 492.86L151.22 492.66L151.91 492.47L152.6 492.29L153.29 492.1L153.98 491.91L154.67 491.72L155.36 491.53L156.05 491.34L156.74 491.15L157.43 490.96L158.12 490.78L158.81 490.59L159.5 490.42L160.19 490.24L160.88 490.07L161.57 489.91L162.25 489.75L162.94 489.6L163.63 489.46L164.32 489.32L165.01 489.19L165.7 489.07L166.39 488.96L167.08 488.86L167.77 488.76L168.46 488.68L169.15 488.62L169.84 488.56L170.53 488.52L171.22 488.48L171.91 488.47L172.6 488.46L173.29 488.48L173.98 488.5L174.67 488.54L175.36 488.59L176.05 488.65L176.74 488.72L177.42 488.81L178.11 488.9L178.8 489L179.49 489.11L180.18 489.23L180.87 489.35L181.56 489.48L182.25 489.62L182.94 489.76L183.63 489.9L184.32 490.05L185.01 490.2L185.7 490.36L186.39 490.51L187.08 490.67L187.77 490.83L188.46 490.98L189.15 491.14L189.84 491.29L190.53 491.44L191.22 491.59L191.91 491.73L192.59 491.87L193.28 492.01L193.97 492.14L194.66 492.27L195.35 492.41L196.04 492.55L196.73 492.69L197.42 492.83L198.11 492.98L198.8 493.12L199.49 493.27L200.18 493.42L200.87 493.57L201.56 493.72L202.25 493.88L202.94 494.03L203.63 494.18L204.32 494.34L205.01 494.49L205.7 494.65L206.39 494.8L207.08 494.96L207.76 495.11L208.45 495.27L209.14 495.42L209.83 495.57L210.52 495.72L211.21 495.87L211.9 496.02L212.59 496.17L213.28 496.32L213.97 496.46L214.66 496.6L215.35 496.75L216.04 496.89L216.73 497.03L217.42 497.18L218.11 497.32L218.8 497.46L219.49 497.61L220.18 497.75L220.87 497.89L221.56 498.04L222.25 498.18L222.93 498.32L223.62 498.46L224.31 498.6L225 498.74L225.69 498.88L226.38 499.02L227.07 499.16L227.76 499.3L228.45 499.43L229.14 499.57L229.83 499.7L230.52 499.84L231.21 499.97L231.9 500.1L232.59 500.23L233.28 500.36L233.97 500.49L234.66 500.62L235.35 500.75L236.04 500.87L236.73 501L237.42 501.12L238.1 501.24L238.79 501.36L239.48 501.48L240.17 501.6L240.86 501.72L241.55 501.83L242.24 501.95L242.93 502.06L243.62 502.18L244.31 502.29L245 502.4" fill="none" stroke="#000" stroke-width="1.05"/>
<path d="M55.02 511.3L55.71 511.3L56.4 511.29L57.09 511.29L57.77 511.28L58.46 511.26L59.15 511.25L59.84 511.23L60.53 511.21L61.21 511.18L61.9 511.16L62.59 511.13L63.28 511.1L63.97 511.06L64.66 511.03L65.34 510.99L66.03 510.95L66.72 510.9L67.41 510.86L68.1 510.81L68.79 510.76L69.47 510.7L70.16 510.65L70.85 510.59L71.54 510.53L72.23 510.47L72.92 510.41L73.6 510.32L74.29 510.18L74.98 510L75.67 509.77L76.36 509.5L77.05 509.2L77.73 508.86L78.42 508.49L79.11 508.09L79.8 507.67L80.49 507.22L81.18 506.76L81.87 506.28L82.55 505.78L83.24 505.28L83.93 504.76L84.62 504.25L85.31 503.73L86 503.21L86.68 502.7L87.37 502.2L88.06 501.7L88.75 501.22L89.44 500.76L90.12 500.31L90.81 499.84L91.5 499.35L92.19 498.86L92.88 498.35L93.57 497.83L94.25 497.3L94.94 496.77L95.63 496.22L96.32 495.68L97.01 495.13L97.7 494.58L98.39 494.03L99.07 493.48L99.76 492.94L100.45 492.4L101.14 491.86L101.83 491.34L102.52 490.82L103.2 490.31L103.89 489.82L104.58 489.33L105.27 488.87L105.96 488.42L106.65 487.99L107.33 487.57L108.02 487.17L108.71 486.75L109.4 486.32L110.09 485.89L110.78 485.45L111.46 485.02L112.15 484.58L112.84 484.15L113.53 483.72L114.22 483.3L114.91 482.9L115.59 482.5L116.28 482.12L116.97 481.76L117.66 481.41L118.35 481.09L119.04 480.79L119.72 480.52L120.41 480.27L121.1 480.06L121.79 479.88L122.48 479.74L123.17 479.63L123.85 479.57L124.54 479.52L125.23 479.48L125.92 479.44L126.61 479.4L127.3 479.37L127.98 479.34L128.67 479.32L129.36 479.3L130.05 479.28L130.74 479.27L131.43 479.27L132.11 479.29L132.8 479.33L133.49 479.41L134.18 479.52L134.87 479.64L135.56 479.8L136.24 479.97L136.93 480.16L137.62 480.37L138.31 480.59L139 480.82L139.69 481.07L140.37 481.32L141.06 481.58L141.75 481.84L142.44 482.1L143.13 482.36L143.81 482.62L144.5 482.88L145.19 483.13L145.88 483.38L146.57 483.65L147.26 483.94L147.94 484.25L148.63 484.57L149.32 484.9L150.01 485.24L150.7 485.59L151.39 485.94L152.07 486.3L152.76 486.66L153.45 487.01L154.14 487.37L154.83 487.72L155.52 488.07L156.2 488.41L156.89 488.74L157.58 489.05L158.27 489.35L158.96 489.65L159.65 489.94L160.33 490.24L161.02 490.53L161.71 490.82L162.4 491.11L163.09 491.4L163.78 491.68L164.47 491.96L165.15 492.24L165.84 492.51L166.53 492.78L167.22 493.04L167.91 493.29L168.59 493.54L169.28 493.79L169.97 494.03L170.66 494.26L171.35 494.48L172.04 494.69L172.72 494.9L173.41 495.1L174.1 495.3L174.79 495.49L175.48 495.68L176.17 495.87L176.85 496.05L177.54 496.23L178.23 496.41L178.92 496.58L179.61 496.75L180.3 496.92L180.99 497.08L181.67 497.25L182.36 497.41L183.05 497.57L183.74 497.72L184.43 497.88L185.11 498.04L185.8 498.19L186.49 498.35L187.18 498.5L187.87 498.65L188.56 498.81L189.24 498.96L189.93 499.11L190.62 499.27L191.31 499.42L192 499.58L192.69 499.73L193.38 499.89L194.06 500.05L194.75 500.21L195.44 500.37L196.13 500.53L196.82 500.7L197.51 500.86L198.19 501.02L198.88 501.18L199.57 501.34L200.26 501.51L200.95 501.67L201.64 501.82L202.32 501.98L203.01 502.14L203.7 502.29L204.39 502.45L205.08 502.6L205.76 502.75L206.45 502.89L207.14 503.04L207.83 503.18L208.52 503.32L209.21 503.45L209.89 503.58L210.58 503.71L211.27 503.83L211.96 503.95L212.65 504.07L213.34 504.18L214.03 504.29L214.71 504.4L215.4 504.5L216.09 504.61L216.78 504.71L217.47 504.81L218.16 504.91L218.84 505.01L219.53 505.1L220.22 505.19L220.91 505.28L221.6 505.37L222.28 505.45L222.97 505.54L223.66 505.61L224.35 505.69L225.04 505.76L225.73 505.83L226.41 505.9L227.1 505.96L227.79 506.02L228.48 506.08L229.17 506.14L229.86 506.2L230.54 506.26L231.23 506.32L231.92 506.37L232.61 506.43L233.3 506.48L233.99 506.53L234.68 506.59L235.36 506.64L236.05 506.69L236.74 506.73L237.43 506.78L238.12 506.82L238.81 506.86L239.49 506.9L240.18 506.94L240.87 506.98L241.56 507.01L242.25 507.04L242.94 507.07L243.62 507.1L244.31 507.13L245 507.15" fill="none" stroke="#000" stroke-width="1.05"/>
<path d="M49.17 511.3L49.86 511.3L50.55 511.3L51.24 511.29L51.93 511.29L52.62 511.28L53.31 511.27L54 511.26L54.69 511.24L55.38 511.23L56.06 511.21L56.75 511.19L57.44 511.17L58.13 511.15L58.82 511.13L59.51 511.11L60.2 511.08L60.89 511.05L61.58 511.03L62.27 511L62.96 510.96L63.65 510.93L64.34 510.9L65.03 510.86L65.72 510.83L66.41 510.79L67.1 510.75L67.79 510.71L68.48 510.67L69.17 510.62L69.86 510.58L70.55 510.54L71.23 510.49L71.92 510.44L72.61 510.39L73.3 510.35L73.99 510.3L74.68 510.24L75.37 510.19L76.06 510.14L76.75 510.09L77.44 510.03L78.13 509.98L78.82 509.92L79.51 509.86L80.2 509.8L80.89 509.74L81.58 509.68L82.27 509.62L82.96 509.56L83.65 509.5L84.34 509.44L85.03 509.38L85.72 509.31L86.4 509.25L87.09 509.18L87.78 509.12L88.47 509.05L89.16 508.99L89.85 508.92L90.54 508.85L91.23 508.76L91.92 508.67L92.61 508.56L93.3 508.45L93.99 508.33L94.68 508.2L95.37 508.06L96.06 507.92L96.75 507.77L97.44 507.62L98.13 507.46L98.82 507.3L99.51 507.14L100.2 506.97L100.89 506.8L101.57 506.64L102.26 506.47L102.95 506.3L103.64 506.14L104.33 505.97L105.02 505.81L105.71 505.65L106.4 505.5L107.09 505.35L107.78 505.21L108.47 505.07L109.16 504.94L109.85 504.82L110.54 504.7L111.23 504.58L111.92 504.46L112.61 504.33L113.3 504.21L113.99 504.08L114.68 503.95L115.37 503.83L116.06 503.7L116.74 503.57L117.43 503.45L118.12 503.32L118.81 503.2L119.5 503.08L120.19 502.96L120.88 502.85L121.57 502.74L122.26 502.63L122.95 502.53L123.64 502.43L124.33 502.34L125.02 502.25L125.71 502.17L126.4 502.1L127.09 502.03L127.78 501.97L128.47 501.92L129.16 501.88L129.85 501.84L130.54 501.82L131.23 501.8L131.91 501.78L132.6 501.77L133.29 501.75L133.98 501.74L134.67 501.73L135.36 501.72L136.05 501.71L136.74 501.7L137.43 501.69L138.12 501.68L138.81 501.67L139.5 501.67L140.19 501.66L140.88 501.65L141.57 501.64L142.26 501.64L142.95 501.63L143.64 501.62L144.33 501.62L145.02 501.61L145.71 501.6L146.4 501.59L147.08 501.59L147.77 501.58L148.46 501.57L149.15 501.56L149.84 501.54L150.53 501.53L151.22 501.52L151.91 501.5L152.6 501.48L153.29 501.46L153.98 501.43L154.67 501.4L155.36 501.37L156.05 501.34L156.74 501.3L157.43 501.26L158.12 501.23L158.81 501.19L159.5 501.14L160.19 501.1L160.88 501.06L161.57 501.02L162.25 500.98L162.94 500.94L163.63 500.9L164.32 500.86L165.01 500.83L165.7 500.79L166.39 500.76L167.08 500.73L167.77 500.71L168.46 500.68L169.15 500.66L169.84 500.65L170.53 500.63L171.22 500.63L171.91 500.62L172.6 500.62L173.29 500.63L173.98 500.64L174.67 500.65L175.36 500.66L176.05 500.68L176.74 500.7L177.42 500.72L178.11 500.75L178.8 500.77L179.49 500.8L180.18 500.83L180.87 500.86L181.56 500.89L182.25 500.92L182.94 500.94L183.63 500.97L184.32 501L185.01 501.03L185.7 501.06L186.39 501.08L187.08 501.11L187.77 501.13L188.46 501.15L189.15 501.17L189.84 501.19L190.53 501.2L191.22 501.21L191.91 501.21L192.59 501.22L193.28 501.22L193.97 501.22L194.66 501.22L195.35 501.22L196.04 501.22L196.73 501.22L197.42 501.22L198.11 501.22L198.8 501.22L199.49 501.22L200.18 501.22L200.87 501.22L201.56 501.22L202.25 501.22L202.94 501.22L203.63 501.22L204.32 501.22L205.01 501.22L205.7 501.22L206.39 501.22L207.08 501.22L207.76 501.22L208.45 501.22L209.14 501.22L209.83 501.22L210.52 501.22L211.21 501.22L211.9 501.22L212.59 501.22L213.28 501.22L213.97 501.22L214.66 501.21L215.35 501.21L216.04 501.2L216.73 501.2L217.42 501.19L218.11 501.18L218.8 501.17L219.49 501.15L220.18 501.14L220.87 501.13L221.56 501.11L222.25 501.1L222.93 501.08L223.62 501.07L224.31 501.05L225 501.04L225.69 501.03L226.38 501.01L227.07 501L227.76 500.98L228.45 500.97L229.14 500.96L229.83 500.95L230.52 500.94L231.21 500.93L231.9 500.93L232.59 500.92L233.28 500.92L233.97 500.92L234.66 500.92L235.35 500.93L236.04 500.93L236.73 500.94L237.42 500.96L238.1 500.97L238.79 500.99L239.48 501.01L240.17 501.03L240.86 501.06L241.55 501.08L242.24 501.11L242.93 501.13L243.62 501.16L244.31 501.19L245 501.22" fill="none" stroke="#000" stroke-width="1.05"/>
<path d="M49.17 511.3L49.86 511.3L50.55 511.3L51.24 511.3L51.93 511.29L52.62 511.29L53.31 511.28L54 511.28L54.69 511.27L55.38 511.27L56.06 511.26L56.75 511.25L57.44 511.24L58.13 511.23L58.82 511.22L59.51 511.21L60.2 511.19L60.89 511.18L61.58 511.17L62.27 511.15L62.96 511.14L63.65 511.12L64.34 511.1L65.03 511.09L65.72 511.07L66.41 511.05L67.1 511.03L67.79 511.01L68.48 510.99L69.17 510.97L69.86 510.95L70.55 510.93L71.23 510.9L71.92 510.88L72.61 510.86L73.3 510.83L73.99 510.81L74.68 510.78L75.37 510.76L76.06 510.73L76.75 510.7L77.44 510.68L78.13 510.65L78.82 510.62L79.51 510.59L80.2 510.56L80.89 510.53L81.58 510.5L82.27 510.47L82.96 510.44L83.65 510.41L84.34 510.38L85.03 510.34L85.72 510.31L86.4 510.28L87.09 510.25L87.78 510.21L88.47 510.18L89.16 510.14L89.85 510.11L90.54 510.07L91.23 510.03L91.92 509.98L92.61 509.92L93.3 509.86L93.99 509.8L94.68 509.73L95.37 509.66L96.06 509.58L96.75 509.5L97.44 509.42L98.13 509.33L98.82 509.24L99.51 509.15L100.2 509.06L100.89 508.97L101.57 508.87L102.26 508.78L102.95 508.68L103.64 508.58L104.33 508.49L105.02 508.39L105.71 508.3L106.4 508.21L107.09 508.11L107.78 508.02L108.47 507.94L109.16 507.85L109.85 507.77L110.54 507.69L111.23 507.61L111.92 507.52L112.61 507.44L113.3 507.35L113.99 507.27L114.68 507.18L115.37 507.09L116.06 507.01L116.74 506.92L117.43 506.83L118.12 506.74L118.81 506.65L119.5 506.57L120.19 506.48L120.88 506.4L121.57 506.31L122.26 506.23L122.95 506.15L123.64 506.07L124.33 505.99L125.02 505.91L125.71 505.84L126.4 505.76L127.09 505.69L127.78 505.63L128.47 505.56L129.16 505.5L129.85 505.44L130.54 505.38L131.23 505.33L131.91 505.28L132.6 505.22L133.29 505.17L133.98 505.11L134.67 505.06L135.36 505L136.05 504.95L136.74 504.89L137.43 504.84L138.12 504.79L138.81 504.74L139.5 504.69L140.19 504.64L140.88 504.59L141.57 504.54L142.26 504.5L142.95 504.46L143.64 504.42L144.33 504.38L145.02 504.35L145.71 504.32L146.4 504.29L147.08 504.26L147.77 504.24L148.46 504.22L149.15 504.2L149.84 504.19L150.53 504.19L151.22 504.18L151.91 504.18L152.6 504.18L153.29 504.18L153.98 504.18L154.67 504.18L155.36 504.18L156.05 504.18L156.74 504.18L157.43 504.18L158.12 504.18L158.81 504.18L159.5 504.18L160.19 504.18L160.88 504.18L161.57 504.18L162.25 504.18L162.94 504.18L163.63 504.18L164.32 504.18L165.01 504.18L165.7 504.18L166.39 504.18L167.08 504.18L167.77 504.18L168.46 504.18L169.15 504.18L169.84 504.18L170.53 504.18L171.22 504.18L171.91 504.18L172.6 504.18L173.29 504.19L173.98 504.19L174.67 504.2L175.36 504.21L176.05 504.22L176.74 504.24L177.42 504.25L178.11 504.27L178.8 504.29L179.49 504.31L180.18 504.33L180.87 504.35L181.56 504.38L182.25 504.4L182.94 504.43L183.63 504.45L184.32 504.48L185.01 504.5L185.7 504.53L186.39 504.56L187.08 504.58L187.77 504.61L188.46 504.63L189.15 504.66L189.84 504.68L190.53 504.71L191.22 504.73L191.91 504.75L192.59 504.77L193.28 504.79L193.97 504.81L194.66 504.83L195.35 504.85L196.04 504.87L196.73 504.89L197.42 504.91L198.11 504.93L198.8 504.95L199.49 504.97L200.18 504.99L200.87 505.01L201.56 505.03L202.25 505.05L202.94 505.07L203.63 505.09L204.32 505.11L205.01 505.13L205.7 505.15L206.39 505.17L207.08 505.19L207.76 505.21L208.45 505.23L209.14 505.25L209.83 505.27L210.52 505.29L211.21 505.31L211.9 505.33L212.59 505.35L213.28 505.37L213.97 505.39L214.66 505.41L215.35 505.43L216.04 505.45L216.73 505.47L217.42 505.49L218.11 505.51L218.8 505.53L219.49 505.55L220.18 505.57L220.87 505.59L221.56 505.61L222.25 505.63L222.93 505.65L223.62 505.67L224.31 505.69L225 505.71L225.69 505.73L226.38 505.75L227.07 505.77L227.76 505.79L228.45 505.81L229.14 505.83L229.83 505.85L230.52 505.86L231.21 505.88L231.9 505.9L232.59 505.92L233.28 505.94L233.97 505.96L234.66 505.98L235.35 506L236.04 506.02L236.73 506.04L237.42 506.06L238.1 506.07L238.79 506.09L239.48 506.11L240.17 506.13L240.86 506.15L241.55 506.17L242.24 506.19L242.93 506.2L243.62 506.22L244.31 506.24L245 506.26" fill="none" stroke="#000" stroke-width="1.05"/>
<path d="M49.17 511.3L49.86 511.27L50.55 511.23L51.24 511.2L51.93 511.16L52.62 511.13L53.31 511.09L54 511.05L54.69 511.02L55.38 510.98L56.06 510.95L56.75 510.91L57.44 510.87L58.13 510.84L58.82 510.8L59.51 510.77L60.2 510.74L60.89 510.7L61.58 510.67L62.27 510.64L62.96 510.61L63.65 510.58L64.34 510.56L65.03 510.53L65.72 510.51L66.41 510.48L67.1 510.46L67.79 510.45L68.48 510.43L69.17 510.42L69.86 510.4L70.55 510.39L71.23 510.38L71.92 510.37L72.61 510.36L73.3 510.35L73.99 510.33L74.68 510.32L75.37 510.31L76.06 510.3L76.75 510.29L77.44 510.28L78.13 510.26L78.82 510.25L79.51 510.24L80.2 510.23L80.89 510.22L81.58 510.21L82.27 510.2L82.96 510.19L83.65 510.18L84.34 510.17L85.03 510.15L85.72 510.14L86.4 510.13L87.09 510.12L87.78 510.11L88.47 510.1L89.16 510.09L89.85 510.08L90.54 510.07L91.23 510.06L91.92 510.05L92.61 510.04L93.3 510.03L93.99 510.02L94.68 510.01L95.37 510L96.06 509.99L96.75 509.98L97.44 509.97L98.13 509.96L98.82 509.95L99.51 509.94L100.2 509.93L100.89 509.92L101.57 509.91L102.26 509.9L102.95 509.89L103.64 509.88L104.33 509.87L105.02 509.86L105.71 509.85L106.4 509.84L107.09 509.83L107.78 509.83L108.47 509.82L109.16 509.81L109.85 509.8L110.54 509.79L111.23 509.78L111.92 509.77L112.61 509.76L113.3 509.75L113.99 509.74L114.68 509.74L115.37 509.73L116.06 509.72L116.74 509.71L117.43 509.7L118.12 509.69L118.81 509.68L119.5 509.68L120.19 509.67L120.88 509.66L121.57 509.65L122.26 509.64L122.95 509.64L123.64 509.63L124.33 509.62L125.02 509.61L125.71 509.6L126.4 509.6L127.09 509.59L127.78 509.58L128.47 509.57L129.16 509.56L129.85 509.56L130.54 509.55L131.23 509.54L131.91 509.53L132.6 509.53L133.29 509.52L133.98 509.51L134.67 509.5L135.36 509.5L136.05 509.49L136.74 509.48L137.43 509.48L138.12 509.47L138.81 509.46L139.5 509.45L140.19 509.45L140.88 509.44L141.57 509.43L142.26 509.43L142.95 509.42L143.64 509.41L144.33 509.41L145.02 509.4L145.71 509.39L146.4 509.39L147.08 509.38L147.77 509.37L148.46 509.37L149.15 509.36L149.84 509.35L150.53 509.35L151.22 509.34L151.91 509.34L152.6 509.33L153.29 509.32L153.98 509.32L154.67 509.31L155.36 509.31L156.05 509.3L156.74 509.29L157.43 509.29L158.12 509.28L158.81 509.28L159.5 509.27L160.19 509.27L160.88 509.26L161.57 509.26L162.25 509.25L162.94 509.24L163.63 509.24L164.32 509.23L165.01 509.23L165.7 509.22L166.39 509.22L167.08 509.21L167.77 509.21L168.46 509.2L169.15 509.2L169.84 509.19L170.53 509.19L171.22 509.18L171.91 509.18L172.6 509.17L173.29 509.17L173.98 509.16L174.67 509.16L175.36 509.15L176.05 509.15L176.74 509.15L177.42 509.14L178.11 509.14L178.8 509.13L179.49 509.13L180.18 509.12L180.87 509.12L181.56 509.12L182.25 509.11L182.94 509.11L183.63 509.1L184.32 509.1L185.01 509.1L185.7 509.09L186.39 509.09L187.08 509.08L187.77 509.08L188.46 509.08L189.15 509.07L189.84 509.07L190.53 509.07L191.22 509.06L191.91 509.06L192.59 509.06L193.28 509.05L193.97 509.05L194.66 509.05L195.35 509.04L196.04 509.04L196.73 509.04L197.42 509.03L198.11 509.03L198.8 509.03L199.49 509.02L200.18 509.02L200.87 509.02L201.56 509.02L202.25 509.01L202.94 509.01L203.63 509.01L204.32 509L205.01 509L205.7 509L206.39 509L207.08 508.99L207.76 508.99L208.45 508.99L209.14 508.99L209.83 508.98L210.52 508.98L211.21 508.98L211.9 508.98L212.59 508.98L213.28 508.97L213.97 508.97L214.66 508.97L215.35 508.97L216.04 508.97L216.73 508.96L217.42 508.96L218.11 508.96L218.8 508.96L219.49 508.96L220.18 508.96L220.87 508.95L221.56 508.95L222.25 508.95L222.93 508.95L223.62 508.95L224.31 508.95L225 508.95L225.69 508.94L226.38 508.94L227.07 508.94L227.76 508.94L228.45 508.94L229.14 508.94L229.83 508.94L230.52 508.94L231.21 508.94L231.9 508.94L232.59 508.93L233.28 508.93L233.97 508.93L234.66 508.93L235.35 508.93L236.04 508.93L236.73 508.93L237.42 508.93L238.1 508.93L238.79 508.93L239.48 508.93L240.17 508.93L240.86 508.93L241.55 508.93L242.24 508.93L242.93 508.93L243.62 508.93L244.31 508.93L245 508.93" fill="none" stroke="#000" stroke-width="1.05"/>
<circle cx="90.19" cy="500.27" r="2.75" fill="#000" />
<circle cx="110.71" cy="481.07" r="2.75" fill="#000" />
<circle cx="131.22" cy="475.42" r="2.75" fill="#000" />
<circle cx="151.73" cy="481.76" r="2.75" fill="#000" />
<circle cx="172.24" cy="488.23" r="2.75" fill="#000" />
<circle cx="192.76" cy="495.01" r="2.75" fill="#000" />
<circle cx="213.27" cy="500.9" r="2.75" fill="#000" />
<circle cx="233.78" cy="504.75" r="2.75" fill="#000" />
<rect x="82.23" y="501.09" width="5.6" height="5.6" fill="#000" />
<rect x="117.27" y="477.95" width="5.6" height="5.6" fill="#000" />
<rect x="152.03" y="482.99" width="5.6" height="5.6" fill="#000" />
<rect x="186.79" y="497.22" width="5.6" height="5.6" fill="#000" />
<rect x="221.55" y="503.46" width="5.6" height="5.6" fill="#000" />
<path d="M110.71 503.51L113.91 506.71L110.71 509.91L107.51 506.71Z" fill="#000" />
<path d="M131.22 496.67L134.42 499.87L131.22 503.07L128.02 499.87Z" fill="#000" />
<path d="M151.73 489.32L154.93 492.52L151.73 495.72L148.53 492.52Z" fill="#000" />
<path d="M172.24 485.26L175.44 488.46L172.24 491.66L169.04 488.46Z" fill="#000" />
<path d="M192.76 488.7L195.96 491.9L192.76 495.1L189.56 491.9Z" fill="#000" />
<path d="M213.27 493.11L216.47 496.31L213.27 499.51L210.07 496.31Z" fill="#000" />
<path d="M233.78 497.26L236.98 500.46L233.78 503.66L230.58 500.46Z" fill="#000" />
<path d="M90.19 512.88L93.49 508.1L86.89 508.1Z" fill="#000" />
<path d="M110.71 512.59L114.01 507.81L107.41 507.81Z" fill="#000" />
<path d="M131.22 512.35L134.52 507.56L127.92 507.56Z" fill="#000" />
<path d="M151.73 512.14L155.03 507.36L148.43 507.36Z" fill="#000" />
<path d="M172.24 511.98L175.54 507.2L168.94 507.2Z" fill="#000" />
<path d="M192.76 511.86L196.06 507.07L189.46 507.07Z" fill="#000" />
<path d="M213.27 511.78L216.57 506.99L209.97 506.99Z" fill="#000" />
<path d="M233.78 511.74L237.08 506.95L230.48 506.95Z" fill="#000" />
<rect x="87.39" y="497.63" width="5.6" height="5.6" fill="white" stroke="#555" stroke-width="0.9"/>
<rect x="107.91" y="488.5" width="5.6" height="5.6" fill="white" stroke="#555" stroke-width="0.9"/>
<rect x="128.42" y="478.25" width="5.6" height="5.6" fill="white" stroke="#555" stroke-width="0.9"/>
<rect x="148.93" y="480.38" width="5.6" height="5.6" fill="white" stroke="#555" stroke-width="0.9"/>
<rect x="169.44" y="487.81" width="5.6" height="5.6" fill="white" stroke="#555" stroke-width="0.9"/>
<rect x="189.96" y="495.17" width="5.6" height="5.6" fill="white" stroke="#555" stroke-width="0.9"/>
<rect x="210.47" y="500.18" width="5.6" height="5.6" fill="white" stroke="#555" stroke-width="0.9"/>
<rect x="230.98" y="503.14" width="5.6" height="5.6" fill="white" stroke="#555" stroke-width="0.9"/>
<path d="M90.19 503.96L93.49 508.74L86.89 508.74Z" fill="white" stroke="#555" stroke-width="0.9"/>
<path d="M110.71 499.21L114.01 503.99L107.41 503.99Z" fill="white" stroke="#555" stroke-width="0.9"/>
<path d="M131.22 486.01L134.52 490.8L127.92 490.8Z" fill="white" stroke="#555" stroke-width="0.9"/>
<path d="M151.73 477.95L155.03 482.74L148.43 482.74Z" fill="white" stroke="#555" stroke-width="0.9"/>
<path d="M172.24 484.84L175.54 489.63L168.94 489.63Z" fill="white" stroke="#555" stroke-width="0.9"/>
<path d="M192.76 493.1L196.06 497.88L189.46 497.88Z" fill="white" stroke="#555" stroke-width="0.9"/>
<path d="M213.27 498.69L216.57 503.48L209.97 503.48Z" fill="white" stroke="#555" stroke-width="0.9"/>
<path d="M233.78 501.94L237.08 506.73L230.48 506.73Z" fill="white" stroke="#555" stroke-width="0.9"/>
<circle cx="89.64" cy="500.62" r="2.75" fill="white" stroke="#555" stroke-width="0.9"/>
<circle cx="123.85" cy="479.57" r="2.75" fill="white" stroke="#555" stroke-width="0.9"/>
<circle cx="158.27" cy="489.35" r="2.75" fill="white" stroke="#555" stroke-width="0.9"/>
<circle cx="192.69" cy="499.73" r="2.75" fill="white" stroke="#555" stroke-width="0.9"/>
<circle cx="227.1" cy="505.96" r="2.75" fill="white" stroke="#555" stroke-width="0.9"/>
<path d="M90.19 505.69L93.39 508.89L90.19 512.09L86.99 508.89Z" fill="white" stroke="#555" stroke-width="0.9"/>
<path d="M110.71 501.47L113.91 504.67L110.71 507.87L107.51 504.67Z" fill="white" stroke="#555" stroke-width="0.9"/>
<path d="M131.22 498.6L134.42 501.8L131.22 505L128.02 501.8Z" fill="white" stroke="#555" stroke-width="0.9"/>
<path d="M151.73 498.31L154.93 501.51L151.73 504.71L148.53 501.51Z" fill="white" stroke="#555" stroke-width="0.9"/>
<path d="M172.24 497.42L175.44 500.62L172.24 503.82L169.04 500.62Z" fill="white" stroke="#555" stroke-width="0.9"/>
<path d="M192.76 498.02L195.96 501.22L192.76 504.42L189.56 501.22Z" fill="white" stroke="#555" stroke-width="0.9"/>
<path d="M213.27 498.02L216.47 501.22L213.27 504.42L210.07 501.22Z" fill="white" stroke="#555" stroke-width="0.9"/>
<path d="M233.78 497.72L236.98 500.92L233.78 504.12L230.58 500.92Z" fill="white" stroke="#555" stroke-width="0.9"/>
<path d="M90.19 512.9L93.49 508.11L86.89 508.11Z" fill="white" stroke="#555" stroke-width="0.9"/>
<path d="M110.71 510.47L114.01 505.69L107.41 505.69Z" fill="white" stroke="#555" stroke-width="0.9"/>
<path d="M131.22 508.14L134.52 503.35L127.92 503.35Z" fill="white" stroke="#555" stroke-width="0.9"/>
<path d="M151.73 506.99L155.03 502.2L148.43 502.2Z" fill="white" stroke="#555" stroke-width="0.9"/>
<path d="M172.24 506.99L175.54 502.2L168.94 502.2Z" fill="white" stroke="#555" stroke-width="0.9"/>
<path d="M192.76 507.58L196.06 502.8L189.46 502.8Z" fill="white" stroke="#555" stroke-width="0.9"/>
<path d="M213.27 508.17L216.57 503.39L209.97 503.39Z" fill="white" stroke="#555" stroke-width="0.9"/>
<path d="M233.78 508.76L237.08 503.98L230.48 503.98Z" fill="white" stroke="#555" stroke-width="0.9"/>
<rect x="46.37" y="508.5" width="5.6" height="5.6" fill="white" stroke="#555" stroke-width="0.9"/>
<rect x="66.88" y="507.89" width="5.6" height="5.6" fill="white" stroke="#555" stroke-width="0.9"/>
<path d="M49.17 508.5L52.47 513.28L45.87 513.28Z" fill="white" stroke="#555" stroke-width="0.9"/>
<path d="M69.68 508.19L72.98 512.98L66.38 512.98Z" fill="white" stroke="#555" stroke-width="0.9"/>
<circle cx="55.02" cy="511.3" r="2.75" fill="white" stroke="#555" stroke-width="0.9"/>
<path d="M49.17 508.1L52.37 511.3L49.17 514.5L45.97 511.3Z" fill="white" stroke="#555" stroke-width="0.9"/>
<path d="M69.68 507.39L72.88 510.59L69.68 513.79L66.48 510.59Z" fill="white" stroke="#555" stroke-width="0.9"/>
<path d="M49.17 514.11L52.47 509.32L45.87 509.32Z" fill="white" stroke="#555" stroke-width="0.9"/>
<path d="M69.68 513.76L72.98 508.97L66.38 508.97Z" fill="white" stroke="#555" stroke-width="0.9"/>
<circle cx="49.17" cy="511.3" r="2.75" fill="#000" />
<circle cx="69.68" cy="510.69" r="2.75" fill="#000" />
<rect x="47.4" y="508.2" width="5.6" height="5.6" fill="#000" />
<path d="M49.17 508.1L52.37 511.3L49.17 514.5L45.97 511.3Z" fill="#000" />
<path d="M69.68 507.87L72.88 511.07L69.68 514.27L66.48 511.07Z" fill="#000" />
<path d="M90.19 507.19L93.39 510.39L90.19 513.59L86.99 510.39Z" fill="#000" />
<path d="M49.17 514.11L52.47 509.32L45.87 509.32Z" fill="#000" />
<path d="M69.68 513.21L72.98 508.43L66.38 508.43Z" fill="#000" />
<path d="M305.2 317.59L305.82 318.13L306.45 320.25L307.07 324.2L307.69 330.01L308.32 337.48L308.94 346.31L309.56 356.11L310.19 366.46L310.81 377.01L311.43 387.43L312.06 397.49L312.68 407.03L313.3 415.93L313.93 424.16L314.55 431.7L315.17 438.56L315.8 444.78L316.42 450.4L317.04 455.48L317.67 460.05L318.29 464.18L318.91 467.89L319.54 471.24L320.16 474.27L320.78 477.01L321.41 479.49L322.03 481.73L322.66 483.77L323.28 485.63L323.9 487.32L324.53 488.87L325.15 490.28L325.77 491.58L326.4 492.77L327.02 493.86L327.64 494.87L328.27 495.8L328.89 496.65L329.51 497.45L330.14 498.18L330.76 498.87L331.38 499.5L332.01 500.09L332.63 500.64L333.25 501.15L333.88 501.63L334.5 502.08L335.12 502.5L335.75 502.9L336.37 503.27L336.99 503.61L337.62 503.94L338.24 504.25L338.86 504.54L339.49 504.81L340.11 505.07L340.73 505.32L341.36 505.55L341.98 505.77L342.6 505.97L343.23 506.17L343.85 506.36L344.47 506.54L345.1 506.7L345.72 506.86L346.34 507.02L346.97 507.16L347.59 507.3L348.21 507.44L348.84 507.56L349.46 507.68L350.08 507.8L350.71 507.91L351.33 508.01L351.95 508.12L352.58 508.21L353.2 508.31L353.83 508.39L354.45 508.48L355.07 508.56L355.7 508.64L356.32 508.72L356.94 508.79L357.57 508.86L358.19 508.93L358.81 508.99L359.44 509.05L360.06 509.11L360.68 509.17L361.31 509.23L361.93 509.28L362.55 509.33L363.18 509.38L363.8 509.43L364.42 509.48L365.05 509.52L365.67 509.57L366.29 509.61L366.92 509.65L367.54 509.69L368.16 509.73L368.79 509.77L369.41 509.8L370.03 509.84L370.66 509.87L371.28 509.9L371.9 509.94L372.53 509.97L373.15 510L373.77 510.03L374.4 510.05L375.02 510.08L375.64 510.11L376.27 510.13L376.89 510.16L377.51 510.18L378.14 510.21L378.76 510.23L379.38 510.25L380.01 510.27L380.63 510.29L381.25 510.31L381.88 510.33L382.5 510.35L383.12 510.37L383.75 510.39L384.37 510.41L385 510.43L385.62 510.44L386.24 510.46L386.87 510.48L387.49 510.49L388.11 510.51L388.74 510.52L389.36 510.54L389.98 510.55L390.61 510.57L391.23 510.58L391.85 510.59L392.48 510.61L393.1 510.62L393.72 510.63L394.35 510.65L394.97 510.66L395.59 510.67L396.22 510.68L396.84 510.69L397.46 510.7L398.09 510.71L398.71 510.72L399.33 510.73L399.96 510.74L400.58 510.75L401.2 510.76L401.83 510.77L402.45 510.78L403.07 510.79L403.7 510.8L404.32 510.81L404.94 510.82L405.57 510.83L406.19 510.83L406.81 510.84L407.44 510.85L408.06 510.86L408.68 510.86L409.31 510.87L409.93 510.88L410.55 510.89L411.18 510.89L411.8 510.9L412.42 510.91L413.05 510.91L413.67 510.92L414.29 510.93L414.92 510.93L415.54 510.94L416.17 510.94L416.79 510.95L417.41 510.95L418.04 510.96L418.66 510.97L419.28 510.97L419.91 510.98L420.53 510.98L421.15 510.99L421.78 510.99L422.4 511L423.02 511L423.65 511.01L424.27 511.01L424.89 511.02L425.52 511.02L426.14 511.03L426.76 511.03L427.39 511.03L428.01 511.04L428.63 511.04L429.26 511.05L429.88 511.05" fill="none" stroke="#000" stroke-width="1.1"/>
<path d="M305.2 317.59L306.24 327.54L307.28 336.5L308.32 344.61L309.36 351.98L310.39 358.72L311.43 364.9L312.47 370.59L313.51 375.84L314.55 380.7L315.59 385.23L316.63 389.44L317.67 393.37L318.71 397.05L319.75 400.51L320.78 403.76L321.82 406.81L322.86 409.7L323.9 412.43L324.94 415.01L325.98 417.46L327.02 419.78L328.06 421.99L329.1 424.09L330.14 426.09L331.18 428L332.21 429.83L333.25 431.58L334.29 433.25L335.33 434.85L336.37 436.38L337.41 437.86L338.45 439.27L339.49 440.63L340.53 441.94L341.56 443.2L342.6 444.42L343.64 445.59L344.68 446.72L345.72 447.81L346.76 448.86L347.8 449.88L348.84 450.86L349.88 451.82L350.92 452.74L351.95 453.63L352.99 454.5L354.03 455.34L355.07 456.16L356.11 456.95L357.15 457.72L358.19 458.46L359.23 459.19L360.27 459.9L361.31 460.58L362.34 461.25L363.38 461.9L364.42 462.53L365.46 463.15L366.5 463.75L367.54 464.34L368.58 464.91L369.62 465.47L370.66 466.01L371.7 466.54L372.74 467.06L373.77 467.57L374.81 468.06L375.85 468.54L376.89 469.02L377.93 469.48L378.97 469.93L380.01 470.37L381.05 470.8L382.09 471.23L383.12 471.64L384.16 472.04L385.2 472.44L386.24 472.83L387.28 473.21L388.32 473.58L389.36 473.95L390.4 474.31L391.44 474.66L392.48 475.01L393.51 475.35L394.55 475.68L395.59 476L396.63 476.32L397.67 476.64L398.71 476.95L399.75 477.25L400.79 477.55L401.83 477.84L402.87 478.12L403.9 478.41L404.94 478.68L405.98 478.96L407.02 479.22L408.06 479.49L409.1 479.75L410.14 480L411.18 480.25L412.22 480.5L413.26 480.74L414.29 480.98L415.33 481.21L416.37 481.44L417.41 481.67L418.45 481.9L419.49 482.12L420.53 482.33L421.57 482.55L422.61 482.76L423.65 482.97L424.69 483.17L425.72 483.37L426.76 483.57L427.8 483.77L428.84 483.96L429.88 484.15L430.92 484.34L431.96 484.52L433 484.71L434.04 484.89L435.07 485.06L436.11 485.24L437.15 485.41L438.19 485.58L439.23 485.75L440.27 485.91L441.31 486.08L442.35 486.24L443.39 486.4L444.43 486.56L445.47 486.71L446.5 486.87L447.54 487.02L448.58 487.17L449.62 487.31L450.66 487.46L451.7 487.6L452.74 487.75L453.78 487.89L454.82 488.03L455.86 488.16L456.89 488.3L457.93 488.43L458.97 488.56L460.01 488.69L461.05 488.82L462.09 488.95L463.13 489.08L464.17 489.2L465.21 489.33L466.25 489.45L467.28 489.57L468.32 489.69L469.36 489.81L470.4 489.92L471.44 490.04L472.48 490.15L473.52 490.27L474.56 490.38L475.6 490.49L476.63 490.6L477.67 490.71L478.71 490.81L479.75 490.92L480.79 491.02L481.83 491.13L482.87 491.23L483.91 491.33L484.95 491.43L485.99 491.53L487.02 491.63L488.06 491.73L489.1 491.82L490.14 491.92L491.18 492.01L492.22 492.11L493.26 492.2L494.3 492.29L495.34 492.38L496.38 492.47L497.41 492.56L498.45 492.65L499.49 492.74L500.53 492.82L501.57 492.91L502.61 492.99L503.65 493.08L504.69 493.16L505.73 493.24L506.77 493.33L507.81 493.41L508.84 493.49L509.88 493.57L510.92 493.65L511.96 493.72L513 493.8" fill="none" stroke="#000" stroke-width="1.1"/>
<path d="M305.2 317.59L306.24 320.16L307.28 322.65L308.32 325.06L309.36 327.4L310.39 329.66L311.43 331.86L312.47 333.99L313.51 336.06L314.55 338.08L315.59 340.03L316.63 341.93L317.67 343.78L318.71 345.58L319.75 347.34L320.78 349.04L321.82 350.71L322.86 352.33L323.9 353.91L324.94 355.46L325.98 356.97L327.02 358.44L328.06 359.87L329.1 361.28L330.14 362.65L331.18 363.99L332.21 365.3L333.25 366.59L334.29 367.84L335.33 369.07L336.37 370.28L337.41 371.45L338.45 372.61L339.49 373.74L340.53 374.85L341.56 375.93L342.6 377L343.64 378.04L344.68 379.07L345.72 380.08L346.76 381.06L347.8 382.03L348.84 382.98L349.88 383.91L350.92 384.83L351.95 385.73L352.99 386.62L354.03 387.49L355.07 388.34L356.11 389.18L357.15 390.01L358.19 390.82L359.23 391.62L360.27 392.41L361.31 393.18L362.34 393.94L363.38 394.69L364.42 395.43L365.46 396.15L366.5 396.87L367.54 397.57L368.58 398.27L369.62 398.95L370.66 399.62L371.7 400.28L372.74 400.94L373.77 401.58L374.81 402.22L375.85 402.84L376.89 403.46L377.93 404.07L378.97 404.67L380.01 405.26L381.05 405.84L382.09 406.42L383.12 406.98L384.16 407.54L385.2 408.1L386.24 408.64L387.28 409.18L388.32 409.71L389.36 410.24L390.4 410.75L391.44 411.27L392.48 411.77L393.51 412.27L394.55 412.76L395.59 413.25L396.63 413.73L397.67 414.2L398.71 414.67L399.75 415.14L400.79 415.59L401.83 416.05L402.87 416.49L403.9 416.94L404.94 417.37L405.98 417.81L407.02 418.23L408.06 418.66L409.1 419.07L410.14 419.49L411.18 419.9L412.22 420.3L413.26 420.7L414.29 421.1L415.33 421.49L416.37 421.87L417.41 422.26L418.45 422.63L419.49 423.01L420.53 423.38L421.57 423.75L422.61 424.11L423.65 424.47L424.69 424.83L425.72 425.18L426.76 425.53L427.8 425.87L428.84 426.22L429.88 426.55L430.92 426.89L431.96 427.22L433 427.55L434.04 427.88L435.07 428.2L436.11 428.52L437.15 428.83L438.19 429.15L439.23 429.46L440.27 429.76L441.31 430.07L442.35 430.37L443.39 430.67L444.43 430.97L445.47 431.26L446.5 431.55L447.54 431.84L448.58 432.13L449.62 432.41L450.66 432.69L451.7 432.97L452.74 433.24L453.78 433.52L454.82 433.79L455.86 434.06L456.89 434.33L457.93 434.59L458.97 434.85L460.01 435.11L461.05 435.37L462.09 435.62L463.13 435.88L464.17 436.13L465.21 436.38L466.25 436.63L467.28 436.87L468.32 437.11L469.36 437.36L470.4 437.59L471.44 437.83L472.48 438.07L473.52 438.3L474.56 438.53L475.6 438.76L476.63 438.99L477.67 439.22L478.71 439.44L479.75 439.67L480.79 439.89L481.83 440.11L482.87 440.32L483.91 440.54L484.95 440.76L485.99 440.97L487.02 441.18L488.06 441.39L489.1 441.6L490.14 441.8L491.18 442.01L492.22 442.21L493.26 442.42L494.3 442.62L495.34 442.82L496.38 443.01L497.41 443.21L498.45 443.41L499.49 443.6L500.53 443.79L501.57 443.98L502.61 444.17L503.65 444.36L504.69 444.55L505.73 444.73L506.77 444.92L507.81 445.1L508.84 445.28L509.88 445.47L510.92 445.64L511.96 445.82L513 446" fill="none" stroke="#000" stroke-width="1.1"/>
<rect x="301.84" y="299.64" width="6.72" height="6.72" fill="#000" />
<circle cx="305.2" cy="303" r="3.03" fill="white" stroke="#555" stroke-width="0.9"/>
<circle cx="305.2" cy="303" r="3.03" fill="#000" />
<rect x="303.92" y="306.73" width="6.72" height="6.72" fill="#000" />
<circle cx="307.28" cy="315.5" r="3.03" fill="white" stroke="#555" stroke-width="0.9"/>
<circle cx="307.28" cy="308.84" r="3.03" fill="#000" />
<rect x="307.03" y="334.65" width="6.72" height="6.72" fill="#000" />
<circle cx="310.39" cy="376.57" r="3.03" fill="white" stroke="#555" stroke-width="0.9"/>
<circle cx="310.39" cy="354.68" r="3.03" fill="#000" />
<rect x="312.23" y="341.32" width="6.72" height="6.72" fill="#000" />
<circle cx="315.59" cy="385.94" r="3.03" fill="white" stroke="#555" stroke-width="0.9"/>
<circle cx="315.59" cy="444.71" r="3.03" fill="#000" />
<rect x="322.62" y="348.41" width="6.72" height="6.72" fill="#000" />
<circle cx="325.98" cy="391.99" r="3.03" fill="white" stroke="#555" stroke-width="0.9"/>
<circle cx="325.98" cy="486.39" r="3.03" fill="#000" />
<rect x="353.79" y="370.5" width="6.72" height="6.72" fill="#000" />
<circle cx="357.15" cy="462.43" r="3.03" fill="white" stroke="#555" stroke-width="0.9"/>
<circle cx="357.15" cy="506.82" r="3.03" fill="#000" />
<rect x="405.74" y="426.76" width="6.72" height="6.72" fill="#000" />
<circle cx="409.1" cy="483.06" r="3.03" fill="white" stroke="#555" stroke-width="0.9"/>
<circle cx="409.1" cy="510.15" r="3.03" fill="#000" />
<rect x="509.64" y="445.52" width="6.72" height="6.72" fill="#000" />
<circle cx="513" cy="505.15" r="3.03" fill="white" stroke="#555" stroke-width="0.9"/>
<circle cx="513" cy="511.4" r="3.03" fill="#000" />
<rect x="401.8" y="347.5" width="85.7" height="44.2" fill="#fff" stroke="#222" stroke-width="1"/>
<line x1="406" y1="357.6" x2="427" y2="357.6" stroke="#111" stroke-width="0.9"/>
<circle cx="416.7" cy="357.6" r="3.03" fill="#000" />
<text x="428.6" y="361.2" font-size="11.2" font-family="'Liberation Serif', serif" font-weight="bold" stroke="#000" stroke-width="0.3">FIX WT</text>
<line x1="406" y1="369.9" x2="427" y2="369.9" stroke="#111" stroke-width="0.9"/>
<circle cx="416.7" cy="369.9" r="3.03" fill="white" stroke="#555" stroke-width="0.9"/>
<text x="428.6" y="373.5" font-size="11.2" font-family="'Liberation Serif', serif" font-weight="bold" stroke="#000" stroke-width="0.3">FIX R170A</text>
<line x1="406" y1="382.2" x2="427" y2="382.2" stroke="#111" stroke-width="0.9"/>
<rect x="413.62" y="379.12" width="6.16" height="6.16" fill="#000" />
<text x="428.6" y="385.8" font-size="11.2" font-family="'Liberation Serif', serif" font-weight="bold" stroke="#000" stroke-width="0.3">FIX R233A</text>
</svg></body></html>
